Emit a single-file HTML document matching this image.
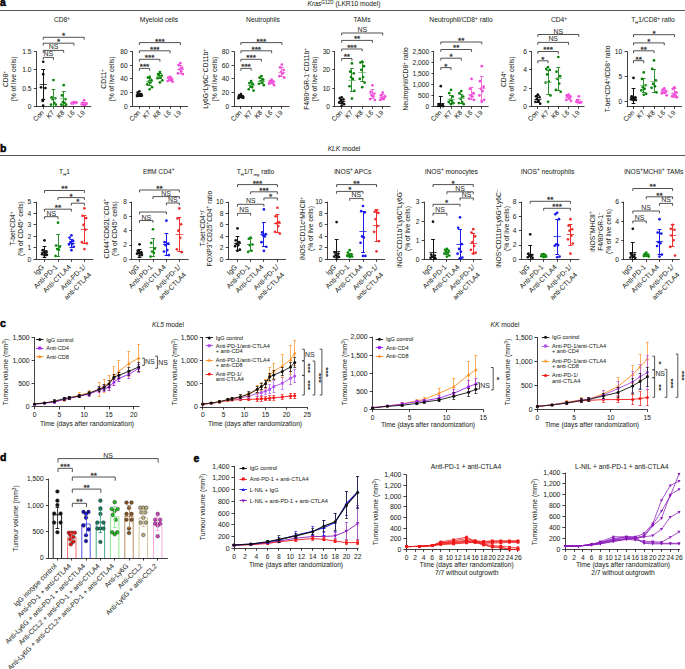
<!DOCTYPE html>
<html><head><meta charset="utf-8"><style>
html,body{margin:0;padding:0;background:#fff;width:685px;height:669px;overflow:hidden}
svg{display:block;font-family:"Liberation Sans",sans-serif}
text{stroke:#231f20;stroke-width:0.04px}
</style></head><body>
<svg width="685" height="669" viewBox="0 0 685 669">
<rect width="685" height="669" fill="#fff"/>
<text x="0.00" y="5.80" font-size="10.50" text-anchor="start" fill="#000" font-weight="bold" style="stroke:#000;stroke-width:0.45px">a</text>
<line x1="0.00" y1="10.50" x2="685.00" y2="10.50" stroke="#555" stroke-width="1.00"/>
<text x="344.00" y="6.30" font-size="6.70" text-anchor="middle" fill="#231f20"><tspan font-style="italic">Kras</tspan><tspan font-size="4.69" dy="-2.21">G12D</tspan><tspan dy="2.21"> (LKR10 model)</tspan></text>
<line x1="36.50" y1="51.20" x2="36.50" y2="106.75" stroke="#231f20" stroke-width="0.85"/>
<line x1="36.00" y1="106.50" x2="91.30" y2="106.50" stroke="#231f20" stroke-width="0.85"/>
<line x1="33.80" y1="106.50" x2="36.30" y2="106.50" stroke="#231f20" stroke-width="0.85"/>
<text x="31.60" y="108.81" font-size="6.70" text-anchor="end" fill="#231f20">0</text>
<line x1="33.80" y1="88.50" x2="36.30" y2="88.50" stroke="#231f20" stroke-width="0.85"/>
<text x="31.60" y="90.51" font-size="6.70" text-anchor="end" fill="#231f20">0.5</text>
<line x1="33.80" y1="69.50" x2="36.30" y2="69.50" stroke="#231f20" stroke-width="0.85"/>
<text x="31.60" y="72.21" font-size="6.70" text-anchor="end" fill="#231f20">1.0</text>
<line x1="33.80" y1="51.50" x2="36.30" y2="51.50" stroke="#231f20" stroke-width="0.85"/>
<text x="31.60" y="53.91" font-size="6.70" text-anchor="end" fill="#231f20">1.5</text>
<line x1="43.50" y1="106.40" x2="43.50" y2="108.90" stroke="#231f20" stroke-width="0.85"/>
<line x1="53.50" y1="106.40" x2="53.50" y2="108.90" stroke="#231f20" stroke-width="0.85"/>
<line x1="63.50" y1="106.40" x2="63.50" y2="108.90" stroke="#231f20" stroke-width="0.85"/>
<line x1="73.50" y1="106.40" x2="73.50" y2="108.90" stroke="#231f20" stroke-width="0.85"/>
<line x1="84.50" y1="106.40" x2="84.50" y2="108.90" stroke="#231f20" stroke-width="0.85"/>
<text x="44.50" y="113.10" font-size="6.70" text-anchor="end" fill="#231f20" transform="rotate(-45 44.50 113.10)">Con</text>
<text x="54.75" y="113.10" font-size="6.70" text-anchor="end" fill="#231f20" transform="rotate(-45 54.75 113.10)">K7</text>
<text x="65.00" y="113.10" font-size="6.70" text-anchor="end" fill="#231f20" transform="rotate(-45 65.00 113.10)">K8</text>
<text x="75.25" y="113.10" font-size="6.70" text-anchor="end" fill="#231f20" transform="rotate(-45 75.25 113.10)">L6</text>
<text x="85.50" y="113.10" font-size="6.70" text-anchor="end" fill="#231f20" transform="rotate(-45 85.50 113.10)">L9</text>
<line x1="43.50" y1="69.43" x2="43.50" y2="99.45" stroke="#111111" stroke-width="1.00"/>
<line x1="41.30" y1="69.50" x2="45.10" y2="69.50" stroke="#111111" stroke-width="1.00"/>
<line x1="41.30" y1="99.50" x2="45.10" y2="99.50" stroke="#111111" stroke-width="1.00"/>
<circle cx="43.20" cy="61.75" r="1.35" fill="#111111"/>
<circle cx="43.20" cy="74.19" r="1.35" fill="#111111"/>
<circle cx="41.00" cy="87.37" r="1.35" fill="#111111"/>
<circle cx="45.40" cy="88.10" r="1.35" fill="#111111"/>
<circle cx="43.20" cy="99.81" r="1.35" fill="#111111"/>
<circle cx="42.70" cy="100.91" r="1.35" fill="#111111"/>
<circle cx="43.20" cy="105.67" r="1.35" fill="#111111"/>
<line x1="39.60" y1="84.50" x2="46.80" y2="84.50" stroke="#111111" stroke-width="0.80"/>
<line x1="53.50" y1="89.56" x2="53.50" y2="106.40" stroke="#2e8f2e" stroke-width="1.00"/>
<line x1="51.55" y1="89.50" x2="55.35" y2="89.50" stroke="#2e8f2e" stroke-width="1.00"/>
<line x1="51.55" y1="106.50" x2="55.35" y2="106.50" stroke="#2e8f2e" stroke-width="1.00"/>
<circle cx="53.45" cy="80.05" r="1.35" fill="#0a820a"/>
<circle cx="51.65" cy="97.25" r="1.35" fill="#0a820a"/>
<circle cx="55.25" cy="98.35" r="1.35" fill="#0a820a"/>
<circle cx="52.55" cy="99.08" r="1.35" fill="#0a820a"/>
<circle cx="54.35" cy="102.74" r="1.35" fill="#0a820a"/>
<circle cx="51.05" cy="104.57" r="1.35" fill="#0a820a"/>
<circle cx="55.85" cy="104.57" r="1.35" fill="#0a820a"/>
<line x1="49.85" y1="98.50" x2="57.05" y2="98.50" stroke="#6ab36a" stroke-width="0.80"/>
<line x1="63.50" y1="91.03" x2="63.50" y2="105.67" stroke="#2e8f2e" stroke-width="1.00"/>
<line x1="61.80" y1="91.50" x2="65.60" y2="91.50" stroke="#2e8f2e" stroke-width="1.00"/>
<line x1="61.80" y1="105.50" x2="65.60" y2="105.50" stroke="#2e8f2e" stroke-width="1.00"/>
<circle cx="63.70" cy="85.17" r="1.35" fill="#0a820a"/>
<circle cx="61.90" cy="95.42" r="1.35" fill="#0a820a"/>
<circle cx="65.50" cy="99.08" r="1.35" fill="#0a820a"/>
<circle cx="62.80" cy="102.01" r="1.35" fill="#0a820a"/>
<circle cx="64.60" cy="102.74" r="1.35" fill="#0a820a"/>
<circle cx="61.30" cy="104.57" r="1.35" fill="#0a820a"/>
<circle cx="66.10" cy="104.57" r="1.35" fill="#0a820a"/>
<line x1="60.10" y1="98.50" x2="67.30" y2="98.50" stroke="#6ab36a" stroke-width="0.80"/>
<line x1="73.50" y1="102.37" x2="73.50" y2="103.84" stroke="#f46ee0" stroke-width="1.00"/>
<line x1="72.05" y1="102.50" x2="75.85" y2="102.50" stroke="#f46ee0" stroke-width="1.00"/>
<line x1="72.05" y1="103.50" x2="75.85" y2="103.50" stroke="#f46ee0" stroke-width="1.00"/>
<circle cx="73.95" cy="102.01" r="1.35" fill="#f04ad8"/>
<circle cx="72.15" cy="102.74" r="1.35" fill="#f04ad8"/>
<circle cx="75.75" cy="103.11" r="1.35" fill="#f04ad8"/>
<circle cx="73.05" cy="103.47" r="1.35" fill="#f04ad8"/>
<circle cx="74.85" cy="102.74" r="1.35" fill="#f04ad8"/>
<circle cx="71.55" cy="103.47" r="1.35" fill="#f04ad8"/>
<circle cx="76.35" cy="102.37" r="1.35" fill="#f04ad8"/>
<line x1="70.35" y1="103.50" x2="77.55" y2="103.50" stroke="#f46ee0" stroke-width="0.80"/>
<line x1="84.50" y1="102.74" x2="84.50" y2="104.94" stroke="#f46ee0" stroke-width="1.00"/>
<line x1="82.30" y1="102.50" x2="86.10" y2="102.50" stroke="#f46ee0" stroke-width="1.00"/>
<line x1="82.30" y1="104.50" x2="86.10" y2="104.50" stroke="#f46ee0" stroke-width="1.00"/>
<circle cx="84.20" cy="100.18" r="1.35" fill="#f04ad8"/>
<circle cx="82.40" cy="102.74" r="1.35" fill="#f04ad8"/>
<circle cx="86.00" cy="103.84" r="1.35" fill="#f04ad8"/>
<circle cx="83.30" cy="104.57" r="1.35" fill="#f04ad8"/>
<circle cx="85.10" cy="104.94" r="1.35" fill="#f04ad8"/>
<circle cx="81.80" cy="104.20" r="1.35" fill="#f04ad8"/>
<circle cx="86.60" cy="103.47" r="1.35" fill="#f04ad8"/>
<line x1="80.60" y1="103.50" x2="87.80" y2="103.50" stroke="#f46ee0" stroke-width="0.80"/>
<polyline points="43.20,39.70 43.20,37.30 84.20,37.30 84.20,39.70" fill="none" stroke="#333333" stroke-width="0.85"/>
<text transform="translate(63.70 38.20) scale(1 0.82)" font-size="8.20" text-anchor="middle" fill="#333333" style="stroke:#333333;stroke-width:0.35px">*</text>
<polyline points="43.20,45.60 43.20,43.20 73.95,43.20 73.95,45.60" fill="none" stroke="#333333" stroke-width="0.85"/>
<text transform="translate(58.57 44.10) scale(1 0.82)" font-size="8.20" text-anchor="middle" fill="#333333" style="stroke:#333333;stroke-width:0.35px">*</text>
<polyline points="43.20,52.80 43.20,50.40 63.70,50.40 63.70,52.80" fill="none" stroke="#333333" stroke-width="0.85"/>
<text x="53.45" y="49.40" font-size="6.90" text-anchor="middle" fill="#333333">NS</text>
<polyline points="43.20,59.80 43.20,57.40 53.45,57.40 53.45,59.80" fill="none" stroke="#333333" stroke-width="0.85"/>
<text x="48.32" y="56.40" font-size="6.90" text-anchor="middle" fill="#333333">NS</text>
<text x="62.00" y="22.00" font-size="6.70" text-anchor="middle" fill="#231f20">CD8<tspan font-size="4.69" dy="-2.21">+</tspan></text>
<text x="8.00" y="78.95" font-size="6.70" text-anchor="middle" fill="#231f20" transform="rotate(-90 8.00 78.95)">CD8<tspan font-size="4.69" dy="-2.21">+</tspan></text>
<text x="16.50" y="78.95" font-size="6.70" text-anchor="middle" fill="#231f20" transform="rotate(-90 16.50 78.95)">(% of live cells)</text>
<line x1="132.50" y1="51.20" x2="132.50" y2="106.75" stroke="#231f20" stroke-width="0.85"/>
<line x1="132.20" y1="106.50" x2="188.00" y2="106.50" stroke="#231f20" stroke-width="0.85"/>
<line x1="130.00" y1="106.50" x2="132.50" y2="106.50" stroke="#231f20" stroke-width="0.85"/>
<text x="127.80" y="108.81" font-size="6.70" text-anchor="end" fill="#231f20">0</text>
<line x1="130.00" y1="92.50" x2="132.50" y2="92.50" stroke="#231f20" stroke-width="0.85"/>
<text x="127.80" y="95.09" font-size="6.70" text-anchor="end" fill="#231f20">20</text>
<line x1="130.00" y1="78.50" x2="132.50" y2="78.50" stroke="#231f20" stroke-width="0.85"/>
<text x="127.80" y="81.36" font-size="6.70" text-anchor="end" fill="#231f20">40</text>
<line x1="130.00" y1="65.50" x2="132.50" y2="65.50" stroke="#231f20" stroke-width="0.85"/>
<text x="127.80" y="67.64" font-size="6.70" text-anchor="end" fill="#231f20">60</text>
<line x1="130.00" y1="51.50" x2="132.50" y2="51.50" stroke="#231f20" stroke-width="0.85"/>
<text x="127.80" y="53.91" font-size="6.70" text-anchor="end" fill="#231f20">80</text>
<line x1="139.50" y1="106.40" x2="139.50" y2="108.90" stroke="#231f20" stroke-width="0.85"/>
<line x1="149.50" y1="106.40" x2="149.50" y2="108.90" stroke="#231f20" stroke-width="0.85"/>
<line x1="159.50" y1="106.40" x2="159.50" y2="108.90" stroke="#231f20" stroke-width="0.85"/>
<line x1="170.50" y1="106.40" x2="170.50" y2="108.90" stroke="#231f20" stroke-width="0.85"/>
<line x1="180.50" y1="106.40" x2="180.50" y2="108.90" stroke="#231f20" stroke-width="0.85"/>
<text x="140.70" y="113.10" font-size="6.70" text-anchor="end" fill="#231f20" transform="rotate(-45 140.70 113.10)">Con</text>
<text x="150.95" y="113.10" font-size="6.70" text-anchor="end" fill="#231f20" transform="rotate(-45 150.95 113.10)">K7</text>
<text x="161.20" y="113.10" font-size="6.70" text-anchor="end" fill="#231f20" transform="rotate(-45 161.20 113.10)">K8</text>
<text x="171.45" y="113.10" font-size="6.70" text-anchor="end" fill="#231f20" transform="rotate(-45 171.45 113.10)">L6</text>
<text x="181.70" y="113.10" font-size="6.70" text-anchor="end" fill="#231f20" transform="rotate(-45 181.70 113.10)">L9</text>
<line x1="139.50" y1="93.02" x2="139.50" y2="96.11" stroke="#111111" stroke-width="1.00"/>
<line x1="137.50" y1="93.50" x2="141.30" y2="93.50" stroke="#111111" stroke-width="1.00"/>
<line x1="137.50" y1="96.50" x2="141.30" y2="96.50" stroke="#111111" stroke-width="1.00"/>
<circle cx="139.40" cy="91.30" r="1.35" fill="#111111"/>
<circle cx="137.60" cy="92.68" r="1.35" fill="#111111"/>
<circle cx="141.20" cy="94.05" r="1.35" fill="#111111"/>
<circle cx="138.50" cy="94.73" r="1.35" fill="#111111"/>
<circle cx="140.30" cy="95.42" r="1.35" fill="#111111"/>
<circle cx="137.00" cy="96.11" r="1.35" fill="#111111"/>
<circle cx="141.80" cy="95.76" r="1.35" fill="#111111"/>
<circle cx="139.40" cy="94.73" r="1.35" fill="#111111"/>
<line x1="135.80" y1="94.50" x2="143.00" y2="94.50" stroke="#111111" stroke-width="0.80"/>
<line x1="149.50" y1="78.26" x2="149.50" y2="85.13" stroke="#2e8f2e" stroke-width="1.00"/>
<line x1="147.75" y1="78.50" x2="151.55" y2="78.50" stroke="#2e8f2e" stroke-width="1.00"/>
<line x1="147.75" y1="85.50" x2="151.55" y2="85.50" stroke="#2e8f2e" stroke-width="1.00"/>
<circle cx="149.65" cy="76.89" r="1.35" fill="#0a820a"/>
<circle cx="147.85" cy="77.58" r="1.35" fill="#0a820a"/>
<circle cx="151.45" cy="80.32" r="1.35" fill="#0a820a"/>
<circle cx="148.75" cy="81.70" r="1.35" fill="#0a820a"/>
<circle cx="150.55" cy="82.38" r="1.35" fill="#0a820a"/>
<circle cx="147.25" cy="84.44" r="1.35" fill="#0a820a"/>
<circle cx="152.05" cy="87.19" r="1.35" fill="#0a820a"/>
<circle cx="149.65" cy="89.24" r="1.35" fill="#0a820a"/>
<line x1="146.05" y1="81.50" x2="153.25" y2="81.50" stroke="#6ab36a" stroke-width="0.80"/>
<line x1="159.50" y1="73.46" x2="159.50" y2="78.95" stroke="#2e8f2e" stroke-width="1.00"/>
<line x1="158.00" y1="73.50" x2="161.80" y2="73.50" stroke="#2e8f2e" stroke-width="1.00"/>
<line x1="158.00" y1="78.50" x2="161.80" y2="78.50" stroke="#2e8f2e" stroke-width="1.00"/>
<circle cx="159.90" cy="72.09" r="1.35" fill="#0a820a"/>
<circle cx="158.10" cy="74.15" r="1.35" fill="#0a820a"/>
<circle cx="161.70" cy="75.52" r="1.35" fill="#0a820a"/>
<circle cx="159.00" cy="76.20" r="1.35" fill="#0a820a"/>
<circle cx="160.80" cy="76.89" r="1.35" fill="#0a820a"/>
<circle cx="157.50" cy="78.26" r="1.35" fill="#0a820a"/>
<circle cx="162.30" cy="80.32" r="1.35" fill="#0a820a"/>
<circle cx="159.90" cy="82.38" r="1.35" fill="#0a820a"/>
<line x1="156.30" y1="76.50" x2="163.50" y2="76.50" stroke="#6ab36a" stroke-width="0.80"/>
<line x1="170.50" y1="77.23" x2="170.50" y2="80.67" stroke="#f46ee0" stroke-width="1.00"/>
<line x1="168.25" y1="77.50" x2="172.05" y2="77.50" stroke="#f46ee0" stroke-width="1.00"/>
<line x1="168.25" y1="80.50" x2="172.05" y2="80.50" stroke="#f46ee0" stroke-width="1.00"/>
<circle cx="170.15" cy="76.89" r="1.35" fill="#f04ad8"/>
<circle cx="168.35" cy="77.58" r="1.35" fill="#f04ad8"/>
<circle cx="171.95" cy="78.95" r="1.35" fill="#f04ad8"/>
<circle cx="169.25" cy="79.64" r="1.35" fill="#f04ad8"/>
<circle cx="171.05" cy="80.32" r="1.35" fill="#f04ad8"/>
<circle cx="167.75" cy="81.01" r="1.35" fill="#f04ad8"/>
<circle cx="172.55" cy="81.70" r="1.35" fill="#f04ad8"/>
<line x1="166.55" y1="78.50" x2="173.75" y2="78.50" stroke="#f46ee0" stroke-width="0.80"/>
<line x1="180.50" y1="65.91" x2="180.50" y2="73.12" stroke="#f46ee0" stroke-width="1.00"/>
<line x1="178.50" y1="65.50" x2="182.30" y2="65.50" stroke="#f46ee0" stroke-width="1.00"/>
<line x1="178.50" y1="73.50" x2="182.30" y2="73.50" stroke="#f46ee0" stroke-width="1.00"/>
<circle cx="180.40" cy="63.17" r="1.35" fill="#f04ad8"/>
<circle cx="178.60" cy="65.22" r="1.35" fill="#f04ad8"/>
<circle cx="182.20" cy="67.97" r="1.35" fill="#f04ad8"/>
<circle cx="179.50" cy="69.34" r="1.35" fill="#f04ad8"/>
<circle cx="181.30" cy="71.40" r="1.35" fill="#f04ad8"/>
<circle cx="178.00" cy="73.46" r="1.35" fill="#f04ad8"/>
<circle cx="182.80" cy="74.15" r="1.35" fill="#f04ad8"/>
<line x1="176.80" y1="69.50" x2="184.00" y2="69.50" stroke="#f46ee0" stroke-width="0.80"/>
<polyline points="139.40,45.00 139.40,42.60 180.40,42.60 180.40,45.00" fill="none" stroke="#333333" stroke-width="0.85"/>
<text transform="translate(159.90 43.50) scale(1 0.82)" font-size="8.20" text-anchor="middle" fill="#333333" style="stroke:#333333;stroke-width:0.35px">***</text>
<polyline points="139.40,53.20 139.40,50.80 170.15,50.80 170.15,53.20" fill="none" stroke="#333333" stroke-width="0.85"/>
<text transform="translate(154.78 51.70) scale(1 0.82)" font-size="8.20" text-anchor="middle" fill="#333333" style="stroke:#333333;stroke-width:0.35px">***</text>
<polyline points="139.40,61.70 139.40,59.30 159.90,59.30 159.90,61.70" fill="none" stroke="#333333" stroke-width="0.85"/>
<text transform="translate(149.65 60.20) scale(1 0.82)" font-size="8.20" text-anchor="middle" fill="#333333" style="stroke:#333333;stroke-width:0.35px">***</text>
<polyline points="139.40,70.80 139.40,68.40 149.65,68.40 149.65,70.80" fill="none" stroke="#333333" stroke-width="0.85"/>
<text transform="translate(144.53 69.30) scale(1 0.82)" font-size="8.20" text-anchor="middle" fill="#333333" style="stroke:#333333;stroke-width:0.35px">***</text>
<text x="159.00" y="22.00" font-size="6.70" text-anchor="middle" fill="#231f20">Myeloid cells</text>
<text x="106.00" y="78.95" font-size="6.70" text-anchor="middle" fill="#231f20" transform="rotate(-90 106.00 78.95)">CD11<tspan font-size="4.69" dy="-2.21">+</tspan></text>
<text x="113.80" y="78.95" font-size="6.70" text-anchor="middle" fill="#231f20" transform="rotate(-90 113.80 78.95)">(% of live cells)</text>
<line x1="234.50" y1="51.20" x2="234.50" y2="106.75" stroke="#231f20" stroke-width="0.85"/>
<line x1="233.70" y1="106.50" x2="289.50" y2="106.50" stroke="#231f20" stroke-width="0.85"/>
<line x1="231.50" y1="106.50" x2="234.00" y2="106.50" stroke="#231f20" stroke-width="0.85"/>
<text x="229.30" y="108.81" font-size="6.70" text-anchor="end" fill="#231f20">0</text>
<line x1="231.50" y1="92.50" x2="234.00" y2="92.50" stroke="#231f20" stroke-width="0.85"/>
<text x="229.30" y="95.09" font-size="6.70" text-anchor="end" fill="#231f20">20</text>
<line x1="231.50" y1="78.50" x2="234.00" y2="78.50" stroke="#231f20" stroke-width="0.85"/>
<text x="229.30" y="81.36" font-size="6.70" text-anchor="end" fill="#231f20">40</text>
<line x1="231.50" y1="65.50" x2="234.00" y2="65.50" stroke="#231f20" stroke-width="0.85"/>
<text x="229.30" y="67.64" font-size="6.70" text-anchor="end" fill="#231f20">60</text>
<line x1="231.50" y1="51.50" x2="234.00" y2="51.50" stroke="#231f20" stroke-width="0.85"/>
<text x="229.30" y="53.91" font-size="6.70" text-anchor="end" fill="#231f20">80</text>
<line x1="240.50" y1="106.40" x2="240.50" y2="108.90" stroke="#231f20" stroke-width="0.85"/>
<line x1="251.50" y1="106.40" x2="251.50" y2="108.90" stroke="#231f20" stroke-width="0.85"/>
<line x1="261.50" y1="106.40" x2="261.50" y2="108.90" stroke="#231f20" stroke-width="0.85"/>
<line x1="271.50" y1="106.40" x2="271.50" y2="108.90" stroke="#231f20" stroke-width="0.85"/>
<line x1="281.50" y1="106.40" x2="281.50" y2="108.90" stroke="#231f20" stroke-width="0.85"/>
<text x="242.20" y="113.10" font-size="6.70" text-anchor="end" fill="#231f20" transform="rotate(-45 242.20 113.10)">Con</text>
<text x="252.45" y="113.10" font-size="6.70" text-anchor="end" fill="#231f20" transform="rotate(-45 252.45 113.10)">K7</text>
<text x="262.70" y="113.10" font-size="6.70" text-anchor="end" fill="#231f20" transform="rotate(-45 262.70 113.10)">K8</text>
<text x="272.95" y="113.10" font-size="6.70" text-anchor="end" fill="#231f20" transform="rotate(-45 272.95 113.10)">L6</text>
<text x="283.20" y="113.10" font-size="6.70" text-anchor="end" fill="#231f20" transform="rotate(-45 283.20 113.10)">L9</text>
<line x1="240.50" y1="95.76" x2="240.50" y2="97.82" stroke="#111111" stroke-width="1.00"/>
<line x1="239.00" y1="95.50" x2="242.80" y2="95.50" stroke="#111111" stroke-width="1.00"/>
<line x1="239.00" y1="97.50" x2="242.80" y2="97.50" stroke="#111111" stroke-width="1.00"/>
<circle cx="240.90" cy="94.05" r="1.35" fill="#111111"/>
<circle cx="239.10" cy="95.42" r="1.35" fill="#111111"/>
<circle cx="242.70" cy="96.11" r="1.35" fill="#111111"/>
<circle cx="240.00" cy="96.79" r="1.35" fill="#111111"/>
<circle cx="241.80" cy="97.48" r="1.35" fill="#111111"/>
<circle cx="238.50" cy="98.17" r="1.35" fill="#111111"/>
<circle cx="243.30" cy="97.82" r="1.35" fill="#111111"/>
<line x1="237.30" y1="96.50" x2="244.50" y2="96.50" stroke="#111111" stroke-width="0.80"/>
<line x1="251.50" y1="82.38" x2="251.50" y2="87.87" stroke="#2e8f2e" stroke-width="1.00"/>
<line x1="249.25" y1="82.50" x2="253.05" y2="82.50" stroke="#2e8f2e" stroke-width="1.00"/>
<line x1="249.25" y1="87.50" x2="253.05" y2="87.50" stroke="#2e8f2e" stroke-width="1.00"/>
<circle cx="251.15" cy="81.01" r="1.35" fill="#0a820a"/>
<circle cx="249.35" cy="83.07" r="1.35" fill="#0a820a"/>
<circle cx="252.95" cy="84.44" r="1.35" fill="#0a820a"/>
<circle cx="250.25" cy="85.81" r="1.35" fill="#0a820a"/>
<circle cx="252.05" cy="87.19" r="1.35" fill="#0a820a"/>
<circle cx="248.75" cy="89.24" r="1.35" fill="#0a820a"/>
<circle cx="253.55" cy="90.62" r="1.35" fill="#0a820a"/>
<line x1="247.55" y1="85.50" x2="254.75" y2="85.50" stroke="#6ab36a" stroke-width="0.80"/>
<line x1="261.50" y1="78.26" x2="261.50" y2="83.75" stroke="#2e8f2e" stroke-width="1.00"/>
<line x1="259.50" y1="78.50" x2="263.30" y2="78.50" stroke="#2e8f2e" stroke-width="1.00"/>
<line x1="259.50" y1="83.50" x2="263.30" y2="83.50" stroke="#2e8f2e" stroke-width="1.00"/>
<circle cx="261.40" cy="76.20" r="1.35" fill="#0a820a"/>
<circle cx="259.60" cy="77.58" r="1.35" fill="#0a820a"/>
<circle cx="263.20" cy="79.64" r="1.35" fill="#0a820a"/>
<circle cx="260.50" cy="81.01" r="1.35" fill="#0a820a"/>
<circle cx="262.30" cy="82.38" r="1.35" fill="#0a820a"/>
<circle cx="259.00" cy="83.75" r="1.35" fill="#0a820a"/>
<circle cx="263.80" cy="85.13" r="1.35" fill="#0a820a"/>
<line x1="257.80" y1="81.50" x2="265.00" y2="81.50" stroke="#6ab36a" stroke-width="0.80"/>
<line x1="271.50" y1="80.32" x2="271.50" y2="83.75" stroke="#f46ee0" stroke-width="1.00"/>
<line x1="269.75" y1="80.50" x2="273.55" y2="80.50" stroke="#f46ee0" stroke-width="1.00"/>
<line x1="269.75" y1="83.50" x2="273.55" y2="83.50" stroke="#f46ee0" stroke-width="1.00"/>
<circle cx="271.65" cy="79.64" r="1.35" fill="#f04ad8"/>
<circle cx="269.85" cy="81.01" r="1.35" fill="#f04ad8"/>
<circle cx="273.45" cy="81.70" r="1.35" fill="#f04ad8"/>
<circle cx="270.75" cy="82.38" r="1.35" fill="#f04ad8"/>
<circle cx="272.55" cy="83.07" r="1.35" fill="#f04ad8"/>
<circle cx="269.25" cy="83.75" r="1.35" fill="#f04ad8"/>
<circle cx="274.05" cy="85.13" r="1.35" fill="#f04ad8"/>
<line x1="268.05" y1="82.50" x2="275.25" y2="82.50" stroke="#f46ee0" stroke-width="0.80"/>
<line x1="281.50" y1="67.97" x2="281.50" y2="76.20" stroke="#f46ee0" stroke-width="1.00"/>
<line x1="280.00" y1="67.50" x2="283.80" y2="67.50" stroke="#f46ee0" stroke-width="1.00"/>
<line x1="280.00" y1="76.50" x2="283.80" y2="76.50" stroke="#f46ee0" stroke-width="1.00"/>
<circle cx="281.90" cy="64.54" r="1.35" fill="#f04ad8"/>
<circle cx="280.10" cy="67.28" r="1.35" fill="#f04ad8"/>
<circle cx="283.70" cy="70.03" r="1.35" fill="#f04ad8"/>
<circle cx="281.00" cy="72.09" r="1.35" fill="#f04ad8"/>
<circle cx="282.80" cy="73.46" r="1.35" fill="#f04ad8"/>
<circle cx="279.50" cy="76.20" r="1.35" fill="#f04ad8"/>
<circle cx="284.30" cy="77.58" r="1.35" fill="#f04ad8"/>
<line x1="278.30" y1="72.50" x2="285.50" y2="72.50" stroke="#f46ee0" stroke-width="0.80"/>
<polyline points="240.90,45.00 240.90,42.60 281.90,42.60 281.90,45.00" fill="none" stroke="#333333" stroke-width="0.85"/>
<text transform="translate(261.40 43.50) scale(1 0.82)" font-size="8.20" text-anchor="middle" fill="#333333" style="stroke:#333333;stroke-width:0.35px">***</text>
<polyline points="240.90,53.20 240.90,50.80 271.65,50.80 271.65,53.20" fill="none" stroke="#333333" stroke-width="0.85"/>
<text transform="translate(256.27 51.70) scale(1 0.82)" font-size="8.20" text-anchor="middle" fill="#333333" style="stroke:#333333;stroke-width:0.35px">***</text>
<polyline points="240.90,61.70 240.90,59.30 261.40,59.30 261.40,61.70" fill="none" stroke="#333333" stroke-width="0.85"/>
<text transform="translate(251.15 60.20) scale(1 0.82)" font-size="8.20" text-anchor="middle" fill="#333333" style="stroke:#333333;stroke-width:0.35px">***</text>
<polyline points="240.90,70.80 240.90,68.40 251.15,68.40 251.15,70.80" fill="none" stroke="#333333" stroke-width="0.85"/>
<text transform="translate(246.03 69.30) scale(1 0.82)" font-size="8.20" text-anchor="middle" fill="#333333" style="stroke:#333333;stroke-width:0.35px">***</text>
<text x="263.00" y="22.00" font-size="6.70" text-anchor="middle" fill="#231f20">Neutrophils</text>
<text x="207.90" y="78.95" font-size="6.70" text-anchor="middle" fill="#231f20" transform="rotate(-90 207.90 78.95)">Ly6G<tspan font-size="4.69" dy="-2.21">+</tspan><tspan dy="2.21">Ly6C</tspan><tspan font-size="4.69" dy="-2.21">−</tspan><tspan dy="2.21">CD11b</tspan><tspan font-size="4.69" dy="-2.21">+</tspan></text>
<text x="216.80" y="78.95" font-size="6.70" text-anchor="middle" fill="#231f20" transform="rotate(-90 216.80 78.95)">(% of live cells)</text>
<line x1="334.50" y1="51.20" x2="334.50" y2="106.75" stroke="#231f20" stroke-width="0.85"/>
<line x1="334.50" y1="106.50" x2="390.50" y2="106.50" stroke="#231f20" stroke-width="0.85"/>
<line x1="332.30" y1="106.50" x2="334.80" y2="106.50" stroke="#231f20" stroke-width="0.85"/>
<text x="330.10" y="108.81" font-size="6.70" text-anchor="end" fill="#231f20">0</text>
<line x1="332.30" y1="88.50" x2="334.80" y2="88.50" stroke="#231f20" stroke-width="0.85"/>
<text x="330.10" y="90.51" font-size="6.70" text-anchor="end" fill="#231f20">10</text>
<line x1="332.30" y1="69.50" x2="334.80" y2="69.50" stroke="#231f20" stroke-width="0.85"/>
<text x="330.10" y="72.21" font-size="6.70" text-anchor="end" fill="#231f20">20</text>
<line x1="332.30" y1="51.50" x2="334.80" y2="51.50" stroke="#231f20" stroke-width="0.85"/>
<text x="330.10" y="53.91" font-size="6.70" text-anchor="end" fill="#231f20">30</text>
<line x1="341.50" y1="106.40" x2="341.50" y2="108.90" stroke="#231f20" stroke-width="0.85"/>
<line x1="351.50" y1="106.40" x2="351.50" y2="108.90" stroke="#231f20" stroke-width="0.85"/>
<line x1="362.50" y1="106.40" x2="362.50" y2="108.90" stroke="#231f20" stroke-width="0.85"/>
<line x1="372.50" y1="106.40" x2="372.50" y2="108.90" stroke="#231f20" stroke-width="0.85"/>
<line x1="382.50" y1="106.40" x2="382.50" y2="108.90" stroke="#231f20" stroke-width="0.85"/>
<text x="343.00" y="113.10" font-size="6.70" text-anchor="end" fill="#231f20" transform="rotate(-45 343.00 113.10)">Con</text>
<text x="353.25" y="113.10" font-size="6.70" text-anchor="end" fill="#231f20" transform="rotate(-45 353.25 113.10)">K7</text>
<text x="363.50" y="113.10" font-size="6.70" text-anchor="end" fill="#231f20" transform="rotate(-45 363.50 113.10)">K8</text>
<text x="373.75" y="113.10" font-size="6.70" text-anchor="end" fill="#231f20" transform="rotate(-45 373.75 113.10)">L6</text>
<text x="384.00" y="113.10" font-size="6.70" text-anchor="end" fill="#231f20" transform="rotate(-45 384.00 113.10)">L9</text>
<line x1="341.50" y1="99.08" x2="341.50" y2="103.84" stroke="#111111" stroke-width="1.00"/>
<line x1="339.80" y1="99.50" x2="343.60" y2="99.50" stroke="#111111" stroke-width="1.00"/>
<line x1="339.80" y1="103.50" x2="343.60" y2="103.50" stroke="#111111" stroke-width="1.00"/>
<circle cx="341.70" cy="97.25" r="1.35" fill="#111111"/>
<circle cx="339.90" cy="98.17" r="1.35" fill="#111111"/>
<circle cx="343.50" cy="99.45" r="1.35" fill="#111111"/>
<circle cx="340.80" cy="100.91" r="1.35" fill="#111111"/>
<circle cx="342.60" cy="101.83" r="1.35" fill="#111111"/>
<circle cx="339.30" cy="102.74" r="1.35" fill="#111111"/>
<circle cx="344.10" cy="104.20" r="1.35" fill="#111111"/>
<circle cx="341.70" cy="105.48" r="1.35" fill="#111111"/>
<line x1="338.10" y1="101.50" x2="345.30" y2="101.50" stroke="#111111" stroke-width="0.80"/>
<line x1="351.50" y1="68.34" x2="351.50" y2="91.39" stroke="#2e8f2e" stroke-width="1.00"/>
<line x1="350.05" y1="68.50" x2="353.85" y2="68.50" stroke="#2e8f2e" stroke-width="1.00"/>
<line x1="350.05" y1="91.50" x2="353.85" y2="91.50" stroke="#2e8f2e" stroke-width="1.00"/>
<circle cx="351.95" cy="63.40" r="1.35" fill="#0a820a"/>
<circle cx="350.15" cy="71.63" r="1.35" fill="#0a820a"/>
<circle cx="353.75" cy="73.46" r="1.35" fill="#0a820a"/>
<circle cx="351.05" cy="77.12" r="1.35" fill="#0a820a"/>
<circle cx="352.85" cy="78.95" r="1.35" fill="#0a820a"/>
<circle cx="349.55" cy="86.27" r="1.35" fill="#0a820a"/>
<circle cx="354.35" cy="90.84" r="1.35" fill="#0a820a"/>
<circle cx="351.95" cy="98.53" r="1.35" fill="#0a820a"/>
<line x1="348.35" y1="80.50" x2="355.55" y2="80.50" stroke="#6ab36a" stroke-width="0.80"/>
<line x1="362.50" y1="62.85" x2="362.50" y2="81.70" stroke="#2e8f2e" stroke-width="1.00"/>
<line x1="360.30" y1="62.50" x2="364.10" y2="62.50" stroke="#2e8f2e" stroke-width="1.00"/>
<line x1="360.30" y1="81.50" x2="364.10" y2="81.50" stroke="#2e8f2e" stroke-width="1.00"/>
<circle cx="362.20" cy="61.57" r="1.35" fill="#0a820a"/>
<circle cx="360.40" cy="62.48" r="1.35" fill="#0a820a"/>
<circle cx="364.00" cy="66.14" r="1.35" fill="#0a820a"/>
<circle cx="361.30" cy="69.80" r="1.35" fill="#0a820a"/>
<circle cx="363.10" cy="77.12" r="1.35" fill="#0a820a"/>
<circle cx="359.80" cy="78.95" r="1.35" fill="#0a820a"/>
<circle cx="364.60" cy="82.61" r="1.35" fill="#0a820a"/>
<circle cx="362.20" cy="87.19" r="1.35" fill="#0a820a"/>
<line x1="358.60" y1="72.50" x2="365.80" y2="72.50" stroke="#6ab36a" stroke-width="0.80"/>
<line x1="372.50" y1="89.93" x2="372.50" y2="98.17" stroke="#f46ee0" stroke-width="1.00"/>
<line x1="370.55" y1="89.50" x2="374.35" y2="89.50" stroke="#f46ee0" stroke-width="1.00"/>
<line x1="370.55" y1="98.50" x2="374.35" y2="98.50" stroke="#f46ee0" stroke-width="1.00"/>
<circle cx="372.45" cy="85.36" r="1.35" fill="#f04ad8"/>
<circle cx="370.65" cy="91.76" r="1.35" fill="#f04ad8"/>
<circle cx="374.25" cy="93.59" r="1.35" fill="#f04ad8"/>
<circle cx="371.55" cy="95.42" r="1.35" fill="#f04ad8"/>
<circle cx="373.35" cy="96.34" r="1.35" fill="#f04ad8"/>
<circle cx="370.05" cy="99.08" r="1.35" fill="#f04ad8"/>
<circle cx="374.85" cy="100.00" r="1.35" fill="#f04ad8"/>
<line x1="368.85" y1="93.50" x2="376.05" y2="93.50" stroke="#f46ee0" stroke-width="0.80"/>
<line x1="382.50" y1="94.51" x2="382.50" y2="100.00" stroke="#f46ee0" stroke-width="1.00"/>
<line x1="380.80" y1="94.50" x2="384.60" y2="94.50" stroke="#f46ee0" stroke-width="1.00"/>
<line x1="380.80" y1="99.50" x2="384.60" y2="99.50" stroke="#f46ee0" stroke-width="1.00"/>
<circle cx="382.70" cy="92.68" r="1.35" fill="#f04ad8"/>
<circle cx="380.90" cy="95.42" r="1.35" fill="#f04ad8"/>
<circle cx="384.50" cy="97.25" r="1.35" fill="#f04ad8"/>
<circle cx="381.80" cy="98.17" r="1.35" fill="#f04ad8"/>
<circle cx="383.60" cy="99.08" r="1.35" fill="#f04ad8"/>
<circle cx="380.30" cy="100.00" r="1.35" fill="#f04ad8"/>
<circle cx="385.10" cy="96.34" r="1.35" fill="#f04ad8"/>
<line x1="379.10" y1="97.50" x2="386.30" y2="97.50" stroke="#f46ee0" stroke-width="0.80"/>
<polyline points="341.70,35.40 341.70,33.00 382.70,33.00 382.70,35.40" fill="none" stroke="#333333" stroke-width="0.85"/>
<text x="362.20" y="32.00" font-size="6.90" text-anchor="middle" fill="#333333">NS</text>
<polyline points="341.70,42.80 341.70,40.40 372.45,40.40 372.45,42.80" fill="none" stroke="#333333" stroke-width="0.85"/>
<text transform="translate(357.07 41.30) scale(1 0.82)" font-size="8.20" text-anchor="middle" fill="#333333" style="stroke:#333333;stroke-width:0.35px">**</text>
<polyline points="341.70,51.40 341.70,49.00 362.20,49.00 362.20,51.40" fill="none" stroke="#333333" stroke-width="0.85"/>
<text transform="translate(351.95 49.90) scale(1 0.82)" font-size="8.20" text-anchor="middle" fill="#333333" style="stroke:#333333;stroke-width:0.35px">***</text>
<polyline points="341.70,60.90 341.70,58.50 351.95,58.50 351.95,60.90" fill="none" stroke="#333333" stroke-width="0.85"/>
<text transform="translate(346.82 59.40) scale(1 0.82)" font-size="8.20" text-anchor="middle" fill="#333333" style="stroke:#333333;stroke-width:0.35px">**</text>
<text x="362.00" y="22.00" font-size="6.70" text-anchor="middle" fill="#231f20">TAMs</text>
<text x="309.50" y="78.95" font-size="6.70" text-anchor="middle" fill="#231f20" transform="rotate(-90 309.50 78.95)">F4/80<tspan font-size="4.69" dy="-2.21">+</tspan><tspan dy="2.21">GR-1</tspan><tspan font-size="4.69" dy="-2.21">−</tspan><tspan dy="2.21">CD11b</tspan><tspan font-size="4.69" dy="-2.21">+</tspan></text>
<text x="317.50" y="78.95" font-size="6.70" text-anchor="middle" fill="#231f20" transform="rotate(-90 317.50 78.95)">(% of live cells)</text>
<line x1="433.50" y1="51.20" x2="433.50" y2="106.75" stroke="#231f20" stroke-width="0.85"/>
<line x1="433.60" y1="106.50" x2="488.60" y2="106.50" stroke="#231f20" stroke-width="0.85"/>
<line x1="431.40" y1="106.50" x2="433.90" y2="106.50" stroke="#231f20" stroke-width="0.85"/>
<text x="429.20" y="108.81" font-size="6.70" text-anchor="end" fill="#231f20">0</text>
<line x1="431.40" y1="95.50" x2="433.90" y2="95.50" stroke="#231f20" stroke-width="0.85"/>
<text x="429.20" y="97.83" font-size="6.70" text-anchor="end" fill="#231f20">500</text>
<line x1="431.40" y1="84.50" x2="433.90" y2="84.50" stroke="#231f20" stroke-width="0.85"/>
<text x="429.20" y="86.85" font-size="6.70" text-anchor="end" fill="#231f20">1,000</text>
<line x1="431.40" y1="73.50" x2="433.90" y2="73.50" stroke="#231f20" stroke-width="0.85"/>
<text x="429.20" y="75.87" font-size="6.70" text-anchor="end" fill="#231f20">1,500</text>
<line x1="431.40" y1="62.50" x2="433.90" y2="62.50" stroke="#231f20" stroke-width="0.85"/>
<text x="429.20" y="64.89" font-size="6.70" text-anchor="end" fill="#231f20">2,000</text>
<line x1="431.40" y1="51.50" x2="433.90" y2="51.50" stroke="#231f20" stroke-width="0.85"/>
<text x="429.20" y="53.91" font-size="6.70" text-anchor="end" fill="#231f20">2,500</text>
<line x1="440.50" y1="106.40" x2="440.50" y2="108.90" stroke="#231f20" stroke-width="0.85"/>
<line x1="451.50" y1="106.40" x2="451.50" y2="108.90" stroke="#231f20" stroke-width="0.85"/>
<line x1="461.50" y1="106.40" x2="461.50" y2="108.90" stroke="#231f20" stroke-width="0.85"/>
<line x1="471.50" y1="106.40" x2="471.50" y2="108.90" stroke="#231f20" stroke-width="0.85"/>
<line x1="481.50" y1="106.40" x2="481.50" y2="108.90" stroke="#231f20" stroke-width="0.85"/>
<text x="442.10" y="113.10" font-size="6.70" text-anchor="end" fill="#231f20" transform="rotate(-45 442.10 113.10)">Con</text>
<text x="452.35" y="113.10" font-size="6.70" text-anchor="end" fill="#231f20" transform="rotate(-45 452.35 113.10)">K7</text>
<text x="462.60" y="113.10" font-size="6.70" text-anchor="end" fill="#231f20" transform="rotate(-45 462.60 113.10)">K8</text>
<text x="472.85" y="113.10" font-size="6.70" text-anchor="end" fill="#231f20" transform="rotate(-45 472.85 113.10)">L6</text>
<text x="483.10" y="113.10" font-size="6.70" text-anchor="end" fill="#231f20" transform="rotate(-45 483.10 113.10)">L9</text>
<line x1="440.50" y1="96.52" x2="440.50" y2="106.40" stroke="#111111" stroke-width="1.00"/>
<line x1="438.90" y1="96.50" x2="442.70" y2="96.50" stroke="#111111" stroke-width="1.00"/>
<line x1="438.90" y1="106.50" x2="442.70" y2="106.50" stroke="#111111" stroke-width="1.00"/>
<circle cx="440.80" cy="86.20" r="1.35" fill="#111111"/>
<circle cx="439.00" cy="104.20" r="1.35" fill="#111111"/>
<circle cx="442.60" cy="104.64" r="1.35" fill="#111111"/>
<circle cx="439.90" cy="105.30" r="1.35" fill="#111111"/>
<circle cx="441.70" cy="105.74" r="1.35" fill="#111111"/>
<circle cx="438.40" cy="105.96" r="1.35" fill="#111111"/>
<circle cx="443.20" cy="106.18" r="1.35" fill="#111111"/>
<line x1="437.20" y1="103.50" x2="444.40" y2="103.50" stroke="#111111" stroke-width="0.80"/>
<line x1="451.50" y1="95.20" x2="451.50" y2="103.98" stroke="#2e8f2e" stroke-width="1.00"/>
<line x1="449.15" y1="95.50" x2="452.95" y2="95.50" stroke="#2e8f2e" stroke-width="1.00"/>
<line x1="449.15" y1="103.50" x2="452.95" y2="103.50" stroke="#2e8f2e" stroke-width="1.00"/>
<circle cx="451.05" cy="89.93" r="1.35" fill="#0a820a"/>
<circle cx="449.25" cy="93.22" r="1.35" fill="#0a820a"/>
<circle cx="452.85" cy="96.52" r="1.35" fill="#0a820a"/>
<circle cx="450.15" cy="99.81" r="1.35" fill="#0a820a"/>
<circle cx="451.95" cy="100.91" r="1.35" fill="#0a820a"/>
<circle cx="448.65" cy="102.01" r="1.35" fill="#0a820a"/>
<circle cx="453.45" cy="103.11" r="1.35" fill="#0a820a"/>
<circle cx="451.05" cy="104.20" r="1.35" fill="#0a820a"/>
<line x1="447.45" y1="99.50" x2="454.65" y2="99.50" stroke="#6ab36a" stroke-width="0.80"/>
<line x1="461.50" y1="94.10" x2="461.50" y2="103.55" stroke="#2e8f2e" stroke-width="1.00"/>
<line x1="459.40" y1="94.50" x2="463.20" y2="94.50" stroke="#2e8f2e" stroke-width="1.00"/>
<line x1="459.40" y1="103.50" x2="463.20" y2="103.50" stroke="#2e8f2e" stroke-width="1.00"/>
<circle cx="461.30" cy="91.03" r="1.35" fill="#0a820a"/>
<circle cx="459.50" cy="93.22" r="1.35" fill="#0a820a"/>
<circle cx="463.10" cy="96.52" r="1.35" fill="#0a820a"/>
<circle cx="460.40" cy="98.71" r="1.35" fill="#0a820a"/>
<circle cx="462.20" cy="102.01" r="1.35" fill="#0a820a"/>
<circle cx="458.90" cy="103.11" r="1.35" fill="#0a820a"/>
<circle cx="463.70" cy="104.20" r="1.35" fill="#0a820a"/>
<line x1="457.70" y1="98.50" x2="464.90" y2="98.50" stroke="#6ab36a" stroke-width="0.80"/>
<line x1="471.50" y1="87.08" x2="471.50" y2="99.81" stroke="#f46ee0" stroke-width="1.00"/>
<line x1="469.65" y1="87.50" x2="473.45" y2="87.50" stroke="#f46ee0" stroke-width="1.00"/>
<line x1="469.65" y1="99.50" x2="473.45" y2="99.50" stroke="#f46ee0" stroke-width="1.00"/>
<circle cx="471.55" cy="78.95" r="1.35" fill="#f04ad8"/>
<circle cx="469.75" cy="88.83" r="1.35" fill="#f04ad8"/>
<circle cx="473.35" cy="93.22" r="1.35" fill="#f04ad8"/>
<circle cx="470.65" cy="95.42" r="1.35" fill="#f04ad8"/>
<circle cx="472.45" cy="96.52" r="1.35" fill="#f04ad8"/>
<circle cx="469.15" cy="98.71" r="1.35" fill="#f04ad8"/>
<circle cx="473.95" cy="99.81" r="1.35" fill="#f04ad8"/>
<line x1="467.95" y1="94.50" x2="475.15" y2="94.50" stroke="#f46ee0" stroke-width="0.80"/>
<line x1="481.50" y1="76.97" x2="481.50" y2="100.69" stroke="#f46ee0" stroke-width="1.00"/>
<line x1="479.90" y1="76.50" x2="483.70" y2="76.50" stroke="#f46ee0" stroke-width="1.00"/>
<line x1="479.90" y1="100.50" x2="483.70" y2="100.50" stroke="#f46ee0" stroke-width="1.00"/>
<circle cx="481.80" cy="66.21" r="1.35" fill="#f04ad8"/>
<circle cx="480.00" cy="81.15" r="1.35" fill="#f04ad8"/>
<circle cx="483.60" cy="86.64" r="1.35" fill="#f04ad8"/>
<circle cx="480.90" cy="88.83" r="1.35" fill="#f04ad8"/>
<circle cx="482.70" cy="91.03" r="1.35" fill="#f04ad8"/>
<circle cx="479.40" cy="95.42" r="1.35" fill="#f04ad8"/>
<circle cx="484.20" cy="99.81" r="1.35" fill="#f04ad8"/>
<circle cx="481.80" cy="102.01" r="1.35" fill="#f04ad8"/>
<line x1="478.20" y1="88.50" x2="485.40" y2="88.50" stroke="#f46ee0" stroke-width="0.80"/>
<polyline points="440.80,44.40 440.80,42.00 481.80,42.00 481.80,44.40" fill="none" stroke="#333333" stroke-width="0.85"/>
<text transform="translate(461.30 42.90) scale(1 0.82)" font-size="8.20" text-anchor="middle" fill="#333333" style="stroke:#333333;stroke-width:0.35px">**</text>
<polyline points="440.80,51.90 440.80,49.50 471.55,49.50 471.55,51.90" fill="none" stroke="#333333" stroke-width="0.85"/>
<text transform="translate(456.17 50.40) scale(1 0.82)" font-size="8.20" text-anchor="middle" fill="#333333" style="stroke:#333333;stroke-width:0.35px">**</text>
<polyline points="440.80,60.60 440.80,58.20 461.30,58.20 461.30,60.60" fill="none" stroke="#333333" stroke-width="0.85"/>
<text transform="translate(451.05 59.10) scale(1 0.82)" font-size="8.20" text-anchor="middle" fill="#333333" style="stroke:#333333;stroke-width:0.35px">*</text>
<polyline points="440.80,70.00 440.80,67.60 451.05,67.60 451.05,70.00" fill="none" stroke="#333333" stroke-width="0.85"/>
<text transform="translate(445.92 68.50) scale(1 0.82)" font-size="8.20" text-anchor="middle" fill="#333333" style="stroke:#333333;stroke-width:0.35px">*</text>
<text x="461.00" y="22.00" font-size="6.70" text-anchor="middle" fill="#231f20">Neutrophil/CD8<tspan font-size="4.69" dy="-2.21">+</tspan><tspan dy="2.21"> ratio</tspan></text>
<text x="408.50" y="78.95" font-size="6.70" text-anchor="middle" fill="#231f20" transform="rotate(-90 408.50 78.95)">Neutrophil/CD8<tspan font-size="4.69" dy="-2.21">+</tspan><tspan dy="2.21"> ratio</tspan></text>
<line x1="531.50" y1="51.20" x2="531.50" y2="106.75" stroke="#231f20" stroke-width="0.85"/>
<line x1="531.30" y1="106.50" x2="584.50" y2="106.50" stroke="#231f20" stroke-width="0.85"/>
<line x1="529.10" y1="106.50" x2="531.60" y2="106.50" stroke="#231f20" stroke-width="0.85"/>
<text x="526.90" y="108.81" font-size="6.70" text-anchor="end" fill="#231f20">0</text>
<line x1="529.10" y1="88.50" x2="531.60" y2="88.50" stroke="#231f20" stroke-width="0.85"/>
<text x="526.90" y="90.51" font-size="6.70" text-anchor="end" fill="#231f20">2</text>
<line x1="529.10" y1="69.50" x2="531.60" y2="69.50" stroke="#231f20" stroke-width="0.85"/>
<text x="526.90" y="72.21" font-size="6.70" text-anchor="end" fill="#231f20">4</text>
<line x1="529.10" y1="51.50" x2="531.60" y2="51.50" stroke="#231f20" stroke-width="0.85"/>
<text x="526.90" y="53.91" font-size="6.70" text-anchor="end" fill="#231f20">6</text>
<line x1="537.50" y1="106.40" x2="537.50" y2="108.90" stroke="#231f20" stroke-width="0.85"/>
<line x1="548.50" y1="106.40" x2="548.50" y2="108.90" stroke="#231f20" stroke-width="0.85"/>
<line x1="558.50" y1="106.40" x2="558.50" y2="108.90" stroke="#231f20" stroke-width="0.85"/>
<line x1="568.50" y1="106.40" x2="568.50" y2="108.90" stroke="#231f20" stroke-width="0.85"/>
<line x1="578.50" y1="106.40" x2="578.50" y2="108.90" stroke="#231f20" stroke-width="0.85"/>
<text x="539.10" y="113.10" font-size="6.70" text-anchor="end" fill="#231f20" transform="rotate(-45 539.10 113.10)">Con</text>
<text x="549.35" y="113.10" font-size="6.70" text-anchor="end" fill="#231f20" transform="rotate(-45 549.35 113.10)">K7</text>
<text x="559.60" y="113.10" font-size="6.70" text-anchor="end" fill="#231f20" transform="rotate(-45 559.60 113.10)">K8</text>
<text x="569.85" y="113.10" font-size="6.70" text-anchor="end" fill="#231f20" transform="rotate(-45 569.85 113.10)">L6</text>
<text x="580.10" y="113.10" font-size="6.70" text-anchor="end" fill="#231f20" transform="rotate(-45 580.10 113.10)">L9</text>
<line x1="537.50" y1="95.42" x2="537.50" y2="102.74" stroke="#111111" stroke-width="1.00"/>
<line x1="535.90" y1="95.50" x2="539.70" y2="95.50" stroke="#111111" stroke-width="1.00"/>
<line x1="535.90" y1="102.50" x2="539.70" y2="102.50" stroke="#111111" stroke-width="1.00"/>
<circle cx="537.80" cy="94.51" r="1.35" fill="#111111"/>
<circle cx="536.00" cy="96.34" r="1.35" fill="#111111"/>
<circle cx="539.60" cy="97.25" r="1.35" fill="#111111"/>
<circle cx="536.90" cy="99.08" r="1.35" fill="#111111"/>
<circle cx="538.70" cy="100.91" r="1.35" fill="#111111"/>
<circle cx="535.40" cy="101.83" r="1.35" fill="#111111"/>
<circle cx="540.20" cy="103.66" r="1.35" fill="#111111"/>
<line x1="534.20" y1="99.50" x2="541.40" y2="99.50" stroke="#111111" stroke-width="0.80"/>
<line x1="548.50" y1="70.72" x2="548.50" y2="94.51" stroke="#2e8f2e" stroke-width="1.00"/>
<line x1="546.15" y1="70.50" x2="549.95" y2="70.50" stroke="#2e8f2e" stroke-width="1.00"/>
<line x1="546.15" y1="94.50" x2="549.95" y2="94.50" stroke="#2e8f2e" stroke-width="1.00"/>
<circle cx="548.05" cy="67.06" r="1.35" fill="#0a820a"/>
<circle cx="546.25" cy="68.89" r="1.35" fill="#0a820a"/>
<circle cx="549.85" cy="69.80" r="1.35" fill="#0a820a"/>
<circle cx="547.15" cy="74.38" r="1.35" fill="#0a820a"/>
<circle cx="548.95" cy="81.70" r="1.35" fill="#0a820a"/>
<circle cx="545.65" cy="82.61" r="1.35" fill="#0a820a"/>
<circle cx="550.45" cy="95.42" r="1.35" fill="#0a820a"/>
<circle cx="548.05" cy="101.83" r="1.35" fill="#0a820a"/>
<line x1="544.45" y1="82.50" x2="551.65" y2="82.50" stroke="#6ab36a" stroke-width="0.80"/>
<line x1="558.50" y1="67.06" x2="558.50" y2="90.84" stroke="#2e8f2e" stroke-width="1.00"/>
<line x1="556.40" y1="67.50" x2="560.20" y2="67.50" stroke="#2e8f2e" stroke-width="1.00"/>
<line x1="556.40" y1="90.50" x2="560.20" y2="90.50" stroke="#2e8f2e" stroke-width="1.00"/>
<circle cx="558.30" cy="56.99" r="1.35" fill="#0a820a"/>
<circle cx="556.50" cy="71.63" r="1.35" fill="#0a820a"/>
<circle cx="560.10" cy="76.21" r="1.35" fill="#0a820a"/>
<circle cx="557.40" cy="78.95" r="1.35" fill="#0a820a"/>
<circle cx="559.20" cy="83.53" r="1.35" fill="#0a820a"/>
<circle cx="555.90" cy="89.93" r="1.35" fill="#0a820a"/>
<circle cx="560.70" cy="91.76" r="1.35" fill="#0a820a"/>
<line x1="554.70" y1="78.50" x2="561.90" y2="78.50" stroke="#6ab36a" stroke-width="0.80"/>
<line x1="568.50" y1="95.42" x2="568.50" y2="99.08" stroke="#f46ee0" stroke-width="1.00"/>
<line x1="566.65" y1="95.50" x2="570.45" y2="95.50" stroke="#f46ee0" stroke-width="1.00"/>
<line x1="566.65" y1="99.50" x2="570.45" y2="99.50" stroke="#f46ee0" stroke-width="1.00"/>
<circle cx="568.55" cy="94.51" r="1.35" fill="#f04ad8"/>
<circle cx="566.75" cy="95.42" r="1.35" fill="#f04ad8"/>
<circle cx="570.35" cy="96.34" r="1.35" fill="#f04ad8"/>
<circle cx="567.65" cy="97.25" r="1.35" fill="#f04ad8"/>
<circle cx="569.45" cy="98.17" r="1.35" fill="#f04ad8"/>
<circle cx="566.15" cy="100.00" r="1.35" fill="#f04ad8"/>
<circle cx="570.95" cy="100.91" r="1.35" fill="#f04ad8"/>
<line x1="564.95" y1="97.50" x2="572.15" y2="97.50" stroke="#f46ee0" stroke-width="0.80"/>
<line x1="578.50" y1="99.08" x2="578.50" y2="102.74" stroke="#f46ee0" stroke-width="1.00"/>
<line x1="576.90" y1="99.50" x2="580.70" y2="99.50" stroke="#f46ee0" stroke-width="1.00"/>
<line x1="576.90" y1="102.50" x2="580.70" y2="102.50" stroke="#f46ee0" stroke-width="1.00"/>
<circle cx="578.80" cy="96.34" r="1.35" fill="#f04ad8"/>
<circle cx="577.00" cy="100.00" r="1.35" fill="#f04ad8"/>
<circle cx="580.60" cy="101.83" r="1.35" fill="#f04ad8"/>
<circle cx="577.90" cy="102.28" r="1.35" fill="#f04ad8"/>
<circle cx="579.70" cy="102.74" r="1.35" fill="#f04ad8"/>
<circle cx="576.40" cy="101.83" r="1.35" fill="#f04ad8"/>
<circle cx="581.20" cy="102.28" r="1.35" fill="#f04ad8"/>
<line x1="575.20" y1="101.50" x2="582.40" y2="101.50" stroke="#f46ee0" stroke-width="0.80"/>
<polyline points="537.80,36.90 537.80,34.50 578.80,34.50 578.80,36.90" fill="none" stroke="#333333" stroke-width="0.85"/>
<text x="558.30" y="33.50" font-size="6.90" text-anchor="middle" fill="#333333">NS</text>
<polyline points="537.80,44.80 537.80,42.40 568.55,42.40 568.55,44.80" fill="none" stroke="#333333" stroke-width="0.85"/>
<text x="553.18" y="41.40" font-size="6.90" text-anchor="middle" fill="#333333">NS</text>
<polyline points="537.80,53.90 537.80,51.50 558.30,51.50 558.30,53.90" fill="none" stroke="#333333" stroke-width="0.85"/>
<text transform="translate(548.05 52.40) scale(1 0.82)" font-size="8.20" text-anchor="middle" fill="#333333" style="stroke:#333333;stroke-width:0.35px">***</text>
<polyline points="537.80,63.20 537.80,60.80 548.05,60.80 548.05,63.20" fill="none" stroke="#333333" stroke-width="0.85"/>
<text transform="translate(542.93 61.70) scale(1 0.82)" font-size="8.20" text-anchor="middle" fill="#333333" style="stroke:#333333;stroke-width:0.35px">*</text>
<text x="559.00" y="22.00" font-size="6.70" text-anchor="middle" fill="#231f20">CD4<tspan font-size="4.69" dy="-2.21">+</tspan></text>
<text x="506.00" y="78.95" font-size="6.70" text-anchor="middle" fill="#231f20" transform="rotate(-90 506.00 78.95)">CD4<tspan font-size="4.69" dy="-2.21">+</tspan></text>
<text x="514.50" y="78.95" font-size="6.70" text-anchor="middle" fill="#231f20" transform="rotate(-90 514.50 78.95)">(% of live cells)</text>
<line x1="627.50" y1="51.20" x2="627.50" y2="106.85" stroke="#231f20" stroke-width="0.85"/>
<line x1="626.70" y1="106.50" x2="682.00" y2="106.50" stroke="#231f20" stroke-width="0.85"/>
<line x1="624.50" y1="101.50" x2="627.00" y2="101.50" stroke="#231f20" stroke-width="0.85"/>
<text x="622.30" y="103.71" font-size="6.70" text-anchor="end" fill="#231f20">0</text>
<line x1="624.50" y1="76.50" x2="627.00" y2="76.50" stroke="#231f20" stroke-width="0.85"/>
<text x="622.30" y="78.81" font-size="6.70" text-anchor="end" fill="#231f20">5</text>
<line x1="624.50" y1="51.50" x2="627.00" y2="51.50" stroke="#231f20" stroke-width="0.85"/>
<text x="622.30" y="53.91" font-size="6.70" text-anchor="end" fill="#231f20">10</text>
<line x1="633.50" y1="106.50" x2="633.50" y2="109.00" stroke="#231f20" stroke-width="0.85"/>
<line x1="643.50" y1="106.50" x2="643.50" y2="109.00" stroke="#231f20" stroke-width="0.85"/>
<line x1="654.50" y1="106.50" x2="654.50" y2="109.00" stroke="#231f20" stroke-width="0.85"/>
<line x1="664.50" y1="106.50" x2="664.50" y2="109.00" stroke="#231f20" stroke-width="0.85"/>
<line x1="674.50" y1="106.50" x2="674.50" y2="109.00" stroke="#231f20" stroke-width="0.85"/>
<text x="634.80" y="113.20" font-size="6.70" text-anchor="end" fill="#231f20" transform="rotate(-45 634.80 113.20)">Con</text>
<text x="645.05" y="113.20" font-size="6.70" text-anchor="end" fill="#231f20" transform="rotate(-45 645.05 113.20)">K7</text>
<text x="655.30" y="113.20" font-size="6.70" text-anchor="end" fill="#231f20" transform="rotate(-45 655.30 113.20)">K8</text>
<text x="665.55" y="113.20" font-size="6.70" text-anchor="end" fill="#231f20" transform="rotate(-45 665.55 113.20)">L6</text>
<text x="675.80" y="113.20" font-size="6.70" text-anchor="end" fill="#231f20" transform="rotate(-45 675.80 113.20)">L9</text>
<line x1="633.50" y1="88.85" x2="633.50" y2="103.79" stroke="#111111" stroke-width="1.00"/>
<line x1="631.60" y1="88.50" x2="635.40" y2="88.50" stroke="#111111" stroke-width="1.00"/>
<line x1="631.60" y1="103.50" x2="635.40" y2="103.50" stroke="#111111" stroke-width="1.00"/>
<circle cx="633.50" cy="77.89" r="1.35" fill="#111111"/>
<circle cx="631.70" cy="96.32" r="1.35" fill="#111111"/>
<circle cx="635.30" cy="97.32" r="1.35" fill="#111111"/>
<circle cx="632.60" cy="98.31" r="1.35" fill="#111111"/>
<circle cx="634.40" cy="98.81" r="1.35" fill="#111111"/>
<circle cx="631.10" cy="99.31" r="1.35" fill="#111111"/>
<circle cx="635.90" cy="99.81" r="1.35" fill="#111111"/>
<circle cx="633.50" cy="100.30" r="1.35" fill="#111111"/>
<line x1="629.90" y1="97.50" x2="637.10" y2="97.50" stroke="#111111" stroke-width="0.80"/>
<line x1="643.50" y1="78.89" x2="643.50" y2="92.34" stroke="#2e8f2e" stroke-width="1.00"/>
<line x1="641.85" y1="78.50" x2="645.65" y2="78.50" stroke="#2e8f2e" stroke-width="1.00"/>
<line x1="641.85" y1="92.50" x2="645.65" y2="92.50" stroke="#2e8f2e" stroke-width="1.00"/>
<circle cx="643.75" cy="72.42" r="1.35" fill="#0a820a"/>
<circle cx="641.95" cy="78.89" r="1.35" fill="#0a820a"/>
<circle cx="645.55" cy="85.36" r="1.35" fill="#0a820a"/>
<circle cx="642.85" cy="87.36" r="1.35" fill="#0a820a"/>
<circle cx="644.65" cy="88.85" r="1.35" fill="#0a820a"/>
<circle cx="641.35" cy="90.34" r="1.35" fill="#0a820a"/>
<circle cx="646.15" cy="93.83" r="1.35" fill="#0a820a"/>
<circle cx="643.75" cy="94.83" r="1.35" fill="#0a820a"/>
<line x1="640.15" y1="85.50" x2="647.35" y2="85.50" stroke="#6ab36a" stroke-width="0.80"/>
<line x1="654.50" y1="69.43" x2="654.50" y2="92.34" stroke="#2e8f2e" stroke-width="1.00"/>
<line x1="652.10" y1="69.50" x2="655.90" y2="69.50" stroke="#2e8f2e" stroke-width="1.00"/>
<line x1="652.10" y1="92.50" x2="655.90" y2="92.50" stroke="#2e8f2e" stroke-width="1.00"/>
<circle cx="654.00" cy="60.46" r="1.35" fill="#0a820a"/>
<circle cx="652.20" cy="68.93" r="1.35" fill="#0a820a"/>
<circle cx="655.80" cy="80.38" r="1.35" fill="#0a820a"/>
<circle cx="653.10" cy="83.87" r="1.35" fill="#0a820a"/>
<circle cx="654.90" cy="86.36" r="1.35" fill="#0a820a"/>
<circle cx="651.60" cy="87.85" r="1.35" fill="#0a820a"/>
<circle cx="656.40" cy="92.34" r="1.35" fill="#0a820a"/>
<line x1="650.40" y1="81.50" x2="657.60" y2="81.50" stroke="#6ab36a" stroke-width="0.80"/>
<line x1="664.50" y1="89.85" x2="664.50" y2="93.83" stroke="#f46ee0" stroke-width="1.00"/>
<line x1="662.35" y1="89.50" x2="666.15" y2="89.50" stroke="#f46ee0" stroke-width="1.00"/>
<line x1="662.35" y1="93.50" x2="666.15" y2="93.50" stroke="#f46ee0" stroke-width="1.00"/>
<circle cx="664.25" cy="88.35" r="1.35" fill="#f04ad8"/>
<circle cx="662.45" cy="89.85" r="1.35" fill="#f04ad8"/>
<circle cx="666.05" cy="91.34" r="1.35" fill="#f04ad8"/>
<circle cx="663.35" cy="91.84" r="1.35" fill="#f04ad8"/>
<circle cx="665.15" cy="92.34" r="1.35" fill="#f04ad8"/>
<circle cx="661.85" cy="93.33" r="1.35" fill="#f04ad8"/>
<circle cx="666.65" cy="95.32" r="1.35" fill="#f04ad8"/>
<line x1="660.65" y1="91.50" x2="667.85" y2="91.50" stroke="#f46ee0" stroke-width="0.80"/>
<line x1="674.50" y1="88.85" x2="674.50" y2="97.32" stroke="#f46ee0" stroke-width="1.00"/>
<line x1="672.60" y1="88.50" x2="676.40" y2="88.50" stroke="#f46ee0" stroke-width="1.00"/>
<line x1="672.60" y1="97.50" x2="676.40" y2="97.50" stroke="#f46ee0" stroke-width="1.00"/>
<circle cx="674.50" cy="87.36" r="1.35" fill="#f04ad8"/>
<circle cx="672.70" cy="88.85" r="1.35" fill="#f04ad8"/>
<circle cx="676.30" cy="92.34" r="1.35" fill="#f04ad8"/>
<circle cx="673.60" cy="93.83" r="1.35" fill="#f04ad8"/>
<circle cx="675.40" cy="95.32" r="1.35" fill="#f04ad8"/>
<circle cx="672.10" cy="96.32" r="1.35" fill="#f04ad8"/>
<circle cx="676.90" cy="97.32" r="1.35" fill="#f04ad8"/>
<circle cx="674.50" cy="95.82" r="1.35" fill="#f04ad8"/>
<line x1="670.90" y1="93.50" x2="678.10" y2="93.50" stroke="#f46ee0" stroke-width="0.80"/>
<polyline points="633.50,37.10 633.50,34.70 674.50,34.70 674.50,37.10" fill="none" stroke="#333333" stroke-width="0.85"/>
<text transform="translate(654.00 35.60) scale(1 0.82)" font-size="8.20" text-anchor="middle" fill="#333333" style="stroke:#333333;stroke-width:0.35px">*</text>
<polyline points="633.50,45.30 633.50,42.90 664.25,42.90 664.25,45.30" fill="none" stroke="#333333" stroke-width="0.85"/>
<text transform="translate(648.88 43.80) scale(1 0.82)" font-size="8.20" text-anchor="middle" fill="#333333" style="stroke:#333333;stroke-width:0.35px">*</text>
<polyline points="633.50,53.20 633.50,50.80 654.00,50.80 654.00,53.20" fill="none" stroke="#333333" stroke-width="0.85"/>
<text transform="translate(643.75 51.70) scale(1 0.82)" font-size="8.20" text-anchor="middle" fill="#333333" style="stroke:#333333;stroke-width:0.35px">**</text>
<polyline points="633.50,63.10 633.50,60.70 643.75,60.70 643.75,63.10" fill="none" stroke="#333333" stroke-width="0.85"/>
<text transform="translate(638.62 61.60) scale(1 0.82)" font-size="8.20" text-anchor="middle" fill="#333333" style="stroke:#333333;stroke-width:0.35px">**</text>
<text x="653.00" y="22.00" font-size="6.70" text-anchor="middle" fill="#231f20">T<tspan font-size="4.15" dy="2.01">H</tspan><tspan dy="-2.01">1/CD8</tspan><tspan font-size="4.69" dy="-2.21">+</tspan><tspan dy="2.21"> ratio</tspan></text>
<text x="610.40" y="79.00" font-size="6.70" text-anchor="middle" fill="#231f20" transform="rotate(-90 610.40 79.00)">T-bet<tspan font-size="4.69" dy="-2.21">+</tspan><tspan dy="2.21">CD4</tspan><tspan font-size="4.69" dy="-2.21">+</tspan><tspan dy="2.21">/CD8</tspan><tspan font-size="4.69" dy="-2.21">+</tspan><tspan dy="2.21"> ratio</tspan></text>
<text x="0.00" y="151.60" font-size="10.50" text-anchor="start" fill="#000" font-weight="bold" style="stroke:#000;stroke-width:0.45px">b</text>
<line x1="0.00" y1="155.50" x2="685.00" y2="155.50" stroke="#555" stroke-width="1.00"/>
<text x="344.00" y="151.40" font-size="6.70" text-anchor="middle" fill="#231f20"><tspan font-style="italic">KLK</tspan> model</text>
<line x1="36.50" y1="201.70" x2="36.50" y2="259.75" stroke="#231f20" stroke-width="0.85"/>
<line x1="35.70" y1="259.50" x2="93.30" y2="259.50" stroke="#231f20" stroke-width="0.85"/>
<line x1="33.50" y1="259.50" x2="36.00" y2="259.50" stroke="#231f20" stroke-width="0.85"/>
<text x="31.30" y="261.81" font-size="6.70" text-anchor="end" fill="#231f20">0</text>
<line x1="33.50" y1="247.50" x2="36.00" y2="247.50" stroke="#231f20" stroke-width="0.85"/>
<text x="31.30" y="250.33" font-size="6.70" text-anchor="end" fill="#231f20">1</text>
<line x1="33.50" y1="236.50" x2="36.00" y2="236.50" stroke="#231f20" stroke-width="0.85"/>
<text x="31.30" y="238.85" font-size="6.70" text-anchor="end" fill="#231f20">2</text>
<line x1="33.50" y1="224.50" x2="36.00" y2="224.50" stroke="#231f20" stroke-width="0.85"/>
<text x="31.30" y="227.37" font-size="6.70" text-anchor="end" fill="#231f20">3</text>
<line x1="33.50" y1="213.50" x2="36.00" y2="213.50" stroke="#231f20" stroke-width="0.85"/>
<text x="31.30" y="215.89" font-size="6.70" text-anchor="end" fill="#231f20">4</text>
<line x1="33.50" y1="202.50" x2="36.00" y2="202.50" stroke="#231f20" stroke-width="0.85"/>
<text x="31.30" y="204.41" font-size="6.70" text-anchor="end" fill="#231f20">5</text>
<line x1="44.50" y1="259.40" x2="44.50" y2="261.90" stroke="#231f20" stroke-width="0.85"/>
<line x1="58.50" y1="259.40" x2="58.50" y2="261.90" stroke="#231f20" stroke-width="0.85"/>
<line x1="71.50" y1="259.40" x2="71.50" y2="261.90" stroke="#231f20" stroke-width="0.85"/>
<line x1="84.50" y1="259.40" x2="84.50" y2="261.90" stroke="#231f20" stroke-width="0.85"/>
<text x="44.50" y="267.60" font-size="7.00" text-anchor="end" fill="#231f20" transform="rotate(-45 44.50 267.60)">IgG</text>
<text x="58.00" y="267.60" font-size="7.00" text-anchor="end" fill="#231f20" transform="rotate(-45 58.00 267.60)">Anti-PD-1</text>
<text x="71.40" y="267.60" font-size="7.00" text-anchor="end" fill="#231f20" transform="rotate(-45 71.40 267.60)">Anti-CTLA4</text>
<text x="86.20" y="267.60" font-size="7.00" text-anchor="end" fill="#231f20" transform="rotate(-45 86.20 267.60)">Anti-PD-1/</text>
<text x="91.72" y="275.24" font-size="7.00" text-anchor="end" fill="#231f20" transform="rotate(-45 91.72 275.24)">anti-CTLA4</text>
<line x1="44.50" y1="246.77" x2="44.50" y2="257.68" stroke="#111111" stroke-width="1.00"/>
<line x1="42.60" y1="246.50" x2="46.40" y2="246.50" stroke="#111111" stroke-width="1.00"/>
<line x1="42.60" y1="257.50" x2="46.40" y2="257.50" stroke="#111111" stroke-width="1.00"/>
<circle cx="44.50" cy="240.46" r="1.35" fill="#111111"/>
<circle cx="42.70" cy="250.22" r="1.35" fill="#111111"/>
<circle cx="46.30" cy="251.36" r="1.35" fill="#111111"/>
<circle cx="43.60" cy="252.51" r="1.35" fill="#111111"/>
<circle cx="45.40" cy="253.66" r="1.35" fill="#111111"/>
<circle cx="42.10" cy="254.23" r="1.35" fill="#111111"/>
<circle cx="46.90" cy="254.81" r="1.35" fill="#111111"/>
<circle cx="44.50" cy="255.38" r="1.35" fill="#111111"/>
<line x1="40.90" y1="252.50" x2="48.10" y2="252.50" stroke="#111111" stroke-width="0.80"/>
<line x1="58.50" y1="234.72" x2="58.50" y2="256.53" stroke="#2e8f2e" stroke-width="1.00"/>
<line x1="56.10" y1="234.50" x2="59.90" y2="234.50" stroke="#2e8f2e" stroke-width="1.00"/>
<line x1="56.10" y1="256.50" x2="59.90" y2="256.50" stroke="#2e8f2e" stroke-width="1.00"/>
<circle cx="58.00" cy="222.66" r="1.35" fill="#0a8a0a"/>
<circle cx="56.20" cy="245.62" r="1.35" fill="#0a8a0a"/>
<circle cx="59.80" cy="246.77" r="1.35" fill="#0a8a0a"/>
<circle cx="57.10" cy="249.07" r="1.35" fill="#0a8a0a"/>
<circle cx="58.90" cy="249.64" r="1.35" fill="#0a8a0a"/>
<circle cx="55.60" cy="255.96" r="1.35" fill="#0a8a0a"/>
<line x1="54.40" y1="245.50" x2="61.60" y2="245.50" stroke="#2e8f2e" stroke-width="0.80"/>
<line x1="71.50" y1="239.88" x2="71.50" y2="247.35" stroke="#1a1aee" stroke-width="1.00"/>
<line x1="69.50" y1="239.50" x2="73.30" y2="239.50" stroke="#1a1aee" stroke-width="1.00"/>
<line x1="69.50" y1="247.50" x2="73.30" y2="247.50" stroke="#1a1aee" stroke-width="1.00"/>
<circle cx="71.40" cy="235.29" r="1.35" fill="#1a1aee"/>
<circle cx="69.60" cy="237.59" r="1.35" fill="#1a1aee"/>
<circle cx="73.20" cy="241.03" r="1.35" fill="#1a1aee"/>
<circle cx="70.50" cy="242.18" r="1.35" fill="#1a1aee"/>
<circle cx="72.30" cy="243.90" r="1.35" fill="#1a1aee"/>
<circle cx="69.00" cy="244.48" r="1.35" fill="#1a1aee"/>
<circle cx="73.80" cy="246.77" r="1.35" fill="#1a1aee"/>
<circle cx="71.40" cy="250.22" r="1.35" fill="#1a1aee"/>
<line x1="67.80" y1="243.50" x2="75.00" y2="243.50" stroke="#1a1aee" stroke-width="0.80"/>
<line x1="84.50" y1="215.20" x2="84.50" y2="243.33" stroke="#f03030" stroke-width="1.00"/>
<line x1="82.50" y1="215.50" x2="86.30" y2="215.50" stroke="#f03030" stroke-width="1.00"/>
<line x1="82.50" y1="243.50" x2="86.30" y2="243.50" stroke="#f03030" stroke-width="1.00"/>
<circle cx="84.40" cy="208.31" r="1.35" fill="#f03030"/>
<circle cx="82.60" cy="215.78" r="1.35" fill="#f03030"/>
<circle cx="86.20" cy="218.07" r="1.35" fill="#f03030"/>
<circle cx="83.50" cy="224.96" r="1.35" fill="#f03030"/>
<circle cx="85.30" cy="229.55" r="1.35" fill="#f03030"/>
<circle cx="82.00" cy="242.18" r="1.35" fill="#f03030"/>
<circle cx="86.80" cy="243.33" r="1.35" fill="#f03030"/>
<circle cx="84.40" cy="249.07" r="1.35" fill="#f03030"/>
<line x1="80.80" y1="229.50" x2="88.00" y2="229.50" stroke="#f03030" stroke-width="0.80"/>
<polyline points="44.50,192.90 44.50,190.50 84.40,190.50 84.40,192.90" fill="none" stroke="#333333" stroke-width="0.85"/>
<text transform="translate(64.45 191.40) scale(1 0.82)" font-size="8.20" text-anchor="middle" fill="#333333" style="stroke:#333333;stroke-width:0.35px">**</text>
<polyline points="58.00,200.00 58.00,197.60 84.40,197.60 84.40,200.00" fill="none" stroke="#333333" stroke-width="0.85"/>
<text transform="translate(71.20 198.50) scale(1 0.82)" font-size="8.20" text-anchor="middle" fill="#333333" style="stroke:#333333;stroke-width:0.35px">*</text>
<polyline points="71.40,205.60 71.40,203.20 84.40,203.20 84.40,205.60" fill="none" stroke="#333333" stroke-width="0.85"/>
<text transform="translate(77.90 204.10) scale(1 0.82)" font-size="8.20" text-anchor="middle" fill="#333333" style="stroke:#333333;stroke-width:0.35px">*</text>
<polyline points="44.50,211.60 44.50,209.20 71.40,209.20 71.40,211.60" fill="none" stroke="#333333" stroke-width="0.85"/>
<text transform="translate(57.95 210.10) scale(1 0.82)" font-size="8.20" text-anchor="middle" fill="#333333" style="stroke:#333333;stroke-width:0.35px">**</text>
<polyline points="44.50,219.10 44.50,216.70 58.00,216.70 58.00,219.10" fill="none" stroke="#333333" stroke-width="0.85"/>
<text x="51.25" y="215.70" font-size="6.90" text-anchor="middle" fill="#333333">NS</text>
<text x="64.50" y="173.60" font-size="6.70" text-anchor="middle" fill="#231f20">T<tspan font-size="4.15" dy="2.01">H</tspan><tspan dy="-2.01">1</tspan></text>
<text x="15.00" y="228.60" font-size="6.70" text-anchor="middle" fill="#231f20" transform="rotate(-90 15.00 228.60)">T-bet<tspan font-size="4.69" dy="-2.21">+</tspan><tspan dy="2.21">CD4</tspan><tspan font-size="4.69" dy="-2.21">+</tspan></text>
<text x="23.00" y="228.60" font-size="6.70" text-anchor="middle" fill="#231f20" transform="rotate(-90 23.00 228.60)">(% of CD45<tspan font-size="4.69" dy="-2.21">+</tspan><tspan dy="2.21"> cells)</tspan></text>
<line x1="131.50" y1="201.70" x2="131.50" y2="259.75" stroke="#231f20" stroke-width="0.85"/>
<line x1="131.50" y1="259.50" x2="188.60" y2="259.50" stroke="#231f20" stroke-width="0.85"/>
<line x1="129.30" y1="259.50" x2="131.80" y2="259.50" stroke="#231f20" stroke-width="0.85"/>
<text x="127.10" y="261.81" font-size="6.70" text-anchor="end" fill="#231f20">0</text>
<line x1="129.30" y1="245.50" x2="131.80" y2="245.50" stroke="#231f20" stroke-width="0.85"/>
<text x="127.10" y="247.46" font-size="6.70" text-anchor="end" fill="#231f20">2</text>
<line x1="129.30" y1="230.50" x2="131.80" y2="230.50" stroke="#231f20" stroke-width="0.85"/>
<text x="127.10" y="233.11" font-size="6.70" text-anchor="end" fill="#231f20">4</text>
<line x1="129.30" y1="216.50" x2="131.80" y2="216.50" stroke="#231f20" stroke-width="0.85"/>
<text x="127.10" y="218.76" font-size="6.70" text-anchor="end" fill="#231f20">6</text>
<line x1="129.30" y1="202.50" x2="131.80" y2="202.50" stroke="#231f20" stroke-width="0.85"/>
<text x="127.10" y="204.41" font-size="6.70" text-anchor="end" fill="#231f20">8</text>
<line x1="139.50" y1="259.40" x2="139.50" y2="261.90" stroke="#231f20" stroke-width="0.85"/>
<line x1="153.50" y1="259.40" x2="153.50" y2="261.90" stroke="#231f20" stroke-width="0.85"/>
<line x1="166.50" y1="259.40" x2="166.50" y2="261.90" stroke="#231f20" stroke-width="0.85"/>
<line x1="179.50" y1="259.40" x2="179.50" y2="261.90" stroke="#231f20" stroke-width="0.85"/>
<text x="139.50" y="267.60" font-size="7.00" text-anchor="end" fill="#231f20" transform="rotate(-45 139.50 267.60)">IgG</text>
<text x="153.00" y="267.60" font-size="7.00" text-anchor="end" fill="#231f20" transform="rotate(-45 153.00 267.60)">Anti-PD-1</text>
<text x="166.40" y="267.60" font-size="7.00" text-anchor="end" fill="#231f20" transform="rotate(-45 166.40 267.60)">Anti-CTLA4</text>
<text x="181.10" y="267.60" font-size="7.00" text-anchor="end" fill="#231f20" transform="rotate(-45 181.10 267.60)">Anti-PD-1/</text>
<text x="186.62" y="275.24" font-size="7.00" text-anchor="end" fill="#231f20" transform="rotate(-45 186.62 275.24)">anti-CTLA4</text>
<line x1="139.50" y1="249.35" x2="139.50" y2="257.25" stroke="#111111" stroke-width="1.00"/>
<line x1="137.60" y1="249.50" x2="141.40" y2="249.50" stroke="#111111" stroke-width="1.00"/>
<line x1="137.60" y1="257.50" x2="141.40" y2="257.50" stroke="#111111" stroke-width="1.00"/>
<circle cx="139.50" cy="244.33" r="1.35" fill="#111111"/>
<circle cx="137.70" cy="250.79" r="1.35" fill="#111111"/>
<circle cx="141.30" cy="252.22" r="1.35" fill="#111111"/>
<circle cx="138.60" cy="252.94" r="1.35" fill="#111111"/>
<circle cx="140.40" cy="253.30" r="1.35" fill="#111111"/>
<circle cx="137.10" cy="253.66" r="1.35" fill="#111111"/>
<circle cx="141.90" cy="255.09" r="1.35" fill="#111111"/>
<circle cx="139.50" cy="255.81" r="1.35" fill="#111111"/>
<line x1="135.90" y1="253.50" x2="143.10" y2="253.50" stroke="#111111" stroke-width="0.80"/>
<line x1="153.50" y1="238.59" x2="153.50" y2="256.89" stroke="#2e8f2e" stroke-width="1.00"/>
<line x1="151.10" y1="238.50" x2="154.90" y2="238.50" stroke="#2e8f2e" stroke-width="1.00"/>
<line x1="151.10" y1="256.50" x2="154.90" y2="256.50" stroke="#2e8f2e" stroke-width="1.00"/>
<circle cx="153.00" cy="229.26" r="1.35" fill="#0a8a0a"/>
<circle cx="151.20" cy="242.90" r="1.35" fill="#0a8a0a"/>
<circle cx="154.80" cy="248.64" r="1.35" fill="#0a8a0a"/>
<circle cx="152.10" cy="251.51" r="1.35" fill="#0a8a0a"/>
<circle cx="153.90" cy="252.94" r="1.35" fill="#0a8a0a"/>
<circle cx="150.60" cy="256.53" r="1.35" fill="#0a8a0a"/>
<line x1="149.40" y1="247.50" x2="156.60" y2="247.50" stroke="#2e8f2e" stroke-width="0.80"/>
<line x1="166.50" y1="233.57" x2="166.50" y2="255.09" stroke="#1a1aee" stroke-width="1.00"/>
<line x1="164.50" y1="233.50" x2="168.30" y2="233.50" stroke="#1a1aee" stroke-width="1.00"/>
<line x1="164.50" y1="255.50" x2="168.30" y2="255.50" stroke="#1a1aee" stroke-width="1.00"/>
<circle cx="166.40" cy="220.65" r="1.35" fill="#1a1aee"/>
<circle cx="164.60" cy="242.18" r="1.35" fill="#1a1aee"/>
<circle cx="168.20" cy="243.61" r="1.35" fill="#1a1aee"/>
<circle cx="165.50" cy="245.05" r="1.35" fill="#1a1aee"/>
<circle cx="167.30" cy="250.07" r="1.35" fill="#1a1aee"/>
<circle cx="164.00" cy="251.51" r="1.35" fill="#1a1aee"/>
<circle cx="168.80" cy="255.09" r="1.35" fill="#1a1aee"/>
<line x1="162.80" y1="244.50" x2="170.00" y2="244.50" stroke="#1a1aee" stroke-width="0.80"/>
<line x1="179.50" y1="217.78" x2="179.50" y2="251.51" stroke="#f03030" stroke-width="1.00"/>
<line x1="177.40" y1="217.50" x2="181.20" y2="217.50" stroke="#f03030" stroke-width="1.00"/>
<line x1="177.40" y1="251.50" x2="181.20" y2="251.50" stroke="#f03030" stroke-width="1.00"/>
<circle cx="179.30" cy="208.46" r="1.35" fill="#f03030"/>
<circle cx="177.50" cy="218.50" r="1.35" fill="#f03030"/>
<circle cx="181.10" cy="224.24" r="1.35" fill="#f03030"/>
<circle cx="178.40" cy="230.70" r="1.35" fill="#f03030"/>
<circle cx="180.20" cy="237.88" r="1.35" fill="#f03030"/>
<circle cx="176.90" cy="249.35" r="1.35" fill="#f03030"/>
<circle cx="181.70" cy="252.22" r="1.35" fill="#f03030"/>
<line x1="175.70" y1="234.50" x2="182.90" y2="234.50" stroke="#f03030" stroke-width="0.80"/>
<polyline points="139.50,192.40 139.50,190.00 179.30,190.00 179.30,192.40" fill="none" stroke="#333333" stroke-width="0.85"/>
<text transform="translate(159.40 190.90) scale(1 0.82)" font-size="8.20" text-anchor="middle" fill="#333333" style="stroke:#333333;stroke-width:0.35px">**</text>
<polyline points="153.00,199.00 153.00,196.60 179.30,196.60 179.30,199.00" fill="none" stroke="#333333" stroke-width="0.85"/>
<text x="166.15" y="195.60" font-size="6.90" text-anchor="middle" fill="#333333">NS</text>
<polyline points="166.40,205.40 166.40,203.00 179.30,203.00 179.30,205.40" fill="none" stroke="#333333" stroke-width="0.85"/>
<text x="172.85" y="202.00" font-size="6.90" text-anchor="middle" fill="#333333">NS</text>
<polyline points="139.50,214.40 139.50,212.00 166.40,212.00 166.40,214.40" fill="none" stroke="#333333" stroke-width="0.85"/>
<polyline points="139.50,222.90 139.50,220.50 153.00,220.50 153.00,222.90" fill="none" stroke="#333333" stroke-width="0.85"/>
<text x="146.25" y="219.50" font-size="6.90" text-anchor="middle" fill="#333333">NS</text>
<text x="158.70" y="173.60" font-size="6.70" text-anchor="middle" fill="#231f20">EffM CD4<tspan font-size="4.69" dy="-2.21">+</tspan></text>
<text x="108.60" y="228.60" font-size="6.70" text-anchor="middle" fill="#231f20" transform="rotate(-90 108.60 228.60)">CD44<tspan font-size="4.69" dy="-2.21">+</tspan><tspan dy="2.21">CD62L</tspan><tspan font-size="4.69" dy="-2.21">−</tspan><tspan dy="2.21">CD4</tspan><tspan font-size="4.69" dy="-2.21">+</tspan></text>
<text x="117.50" y="228.60" font-size="6.70" text-anchor="middle" fill="#231f20" transform="rotate(-90 117.50 228.60)">(% of CD45<tspan font-size="4.69" dy="-2.21">+</tspan><tspan dy="2.21"> cells)</tspan></text>
<line x1="228.50" y1="201.70" x2="228.50" y2="259.75" stroke="#231f20" stroke-width="0.85"/>
<line x1="227.90" y1="259.50" x2="286.00" y2="259.50" stroke="#231f20" stroke-width="0.85"/>
<line x1="225.70" y1="259.50" x2="228.20" y2="259.50" stroke="#231f20" stroke-width="0.85"/>
<text x="223.50" y="261.81" font-size="6.70" text-anchor="end" fill="#231f20">0</text>
<line x1="225.70" y1="247.50" x2="228.20" y2="247.50" stroke="#231f20" stroke-width="0.85"/>
<text x="223.50" y="250.33" font-size="6.70" text-anchor="end" fill="#231f20">2</text>
<line x1="225.70" y1="236.50" x2="228.20" y2="236.50" stroke="#231f20" stroke-width="0.85"/>
<text x="223.50" y="238.85" font-size="6.70" text-anchor="end" fill="#231f20">4</text>
<line x1="225.70" y1="224.50" x2="228.20" y2="224.50" stroke="#231f20" stroke-width="0.85"/>
<text x="223.50" y="227.37" font-size="6.70" text-anchor="end" fill="#231f20">6</text>
<line x1="225.70" y1="213.50" x2="228.20" y2="213.50" stroke="#231f20" stroke-width="0.85"/>
<text x="223.50" y="215.89" font-size="6.70" text-anchor="end" fill="#231f20">8</text>
<line x1="225.70" y1="202.50" x2="228.20" y2="202.50" stroke="#231f20" stroke-width="0.85"/>
<text x="223.50" y="204.41" font-size="6.70" text-anchor="end" fill="#231f20">10</text>
<line x1="237.50" y1="259.40" x2="237.50" y2="261.90" stroke="#231f20" stroke-width="0.85"/>
<line x1="250.50" y1="259.40" x2="250.50" y2="261.90" stroke="#231f20" stroke-width="0.85"/>
<line x1="263.50" y1="259.40" x2="263.50" y2="261.90" stroke="#231f20" stroke-width="0.85"/>
<line x1="277.50" y1="259.40" x2="277.50" y2="261.90" stroke="#231f20" stroke-width="0.85"/>
<text x="237.50" y="267.60" font-size="7.00" text-anchor="end" fill="#231f20" transform="rotate(-45 237.50 267.60)">IgG</text>
<text x="250.60" y="267.60" font-size="7.00" text-anchor="end" fill="#231f20" transform="rotate(-45 250.60 267.60)">Anti-PD-1</text>
<text x="263.90" y="267.60" font-size="7.00" text-anchor="end" fill="#231f20" transform="rotate(-45 263.90 267.60)">Anti-CTLA4</text>
<text x="279.20" y="267.60" font-size="7.00" text-anchor="end" fill="#231f20" transform="rotate(-45 279.20 267.60)">Anti-PD-1/</text>
<text x="284.72" y="275.24" font-size="7.00" text-anchor="end" fill="#231f20" transform="rotate(-45 284.72 275.24)">anti-CTLA4</text>
<line x1="237.50" y1="236.44" x2="237.50" y2="250.79" stroke="#111111" stroke-width="1.00"/>
<line x1="235.60" y1="236.50" x2="239.40" y2="236.50" stroke="#111111" stroke-width="1.00"/>
<line x1="235.60" y1="250.50" x2="239.40" y2="250.50" stroke="#111111" stroke-width="1.00"/>
<circle cx="237.50" cy="228.40" r="1.35" fill="#111111"/>
<circle cx="235.70" cy="240.46" r="1.35" fill="#111111"/>
<circle cx="239.30" cy="242.18" r="1.35" fill="#111111"/>
<circle cx="236.60" cy="243.90" r="1.35" fill="#111111"/>
<circle cx="238.40" cy="245.05" r="1.35" fill="#111111"/>
<circle cx="235.10" cy="246.20" r="1.35" fill="#111111"/>
<circle cx="239.90" cy="249.64" r="1.35" fill="#111111"/>
<circle cx="237.50" cy="250.79" r="1.35" fill="#111111"/>
<line x1="233.90" y1="243.50" x2="241.10" y2="243.50" stroke="#111111" stroke-width="0.80"/>
<line x1="250.50" y1="238.16" x2="250.50" y2="250.79" stroke="#2e8f2e" stroke-width="1.00"/>
<line x1="248.70" y1="238.50" x2="252.50" y2="238.50" stroke="#2e8f2e" stroke-width="1.00"/>
<line x1="248.70" y1="250.50" x2="252.50" y2="250.50" stroke="#2e8f2e" stroke-width="1.00"/>
<circle cx="250.60" cy="237.59" r="1.35" fill="#0a8a0a"/>
<circle cx="248.80" cy="238.74" r="1.35" fill="#0a8a0a"/>
<circle cx="252.40" cy="244.48" r="1.35" fill="#0a8a0a"/>
<circle cx="249.70" cy="245.05" r="1.35" fill="#0a8a0a"/>
<circle cx="251.50" cy="250.79" r="1.35" fill="#0a8a0a"/>
<circle cx="248.20" cy="251.94" r="1.35" fill="#0a8a0a"/>
<line x1="247.00" y1="244.50" x2="254.20" y2="244.50" stroke="#2e8f2e" stroke-width="0.80"/>
<line x1="263.50" y1="222.66" x2="263.50" y2="246.77" stroke="#1a1aee" stroke-width="1.00"/>
<line x1="262.00" y1="222.50" x2="265.80" y2="222.50" stroke="#1a1aee" stroke-width="1.00"/>
<line x1="262.00" y1="246.50" x2="265.80" y2="246.50" stroke="#1a1aee" stroke-width="1.00"/>
<circle cx="263.90" cy="209.46" r="1.35" fill="#1a1aee"/>
<circle cx="262.10" cy="232.42" r="1.35" fill="#1a1aee"/>
<circle cx="265.70" cy="234.14" r="1.35" fill="#1a1aee"/>
<circle cx="263.00" cy="235.29" r="1.35" fill="#1a1aee"/>
<circle cx="264.80" cy="236.44" r="1.35" fill="#1a1aee"/>
<circle cx="261.50" cy="242.18" r="1.35" fill="#1a1aee"/>
<circle cx="266.30" cy="246.77" r="1.35" fill="#1a1aee"/>
<circle cx="263.90" cy="250.79" r="1.35" fill="#1a1aee"/>
<line x1="260.30" y1="234.50" x2="267.50" y2="234.50" stroke="#1a1aee" stroke-width="0.80"/>
<line x1="277.50" y1="214.63" x2="277.50" y2="232.42" stroke="#f03030" stroke-width="1.00"/>
<line x1="275.50" y1="214.50" x2="279.30" y2="214.50" stroke="#f03030" stroke-width="1.00"/>
<line x1="275.50" y1="232.50" x2="279.30" y2="232.50" stroke="#f03030" stroke-width="1.00"/>
<circle cx="277.40" cy="207.74" r="1.35" fill="#f03030"/>
<circle cx="275.60" cy="216.35" r="1.35" fill="#f03030"/>
<circle cx="279.20" cy="222.09" r="1.35" fill="#f03030"/>
<circle cx="276.50" cy="223.24" r="1.35" fill="#f03030"/>
<circle cx="278.30" cy="226.11" r="1.35" fill="#f03030"/>
<circle cx="275.00" cy="231.85" r="1.35" fill="#f03030"/>
<circle cx="279.80" cy="233.57" r="1.35" fill="#f03030"/>
<line x1="273.80" y1="223.50" x2="281.00" y2="223.50" stroke="#f03030" stroke-width="0.80"/>
<polyline points="237.50,187.00 237.50,184.60 277.40,184.60 277.40,187.00" fill="none" stroke="#333333" stroke-width="0.85"/>
<text transform="translate(257.45 185.50) scale(1 0.82)" font-size="8.20" text-anchor="middle" fill="#333333" style="stroke:#333333;stroke-width:0.35px">***</text>
<polyline points="250.60,194.20 250.60,191.80 277.40,191.80 277.40,194.20" fill="none" stroke="#333333" stroke-width="0.85"/>
<text transform="translate(264.00 192.70) scale(1 0.82)" font-size="8.20" text-anchor="middle" fill="#333333" style="stroke:#333333;stroke-width:0.35px">***</text>
<polyline points="263.90,200.40 263.90,198.00 277.40,198.00 277.40,200.40" fill="none" stroke="#333333" stroke-width="0.85"/>
<text transform="translate(270.65 198.90) scale(1 0.82)" font-size="8.20" text-anchor="middle" fill="#333333" style="stroke:#333333;stroke-width:0.35px">*</text>
<polyline points="237.50,206.70 237.50,204.30 263.90,204.30 263.90,206.70" fill="none" stroke="#333333" stroke-width="0.85"/>
<text x="250.70" y="203.30" font-size="6.90" text-anchor="middle" fill="#333333">NS</text>
<polyline points="237.50,215.70 237.50,213.30 250.60,213.30 250.60,215.70" fill="none" stroke="#333333" stroke-width="0.85"/>
<text x="244.05" y="212.30" font-size="6.90" text-anchor="middle" fill="#333333">NS</text>
<text x="255.50" y="173.60" font-size="6.70" text-anchor="middle" fill="#231f20">T<tspan font-size="4.15" dy="2.01">H</tspan><tspan dy="-2.01">1/T</tspan><tspan font-size="4.15" dy="2.01">reg</tspan><tspan dy="-2.01"> ratio</tspan></text>
<text x="205.10" y="228.60" font-size="6.70" text-anchor="middle" fill="#231f20" transform="rotate(-90 205.10 228.60)">T-bet<tspan font-size="4.69" dy="-2.21">+</tspan><tspan dy="2.21">CD4</tspan><tspan font-size="4.69" dy="-2.21">+</tspan><tspan dy="2.21">/</tspan></text>
<text x="211.70" y="228.60" font-size="6.70" text-anchor="middle" fill="#231f20" transform="rotate(-90 211.70 228.60)">FOXP3<tspan font-size="4.69" dy="-2.21">+</tspan><tspan dy="2.21">CD25</tspan><tspan font-size="4.69" dy="-2.21">+</tspan><tspan dy="2.21">CD4</tspan><tspan font-size="4.69" dy="-2.21">+</tspan><tspan dy="2.21"> ratio</tspan></text>
<line x1="327.50" y1="201.70" x2="327.50" y2="259.75" stroke="#231f20" stroke-width="0.85"/>
<line x1="327.00" y1="259.50" x2="385.00" y2="259.50" stroke="#231f20" stroke-width="0.85"/>
<line x1="324.80" y1="259.50" x2="327.30" y2="259.50" stroke="#231f20" stroke-width="0.85"/>
<text x="322.60" y="261.81" font-size="6.70" text-anchor="end" fill="#231f20">0</text>
<line x1="324.80" y1="247.50" x2="327.30" y2="247.50" stroke="#231f20" stroke-width="0.85"/>
<text x="322.60" y="250.33" font-size="6.70" text-anchor="end" fill="#231f20">2</text>
<line x1="324.80" y1="236.50" x2="327.30" y2="236.50" stroke="#231f20" stroke-width="0.85"/>
<text x="322.60" y="238.85" font-size="6.70" text-anchor="end" fill="#231f20">4</text>
<line x1="324.80" y1="224.50" x2="327.30" y2="224.50" stroke="#231f20" stroke-width="0.85"/>
<text x="322.60" y="227.37" font-size="6.70" text-anchor="end" fill="#231f20">6</text>
<line x1="324.80" y1="213.50" x2="327.30" y2="213.50" stroke="#231f20" stroke-width="0.85"/>
<text x="322.60" y="215.89" font-size="6.70" text-anchor="end" fill="#231f20">8</text>
<line x1="324.80" y1="202.50" x2="327.30" y2="202.50" stroke="#231f20" stroke-width="0.85"/>
<text x="322.60" y="204.41" font-size="6.70" text-anchor="end" fill="#231f20">10</text>
<line x1="336.50" y1="259.40" x2="336.50" y2="261.90" stroke="#231f20" stroke-width="0.85"/>
<line x1="349.50" y1="259.40" x2="349.50" y2="261.90" stroke="#231f20" stroke-width="0.85"/>
<line x1="363.50" y1="259.40" x2="363.50" y2="261.90" stroke="#231f20" stroke-width="0.85"/>
<line x1="376.50" y1="259.40" x2="376.50" y2="261.90" stroke="#231f20" stroke-width="0.85"/>
<text x="336.60" y="267.60" font-size="7.00" text-anchor="end" fill="#231f20" transform="rotate(-45 336.60 267.60)">IgG</text>
<text x="349.70" y="267.60" font-size="7.00" text-anchor="end" fill="#231f20" transform="rotate(-45 349.70 267.60)">Anti-PD-1</text>
<text x="363.00" y="267.60" font-size="7.00" text-anchor="end" fill="#231f20" transform="rotate(-45 363.00 267.60)">Anti-CTLA4</text>
<text x="378.30" y="267.60" font-size="7.00" text-anchor="end" fill="#231f20" transform="rotate(-45 378.30 267.60)">Anti-PD-1/</text>
<text x="383.82" y="275.24" font-size="7.00" text-anchor="end" fill="#231f20" transform="rotate(-45 383.82 275.24)">anti-CTLA4</text>
<line x1="336.50" y1="239.31" x2="336.50" y2="259.40" stroke="#111111" stroke-width="1.00"/>
<line x1="334.70" y1="239.50" x2="338.50" y2="239.50" stroke="#111111" stroke-width="1.00"/>
<line x1="334.70" y1="259.50" x2="338.50" y2="259.50" stroke="#111111" stroke-width="1.00"/>
<circle cx="336.60" cy="222.09" r="1.35" fill="#111111"/>
<circle cx="334.80" cy="252.51" r="1.35" fill="#111111"/>
<circle cx="338.40" cy="253.66" r="1.35" fill="#111111"/>
<circle cx="335.70" cy="254.81" r="1.35" fill="#111111"/>
<circle cx="337.50" cy="255.96" r="1.35" fill="#111111"/>
<circle cx="334.20" cy="256.53" r="1.35" fill="#111111"/>
<circle cx="339.00" cy="257.10" r="1.35" fill="#111111"/>
<circle cx="336.60" cy="257.68" r="1.35" fill="#111111"/>
<line x1="333.00" y1="251.50" x2="340.20" y2="251.50" stroke="#111111" stroke-width="0.80"/>
<line x1="349.50" y1="253.09" x2="349.50" y2="256.53" stroke="#2e8f2e" stroke-width="1.00"/>
<line x1="347.80" y1="253.50" x2="351.60" y2="253.50" stroke="#2e8f2e" stroke-width="1.00"/>
<line x1="347.80" y1="256.50" x2="351.60" y2="256.50" stroke="#2e8f2e" stroke-width="1.00"/>
<circle cx="349.70" cy="250.22" r="1.35" fill="#0a8a0a"/>
<circle cx="347.90" cy="252.51" r="1.35" fill="#0a8a0a"/>
<circle cx="351.50" cy="254.23" r="1.35" fill="#0a8a0a"/>
<circle cx="348.80" cy="254.81" r="1.35" fill="#0a8a0a"/>
<circle cx="350.60" cy="255.38" r="1.35" fill="#0a8a0a"/>
<circle cx="347.30" cy="255.96" r="1.35" fill="#0a8a0a"/>
<circle cx="352.10" cy="256.53" r="1.35" fill="#0a8a0a"/>
<circle cx="349.70" cy="257.10" r="1.35" fill="#0a8a0a"/>
<line x1="346.10" y1="254.50" x2="353.30" y2="254.50" stroke="#2e8f2e" stroke-width="0.80"/>
<line x1="363.50" y1="211.76" x2="363.50" y2="252.51" stroke="#1a1aee" stroke-width="1.00"/>
<line x1="361.10" y1="211.50" x2="364.90" y2="211.50" stroke="#1a1aee" stroke-width="1.00"/>
<line x1="361.10" y1="252.50" x2="364.90" y2="252.50" stroke="#1a1aee" stroke-width="1.00"/>
<circle cx="363.00" cy="206.02" r="1.35" fill="#1a1aee"/>
<circle cx="361.20" cy="211.18" r="1.35" fill="#1a1aee"/>
<circle cx="364.80" cy="212.33" r="1.35" fill="#1a1aee"/>
<circle cx="362.10" cy="236.44" r="1.35" fill="#1a1aee"/>
<circle cx="363.90" cy="237.59" r="1.35" fill="#1a1aee"/>
<circle cx="360.60" cy="242.75" r="1.35" fill="#1a1aee"/>
<circle cx="365.40" cy="255.96" r="1.35" fill="#1a1aee"/>
<circle cx="363.00" cy="255.96" r="1.35" fill="#1a1aee"/>
<line x1="359.40" y1="231.50" x2="366.60" y2="231.50" stroke="#1a1aee" stroke-width="0.80"/>
<line x1="376.50" y1="209.46" x2="376.50" y2="241.61" stroke="#f03030" stroke-width="1.00"/>
<line x1="374.60" y1="209.50" x2="378.40" y2="209.50" stroke="#f03030" stroke-width="1.00"/>
<line x1="374.60" y1="241.50" x2="378.40" y2="241.50" stroke="#f03030" stroke-width="1.00"/>
<circle cx="376.50" cy="210.61" r="1.35" fill="#f03030"/>
<circle cx="374.70" cy="211.76" r="1.35" fill="#f03030"/>
<circle cx="378.30" cy="212.91" r="1.35" fill="#f03030"/>
<circle cx="375.60" cy="219.22" r="1.35" fill="#f03030"/>
<circle cx="377.40" cy="226.11" r="1.35" fill="#f03030"/>
<circle cx="374.10" cy="231.85" r="1.35" fill="#f03030"/>
<circle cx="378.90" cy="241.03" r="1.35" fill="#f03030"/>
<circle cx="376.50" cy="251.36" r="1.35" fill="#f03030"/>
<line x1="372.90" y1="225.50" x2="380.10" y2="225.50" stroke="#f03030" stroke-width="0.80"/>
<polyline points="336.60,187.00 336.60,184.60 376.50,184.60 376.50,187.00" fill="none" stroke="#333333" stroke-width="0.85"/>
<text transform="translate(356.55 185.50) scale(1 0.82)" font-size="8.20" text-anchor="middle" fill="#333333" style="stroke:#333333;stroke-width:0.35px">**</text>
<polyline points="336.60,193.80 336.60,191.40 363.00,191.40 363.00,193.80" fill="none" stroke="#333333" stroke-width="0.85"/>
<text transform="translate(349.80 192.30) scale(1 0.82)" font-size="8.20" text-anchor="middle" fill="#333333" style="stroke:#333333;stroke-width:0.35px">*</text>
<polyline points="349.70,200.80 349.70,198.40 363.00,198.40 363.00,200.80" fill="none" stroke="#333333" stroke-width="0.85"/>
<text x="356.35" y="197.40" font-size="6.90" text-anchor="middle" fill="#333333">NS</text>
<text x="352.80" y="173.60" font-size="6.70" text-anchor="middle" fill="#231f20">iNOS<tspan font-size="4.69" dy="-2.21">+</tspan><tspan dy="2.21"> APCs</tspan></text>
<text x="305.00" y="228.60" font-size="6.70" text-anchor="middle" fill="#231f20" transform="rotate(-90 305.00 228.60)">iNOS<tspan font-size="4.69" dy="-2.21">+</tspan><tspan dy="2.21">CD11c</tspan><tspan font-size="4.69" dy="-2.21">+</tspan><tspan dy="2.21">MHCII</tspan><tspan font-size="4.69" dy="-2.21">+</tspan></text>
<text x="313.50" y="228.60" font-size="6.70" text-anchor="middle" fill="#231f20" transform="rotate(-90 313.50 228.60)">(% of live cells)</text>
<line x1="424.50" y1="201.70" x2="424.50" y2="259.75" stroke="#231f20" stroke-width="0.85"/>
<line x1="423.80" y1="259.50" x2="481.90" y2="259.50" stroke="#231f20" stroke-width="0.85"/>
<line x1="421.60" y1="259.50" x2="424.10" y2="259.50" stroke="#231f20" stroke-width="0.85"/>
<text x="419.40" y="261.81" font-size="6.70" text-anchor="end" fill="#231f20">0</text>
<line x1="421.60" y1="240.50" x2="424.10" y2="240.50" stroke="#231f20" stroke-width="0.85"/>
<text x="419.40" y="242.68" font-size="6.70" text-anchor="end" fill="#231f20">1</text>
<line x1="421.60" y1="221.50" x2="424.10" y2="221.50" stroke="#231f20" stroke-width="0.85"/>
<text x="419.40" y="223.55" font-size="6.70" text-anchor="end" fill="#231f20">2</text>
<line x1="421.60" y1="202.50" x2="424.10" y2="202.50" stroke="#231f20" stroke-width="0.85"/>
<text x="419.40" y="204.41" font-size="6.70" text-anchor="end" fill="#231f20">3</text>
<line x1="433.50" y1="259.40" x2="433.50" y2="261.90" stroke="#231f20" stroke-width="0.85"/>
<line x1="446.50" y1="259.40" x2="446.50" y2="261.90" stroke="#231f20" stroke-width="0.85"/>
<line x1="460.50" y1="259.40" x2="460.50" y2="261.90" stroke="#231f20" stroke-width="0.85"/>
<line x1="473.50" y1="259.40" x2="473.50" y2="261.90" stroke="#231f20" stroke-width="0.85"/>
<text x="433.00" y="267.60" font-size="7.00" text-anchor="end" fill="#231f20" transform="rotate(-45 433.00 267.60)">IgG</text>
<text x="446.90" y="267.60" font-size="7.00" text-anchor="end" fill="#231f20" transform="rotate(-45 446.90 267.60)">Anti-PD-1</text>
<text x="460.00" y="267.60" font-size="7.00" text-anchor="end" fill="#231f20" transform="rotate(-45 460.00 267.60)">Anti-CTLA4</text>
<text x="475.10" y="267.60" font-size="7.00" text-anchor="end" fill="#231f20" transform="rotate(-45 475.10 267.60)">Anti-PD-1/</text>
<text x="480.62" y="275.24" font-size="7.00" text-anchor="end" fill="#231f20" transform="rotate(-45 480.62 275.24)">anti-CTLA4</text>
<line x1="433.50" y1="239.69" x2="433.50" y2="259.40" stroke="#111111" stroke-width="1.00"/>
<line x1="431.10" y1="239.50" x2="434.90" y2="239.50" stroke="#111111" stroke-width="1.00"/>
<line x1="431.10" y1="259.50" x2="434.90" y2="259.50" stroke="#111111" stroke-width="1.00"/>
<circle cx="433.00" cy="221.71" r="1.35" fill="#111111"/>
<circle cx="431.20" cy="254.62" r="1.35" fill="#111111"/>
<circle cx="434.80" cy="255.57" r="1.35" fill="#111111"/>
<circle cx="432.10" cy="256.53" r="1.35" fill="#111111"/>
<circle cx="433.90" cy="257.49" r="1.35" fill="#111111"/>
<circle cx="430.60" cy="257.87" r="1.35" fill="#111111"/>
<circle cx="435.40" cy="258.44" r="1.35" fill="#111111"/>
<line x1="429.40" y1="252.50" x2="436.60" y2="252.50" stroke="#111111" stroke-width="0.80"/>
<line x1="446.50" y1="249.83" x2="446.50" y2="254.62" stroke="#2e8f2e" stroke-width="1.00"/>
<line x1="445.00" y1="249.50" x2="448.80" y2="249.50" stroke="#2e8f2e" stroke-width="1.00"/>
<line x1="445.00" y1="254.50" x2="448.80" y2="254.50" stroke="#2e8f2e" stroke-width="1.00"/>
<circle cx="446.90" cy="248.88" r="1.35" fill="#0a8a0a"/>
<circle cx="445.10" cy="249.83" r="1.35" fill="#0a8a0a"/>
<circle cx="448.70" cy="250.79" r="1.35" fill="#0a8a0a"/>
<circle cx="446.00" cy="251.75" r="1.35" fill="#0a8a0a"/>
<circle cx="447.80" cy="252.70" r="1.35" fill="#0a8a0a"/>
<circle cx="444.50" cy="253.66" r="1.35" fill="#0a8a0a"/>
<circle cx="449.30" cy="255.57" r="1.35" fill="#0a8a0a"/>
<circle cx="446.90" cy="256.53" r="1.35" fill="#0a8a0a"/>
<line x1="443.30" y1="252.50" x2="450.50" y2="252.50" stroke="#2e8f2e" stroke-width="0.80"/>
<line x1="460.50" y1="229.74" x2="460.50" y2="258.44" stroke="#1a1aee" stroke-width="1.00"/>
<line x1="458.10" y1="229.50" x2="461.90" y2="229.50" stroke="#1a1aee" stroke-width="1.00"/>
<line x1="458.10" y1="258.50" x2="461.90" y2="258.50" stroke="#1a1aee" stroke-width="1.00"/>
<circle cx="460.00" cy="217.31" r="1.35" fill="#1a1aee"/>
<circle cx="458.20" cy="227.83" r="1.35" fill="#1a1aee"/>
<circle cx="461.80" cy="244.09" r="1.35" fill="#1a1aee"/>
<circle cx="459.10" cy="248.88" r="1.35" fill="#1a1aee"/>
<circle cx="460.90" cy="251.75" r="1.35" fill="#1a1aee"/>
<circle cx="457.60" cy="253.66" r="1.35" fill="#1a1aee"/>
<circle cx="462.40" cy="257.49" r="1.35" fill="#1a1aee"/>
<circle cx="460.00" cy="258.44" r="1.35" fill="#1a1aee"/>
<line x1="456.40" y1="244.50" x2="463.60" y2="244.50" stroke="#1a1aee" stroke-width="0.80"/>
<line x1="473.50" y1="233.57" x2="473.50" y2="253.28" stroke="#f03030" stroke-width="1.00"/>
<line x1="471.40" y1="233.50" x2="475.20" y2="233.50" stroke="#f03030" stroke-width="1.00"/>
<line x1="471.40" y1="253.50" x2="475.20" y2="253.50" stroke="#f03030" stroke-width="1.00"/>
<circle cx="473.30" cy="229.17" r="1.35" fill="#f03030"/>
<circle cx="471.50" cy="232.61" r="1.35" fill="#f03030"/>
<circle cx="475.10" cy="236.44" r="1.35" fill="#f03030"/>
<circle cx="472.40" cy="242.18" r="1.35" fill="#f03030"/>
<circle cx="474.20" cy="246.01" r="1.35" fill="#f03030"/>
<circle cx="470.90" cy="249.83" r="1.35" fill="#f03030"/>
<circle cx="475.70" cy="252.70" r="1.35" fill="#f03030"/>
<circle cx="473.30" cy="253.66" r="1.35" fill="#f03030"/>
<line x1="469.70" y1="243.50" x2="476.90" y2="243.50" stroke="#f03030" stroke-width="0.80"/>
<polyline points="433.00,187.00 433.00,184.60 473.30,184.60 473.30,187.00" fill="none" stroke="#333333" stroke-width="0.85"/>
<text transform="translate(453.15 185.50) scale(1 0.82)" font-size="8.20" text-anchor="middle" fill="#333333" style="stroke:#333333;stroke-width:0.35px">*</text>
<polyline points="446.90,194.20 446.90,191.80 473.30,191.80 473.30,194.20" fill="none" stroke="#333333" stroke-width="0.85"/>
<text x="460.10" y="190.80" font-size="6.90" text-anchor="middle" fill="#333333">NS</text>
<polyline points="460.00,200.40 460.00,198.00 473.30,198.00 473.30,200.40" fill="none" stroke="#333333" stroke-width="0.85"/>
<text x="466.65" y="197.00" font-size="6.90" text-anchor="middle" fill="#333333">NS</text>
<polyline points="433.00,206.70 433.00,204.30 460.00,204.30 460.00,206.70" fill="none" stroke="#333333" stroke-width="0.85"/>
<text transform="translate(446.50 205.20) scale(1 0.82)" font-size="8.20" text-anchor="middle" fill="#333333" style="stroke:#333333;stroke-width:0.35px">*</text>
<polyline points="433.00,215.70 433.00,213.30 446.90,213.30 446.90,215.70" fill="none" stroke="#333333" stroke-width="0.85"/>
<text x="439.95" y="212.30" font-size="6.90" text-anchor="middle" fill="#333333">NS</text>
<text x="451.40" y="173.60" font-size="6.70" text-anchor="middle" fill="#231f20">iNOS<tspan font-size="4.69" dy="-2.21">+</tspan><tspan dy="2.21"> monocytes</tspan></text>
<text x="401.60" y="228.60" font-size="6.70" text-anchor="middle" fill="#231f20" transform="rotate(-90 401.60 228.60)">iNOS<tspan font-size="4.69" dy="-2.21">+</tspan><tspan dy="2.21">CD11b</tspan><tspan font-size="4.69" dy="-2.21">+</tspan><tspan dy="2.21">Ly6C</tspan><tspan font-size="4.69" dy="-2.21">+</tspan><tspan dy="2.21">Ly6G</tspan><tspan font-size="4.69" dy="-2.21">−</tspan></text>
<text x="410.10" y="228.60" font-size="6.70" text-anchor="middle" fill="#231f20" transform="rotate(-90 410.10 228.60)">(% of live cells)</text>
<line x1="521.50" y1="201.70" x2="521.50" y2="259.75" stroke="#231f20" stroke-width="0.85"/>
<line x1="521.00" y1="259.50" x2="579.40" y2="259.50" stroke="#231f20" stroke-width="0.85"/>
<line x1="518.80" y1="259.50" x2="521.30" y2="259.50" stroke="#231f20" stroke-width="0.85"/>
<text x="516.60" y="261.81" font-size="6.70" text-anchor="end" fill="#231f20">0</text>
<line x1="518.80" y1="245.50" x2="521.30" y2="245.50" stroke="#231f20" stroke-width="0.85"/>
<text x="516.60" y="247.46" font-size="6.70" text-anchor="end" fill="#231f20">2</text>
<line x1="518.80" y1="230.50" x2="521.30" y2="230.50" stroke="#231f20" stroke-width="0.85"/>
<text x="516.60" y="233.11" font-size="6.70" text-anchor="end" fill="#231f20">4</text>
<line x1="518.80" y1="216.50" x2="521.30" y2="216.50" stroke="#231f20" stroke-width="0.85"/>
<text x="516.60" y="218.76" font-size="6.70" text-anchor="end" fill="#231f20">6</text>
<line x1="518.80" y1="202.50" x2="521.30" y2="202.50" stroke="#231f20" stroke-width="0.85"/>
<text x="516.60" y="204.41" font-size="6.70" text-anchor="end" fill="#231f20">8</text>
<line x1="530.50" y1="259.40" x2="530.50" y2="261.90" stroke="#231f20" stroke-width="0.85"/>
<line x1="543.50" y1="259.40" x2="543.50" y2="261.90" stroke="#231f20" stroke-width="0.85"/>
<line x1="557.50" y1="259.40" x2="557.50" y2="261.90" stroke="#231f20" stroke-width="0.85"/>
<line x1="570.50" y1="259.40" x2="570.50" y2="261.90" stroke="#231f20" stroke-width="0.85"/>
<text x="530.20" y="267.60" font-size="7.00" text-anchor="end" fill="#231f20" transform="rotate(-45 530.20 267.60)">IgG</text>
<text x="543.70" y="267.60" font-size="7.00" text-anchor="end" fill="#231f20" transform="rotate(-45 543.70 267.60)">Anti-PD-1</text>
<text x="557.20" y="267.60" font-size="7.00" text-anchor="end" fill="#231f20" transform="rotate(-45 557.20 267.60)">Anti-CTLA4</text>
<text x="572.20" y="267.60" font-size="7.00" text-anchor="end" fill="#231f20" transform="rotate(-45 572.20 267.60)">Anti-PD-1/</text>
<text x="577.72" y="275.24" font-size="7.00" text-anchor="end" fill="#231f20" transform="rotate(-45 577.72 275.24)">anti-CTLA4</text>
<line x1="530.50" y1="245.77" x2="530.50" y2="259.40" stroke="#111111" stroke-width="1.00"/>
<line x1="528.30" y1="245.50" x2="532.10" y2="245.50" stroke="#111111" stroke-width="1.00"/>
<line x1="528.30" y1="259.50" x2="532.10" y2="259.50" stroke="#111111" stroke-width="1.00"/>
<circle cx="530.20" cy="234.29" r="1.35" fill="#111111"/>
<circle cx="528.40" cy="253.66" r="1.35" fill="#111111"/>
<circle cx="532.00" cy="255.09" r="1.35" fill="#111111"/>
<circle cx="529.30" cy="255.81" r="1.35" fill="#111111"/>
<circle cx="531.10" cy="256.53" r="1.35" fill="#111111"/>
<circle cx="527.80" cy="257.25" r="1.35" fill="#111111"/>
<circle cx="532.60" cy="257.96" r="1.35" fill="#111111"/>
<line x1="526.60" y1="254.50" x2="533.80" y2="254.50" stroke="#111111" stroke-width="0.80"/>
<line x1="543.50" y1="254.74" x2="543.50" y2="256.17" stroke="#2e8f2e" stroke-width="1.00"/>
<line x1="541.80" y1="254.50" x2="545.60" y2="254.50" stroke="#2e8f2e" stroke-width="1.00"/>
<line x1="541.80" y1="256.50" x2="545.60" y2="256.50" stroke="#2e8f2e" stroke-width="1.00"/>
<circle cx="543.70" cy="254.02" r="1.35" fill="#0a8a0a"/>
<circle cx="541.90" cy="254.38" r="1.35" fill="#0a8a0a"/>
<circle cx="545.50" cy="255.09" r="1.35" fill="#0a8a0a"/>
<circle cx="542.80" cy="255.45" r="1.35" fill="#0a8a0a"/>
<circle cx="544.60" cy="255.81" r="1.35" fill="#0a8a0a"/>
<circle cx="541.30" cy="256.17" r="1.35" fill="#0a8a0a"/>
<circle cx="546.10" cy="256.53" r="1.35" fill="#0a8a0a"/>
<circle cx="543.70" cy="257.25" r="1.35" fill="#0a8a0a"/>
<line x1="540.10" y1="255.50" x2="547.30" y2="255.50" stroke="#2e8f2e" stroke-width="0.80"/>
<line x1="557.50" y1="219.22" x2="557.50" y2="254.38" stroke="#1a1aee" stroke-width="1.00"/>
<line x1="555.30" y1="219.50" x2="559.10" y2="219.50" stroke="#1a1aee" stroke-width="1.00"/>
<line x1="555.30" y1="254.50" x2="559.10" y2="254.50" stroke="#1a1aee" stroke-width="1.00"/>
<circle cx="557.20" cy="212.76" r="1.35" fill="#1a1aee"/>
<circle cx="555.40" cy="214.20" r="1.35" fill="#1a1aee"/>
<circle cx="559.00" cy="219.22" r="1.35" fill="#1a1aee"/>
<circle cx="556.30" cy="244.33" r="1.35" fill="#1a1aee"/>
<circle cx="558.10" cy="245.05" r="1.35" fill="#1a1aee"/>
<circle cx="554.80" cy="245.77" r="1.35" fill="#1a1aee"/>
<circle cx="559.60" cy="256.53" r="1.35" fill="#1a1aee"/>
<circle cx="557.20" cy="257.25" r="1.35" fill="#1a1aee"/>
<line x1="553.60" y1="236.50" x2="560.80" y2="236.50" stroke="#1a1aee" stroke-width="0.80"/>
<line x1="570.50" y1="224.24" x2="570.50" y2="245.05" stroke="#f03030" stroke-width="1.00"/>
<line x1="568.50" y1="224.50" x2="572.30" y2="224.50" stroke="#f03030" stroke-width="1.00"/>
<line x1="568.50" y1="245.50" x2="572.30" y2="245.50" stroke="#f03030" stroke-width="1.00"/>
<circle cx="570.40" cy="219.22" r="1.35" fill="#f03030"/>
<circle cx="568.60" cy="225.68" r="1.35" fill="#f03030"/>
<circle cx="572.20" cy="229.26" r="1.35" fill="#f03030"/>
<circle cx="569.50" cy="230.70" r="1.35" fill="#f03030"/>
<circle cx="571.30" cy="235.72" r="1.35" fill="#f03030"/>
<circle cx="568.00" cy="239.31" r="1.35" fill="#f03030"/>
<circle cx="572.80" cy="243.61" r="1.35" fill="#f03030"/>
<circle cx="570.40" cy="253.66" r="1.35" fill="#f03030"/>
<line x1="566.80" y1="234.50" x2="574.00" y2="234.50" stroke="#f03030" stroke-width="0.80"/>
<polyline points="530.20,203.70 530.20,201.30 570.40,201.30 570.40,203.70" fill="none" stroke="#333333" stroke-width="0.85"/>
<text transform="translate(550.30 202.20) scale(1 0.82)" font-size="8.20" text-anchor="middle" fill="#333333" style="stroke:#333333;stroke-width:0.35px">**</text>
<polyline points="543.70,210.70 543.70,208.30 570.40,208.30 570.40,210.70" fill="none" stroke="#333333" stroke-width="0.85"/>
<text transform="translate(557.05 209.20) scale(1 0.82)" font-size="8.20" text-anchor="middle" fill="#333333" style="stroke:#333333;stroke-width:0.35px">***</text>
<text x="547.60" y="173.60" font-size="6.70" text-anchor="middle" fill="#231f20">iNOS<tspan font-size="4.69" dy="-2.21">+</tspan><tspan dy="2.21"> neutrophils</tspan></text>
<text x="500.80" y="228.60" font-size="6.70" text-anchor="middle" fill="#231f20" transform="rotate(-90 500.80 228.60)">iNOS<tspan font-size="4.69" dy="-2.21">+</tspan><tspan dy="2.21">CD11b</tspan><tspan font-size="4.69" dy="-2.21">+</tspan><tspan dy="2.21">Ly6G</tspan><tspan font-size="4.69" dy="-2.21">+</tspan><tspan dy="2.21">Ly6C</tspan><tspan font-size="4.69" dy="-2.21">−</tspan></text>
<text x="508.70" y="228.60" font-size="6.70" text-anchor="middle" fill="#231f20" transform="rotate(-90 508.70 228.60)">(% of live cells)</text>
<line x1="623.50" y1="201.70" x2="623.50" y2="259.75" stroke="#231f20" stroke-width="0.85"/>
<line x1="623.50" y1="259.50" x2="679.80" y2="259.50" stroke="#231f20" stroke-width="0.85"/>
<line x1="621.30" y1="259.50" x2="623.80" y2="259.50" stroke="#231f20" stroke-width="0.85"/>
<text x="619.10" y="261.81" font-size="6.70" text-anchor="end" fill="#231f20">0</text>
<line x1="621.30" y1="240.50" x2="623.80" y2="240.50" stroke="#231f20" stroke-width="0.85"/>
<text x="619.10" y="242.68" font-size="6.70" text-anchor="end" fill="#231f20">2</text>
<line x1="621.30" y1="221.50" x2="623.80" y2="221.50" stroke="#231f20" stroke-width="0.85"/>
<text x="619.10" y="223.55" font-size="6.70" text-anchor="end" fill="#231f20">4</text>
<line x1="621.30" y1="202.50" x2="623.80" y2="202.50" stroke="#231f20" stroke-width="0.85"/>
<text x="619.10" y="204.41" font-size="6.70" text-anchor="end" fill="#231f20">6</text>
<line x1="632.50" y1="259.40" x2="632.50" y2="261.90" stroke="#231f20" stroke-width="0.85"/>
<line x1="646.50" y1="259.40" x2="646.50" y2="261.90" stroke="#231f20" stroke-width="0.85"/>
<line x1="659.50" y1="259.40" x2="659.50" y2="261.90" stroke="#231f20" stroke-width="0.85"/>
<line x1="672.50" y1="259.40" x2="672.50" y2="261.90" stroke="#231f20" stroke-width="0.85"/>
<text x="632.80" y="267.60" font-size="7.00" text-anchor="end" fill="#231f20" transform="rotate(-45 632.80 267.60)">IgG</text>
<text x="646.30" y="267.60" font-size="7.00" text-anchor="end" fill="#231f20" transform="rotate(-45 646.30 267.60)">Anti-PD-1</text>
<text x="659.50" y="267.60" font-size="7.00" text-anchor="end" fill="#231f20" transform="rotate(-45 659.50 267.60)">Anti-CTLA4</text>
<text x="674.40" y="267.60" font-size="7.00" text-anchor="end" fill="#231f20" transform="rotate(-45 674.40 267.60)">Anti-PD-1/</text>
<text x="679.92" y="275.24" font-size="7.00" text-anchor="end" fill="#231f20" transform="rotate(-45 679.92 275.24)">anti-CTLA4</text>
<line x1="632.50" y1="242.66" x2="632.50" y2="259.40" stroke="#111111" stroke-width="1.00"/>
<line x1="630.90" y1="242.50" x2="634.70" y2="242.50" stroke="#111111" stroke-width="1.00"/>
<line x1="630.90" y1="259.50" x2="634.70" y2="259.50" stroke="#111111" stroke-width="1.00"/>
<circle cx="632.80" cy="228.79" r="1.35" fill="#111111"/>
<circle cx="631.00" cy="253.66" r="1.35" fill="#111111"/>
<circle cx="634.60" cy="254.62" r="1.35" fill="#111111"/>
<circle cx="631.90" cy="255.57" r="1.35" fill="#111111"/>
<circle cx="633.70" cy="256.53" r="1.35" fill="#111111"/>
<circle cx="630.40" cy="257.49" r="1.35" fill="#111111"/>
<circle cx="635.20" cy="257.96" r="1.35" fill="#111111"/>
<line x1="629.20" y1="252.50" x2="636.40" y2="252.50" stroke="#111111" stroke-width="0.80"/>
<line x1="646.50" y1="254.14" x2="646.50" y2="256.05" stroke="#2e8f2e" stroke-width="1.00"/>
<line x1="644.40" y1="254.50" x2="648.20" y2="254.50" stroke="#2e8f2e" stroke-width="1.00"/>
<line x1="644.40" y1="256.50" x2="648.20" y2="256.50" stroke="#2e8f2e" stroke-width="1.00"/>
<circle cx="646.30" cy="252.70" r="1.35" fill="#0a8a0a"/>
<circle cx="644.50" cy="254.14" r="1.35" fill="#0a8a0a"/>
<circle cx="648.10" cy="254.62" r="1.35" fill="#0a8a0a"/>
<circle cx="645.40" cy="255.09" r="1.35" fill="#0a8a0a"/>
<circle cx="647.20" cy="255.57" r="1.35" fill="#0a8a0a"/>
<circle cx="643.90" cy="256.05" r="1.35" fill="#0a8a0a"/>
<circle cx="648.70" cy="256.53" r="1.35" fill="#0a8a0a"/>
<line x1="642.70" y1="255.50" x2="649.90" y2="255.50" stroke="#2e8f2e" stroke-width="0.80"/>
<line x1="659.50" y1="229.26" x2="659.50" y2="254.14" stroke="#1a1aee" stroke-width="1.00"/>
<line x1="657.60" y1="229.50" x2="661.40" y2="229.50" stroke="#1a1aee" stroke-width="1.00"/>
<line x1="657.60" y1="254.50" x2="661.40" y2="254.50" stroke="#1a1aee" stroke-width="1.00"/>
<circle cx="659.50" cy="219.22" r="1.35" fill="#1a1aee"/>
<circle cx="657.70" cy="232.61" r="1.35" fill="#1a1aee"/>
<circle cx="661.30" cy="233.57" r="1.35" fill="#1a1aee"/>
<circle cx="658.60" cy="242.18" r="1.35" fill="#1a1aee"/>
<circle cx="660.40" cy="243.14" r="1.35" fill="#1a1aee"/>
<circle cx="657.10" cy="246.01" r="1.35" fill="#1a1aee"/>
<circle cx="661.90" cy="254.62" r="1.35" fill="#1a1aee"/>
<circle cx="659.50" cy="256.53" r="1.35" fill="#1a1aee"/>
<line x1="655.90" y1="241.50" x2="663.10" y2="241.50" stroke="#1a1aee" stroke-width="0.80"/>
<line x1="672.50" y1="224.48" x2="672.50" y2="246.48" stroke="#f03030" stroke-width="1.00"/>
<line x1="670.70" y1="224.50" x2="674.50" y2="224.50" stroke="#f03030" stroke-width="1.00"/>
<line x1="670.70" y1="246.50" x2="674.50" y2="246.50" stroke="#f03030" stroke-width="1.00"/>
<circle cx="672.60" cy="224.96" r="1.35" fill="#f03030"/>
<circle cx="670.80" cy="228.79" r="1.35" fill="#f03030"/>
<circle cx="674.40" cy="229.74" r="1.35" fill="#f03030"/>
<circle cx="671.70" cy="235.48" r="1.35" fill="#f03030"/>
<circle cx="673.50" cy="240.27" r="1.35" fill="#f03030"/>
<circle cx="670.20" cy="246.96" r="1.35" fill="#f03030"/>
<circle cx="675.00" cy="255.57" r="1.35" fill="#f03030"/>
<line x1="669.00" y1="235.50" x2="676.20" y2="235.50" stroke="#f03030" stroke-width="0.80"/>
<polyline points="632.80,190.90 632.80,188.50 672.60,188.50 672.60,190.90" fill="none" stroke="#333333" stroke-width="0.85"/>
<text transform="translate(652.70 189.40) scale(1 0.82)" font-size="8.20" text-anchor="middle" fill="#333333" style="stroke:#333333;stroke-width:0.35px">**</text>
<polyline points="646.30,199.20 646.30,196.80 672.60,196.80 672.60,199.20" fill="none" stroke="#333333" stroke-width="0.85"/>
<text transform="translate(659.45 197.70) scale(1 0.82)" font-size="8.20" text-anchor="middle" fill="#333333" style="stroke:#333333;stroke-width:0.35px">**</text>
<polyline points="659.50,205.80 659.50,203.40 672.60,203.40 672.60,205.80" fill="none" stroke="#333333" stroke-width="0.85"/>
<text x="666.05" y="202.40" font-size="6.90" text-anchor="middle" fill="#333333">NS</text>
<polyline points="632.80,213.40 632.80,211.00 659.50,211.00 659.50,213.40" fill="none" stroke="#333333" stroke-width="0.85"/>
<text x="646.15" y="210.00" font-size="6.90" text-anchor="middle" fill="#333333">NS</text>
<polyline points="632.80,223.40 632.80,221.00 646.30,221.00 646.30,223.40" fill="none" stroke="#333333" stroke-width="0.85"/>
<text x="639.55" y="220.00" font-size="6.90" text-anchor="middle" fill="#333333">NS</text>
<text x="653.80" y="173.60" font-size="6.70" text-anchor="middle" fill="#231f20">iNOS<tspan font-size="4.69" dy="-2.21">+</tspan><tspan dy="2.21">MCHII</tspan><tspan font-size="4.69" dy="-2.21">+</tspan><tspan dy="2.21"> TAMs</tspan></text>
<text x="594.70" y="231.50" font-size="6.70" text-anchor="middle" fill="#231f20" transform="rotate(-90 594.70 231.50)">iNOS<tspan font-size="4.69" dy="-2.21">+</tspan><tspan dy="2.21">MHCII</tspan><tspan font-size="4.69" dy="-2.21">+</tspan></text>
<text x="602.90" y="231.50" font-size="6.70" text-anchor="middle" fill="#231f20" transform="rotate(-90 602.90 231.50)">F4/80<tspan font-size="4.69" dy="-2.21">+</tspan><tspan dy="2.21">GR-1</tspan><tspan font-size="4.69" dy="-2.21">−</tspan></text>
<text x="611.10" y="231.50" font-size="6.70" text-anchor="middle" fill="#231f20" transform="rotate(-90 611.10 231.50)">(% of live cells)</text>
<text x="0.00" y="327.20" font-size="10.50" text-anchor="start" fill="#000" font-weight="bold" style="stroke:#000;stroke-width:0.45px">c</text>
<text x="168.00" y="327.40" font-size="6.70" text-anchor="middle" fill="#231f20"><tspan font-style="italic">KL5</tspan> model</text>
<text x="505.00" y="327.40" font-size="6.70" text-anchor="middle" fill="#231f20"><tspan font-style="italic">KK</tspan> model</text>
<line x1="34.50" y1="337.10" x2="34.50" y2="407.05" stroke="#231f20" stroke-width="0.85"/>
<line x1="34.30" y1="406.50" x2="139.50" y2="406.50" stroke="#231f20" stroke-width="0.85"/>
<line x1="31.60" y1="406.50" x2="34.60" y2="406.50" stroke="#231f20" stroke-width="0.85"/>
<text x="29.70" y="409.18" font-size="6.90" text-anchor="end" fill="#231f20">0</text>
<line x1="31.60" y1="383.50" x2="34.60" y2="383.50" stroke="#231f20" stroke-width="0.85"/>
<text x="29.70" y="386.08" font-size="6.90" text-anchor="end" fill="#231f20">500</text>
<line x1="31.60" y1="360.50" x2="34.60" y2="360.50" stroke="#231f20" stroke-width="0.85"/>
<text x="29.70" y="362.98" font-size="6.90" text-anchor="end" fill="#231f20">1,000</text>
<line x1="31.60" y1="337.50" x2="34.60" y2="337.50" stroke="#231f20" stroke-width="0.85"/>
<text x="29.70" y="339.88" font-size="6.90" text-anchor="end" fill="#231f20">1,500</text>
<line x1="34.50" y1="406.70" x2="34.50" y2="409.30" stroke="#231f20" stroke-width="0.85"/>
<text x="34.60" y="417.00" font-size="6.70" text-anchor="middle" fill="#231f20">0</text>
<line x1="59.50" y1="406.70" x2="59.50" y2="409.30" stroke="#231f20" stroke-width="0.85"/>
<text x="59.40" y="417.00" font-size="6.70" text-anchor="middle" fill="#231f20">5</text>
<line x1="84.50" y1="406.70" x2="84.50" y2="409.30" stroke="#231f20" stroke-width="0.85"/>
<text x="84.20" y="417.00" font-size="6.70" text-anchor="middle" fill="#231f20">10</text>
<line x1="109.50" y1="406.70" x2="109.50" y2="409.30" stroke="#231f20" stroke-width="0.85"/>
<text x="109.00" y="417.00" font-size="6.70" text-anchor="middle" fill="#231f20">15</text>
<line x1="133.50" y1="406.70" x2="133.50" y2="409.30" stroke="#231f20" stroke-width="0.85"/>
<text x="133.80" y="417.00" font-size="6.70" text-anchor="middle" fill="#231f20">20</text>
<text x="87.00" y="426.30" font-size="6.70" text-anchor="middle" fill="#231f20">Time (days after randomization)</text>
<text x="7.80" y="372.00" font-size="6.70" text-anchor="middle" fill="#231f20" transform="rotate(-90 7.80 372.00)">Tumour volume (mm<tspan font-size="4.69" dy="-2.21">3</tspan><tspan dy="2.21">)</tspan></text>
<line x1="34.50" y1="403.47" x2="34.50" y2="404.39" stroke="#ff8c1a" stroke-width="0.70"/>
<line x1="33.20" y1="403.50" x2="36.00" y2="403.50" stroke="#ff8c1a" stroke-width="0.70"/>
<line x1="33.20" y1="404.50" x2="36.00" y2="404.50" stroke="#ff8c1a" stroke-width="0.70"/>
<line x1="44.50" y1="402.31" x2="44.50" y2="403.24" stroke="#ff8c1a" stroke-width="0.70"/>
<line x1="43.12" y1="402.50" x2="45.92" y2="402.50" stroke="#ff8c1a" stroke-width="0.70"/>
<line x1="43.12" y1="403.50" x2="45.92" y2="403.50" stroke="#ff8c1a" stroke-width="0.70"/>
<line x1="54.50" y1="400.69" x2="54.50" y2="402.54" stroke="#ff8c1a" stroke-width="0.70"/>
<line x1="53.04" y1="400.50" x2="55.84" y2="400.50" stroke="#ff8c1a" stroke-width="0.70"/>
<line x1="53.04" y1="402.50" x2="55.84" y2="402.50" stroke="#ff8c1a" stroke-width="0.70"/>
<line x1="64.50" y1="398.38" x2="64.50" y2="401.16" stroke="#ff8c1a" stroke-width="0.70"/>
<line x1="62.96" y1="398.50" x2="65.76" y2="398.50" stroke="#ff8c1a" stroke-width="0.70"/>
<line x1="62.96" y1="401.50" x2="65.76" y2="401.50" stroke="#ff8c1a" stroke-width="0.70"/>
<line x1="69.50" y1="397.00" x2="69.50" y2="399.31" stroke="#ff8c1a" stroke-width="0.70"/>
<line x1="67.92" y1="396.50" x2="70.72" y2="396.50" stroke="#ff8c1a" stroke-width="0.70"/>
<line x1="67.92" y1="399.50" x2="70.72" y2="399.50" stroke="#ff8c1a" stroke-width="0.70"/>
<line x1="79.50" y1="392.38" x2="79.50" y2="397.92" stroke="#ff8c1a" stroke-width="0.70"/>
<line x1="77.84" y1="392.50" x2="80.64" y2="392.50" stroke="#ff8c1a" stroke-width="0.70"/>
<line x1="77.84" y1="397.50" x2="80.64" y2="397.50" stroke="#ff8c1a" stroke-width="0.70"/>
<line x1="89.50" y1="390.53" x2="89.50" y2="395.15" stroke="#ff8c1a" stroke-width="0.70"/>
<line x1="87.76" y1="390.50" x2="90.56" y2="390.50" stroke="#ff8c1a" stroke-width="0.70"/>
<line x1="87.76" y1="395.50" x2="90.56" y2="395.50" stroke="#ff8c1a" stroke-width="0.70"/>
<line x1="99.50" y1="382.21" x2="99.50" y2="397.00" stroke="#ff8c1a" stroke-width="0.70"/>
<line x1="97.68" y1="382.50" x2="100.48" y2="382.50" stroke="#ff8c1a" stroke-width="0.70"/>
<line x1="97.68" y1="396.50" x2="100.48" y2="396.50" stroke="#ff8c1a" stroke-width="0.70"/>
<line x1="104.50" y1="379.21" x2="104.50" y2="392.15" stroke="#ff8c1a" stroke-width="0.70"/>
<line x1="102.64" y1="379.50" x2="105.44" y2="379.50" stroke="#ff8c1a" stroke-width="0.70"/>
<line x1="102.64" y1="392.50" x2="105.44" y2="392.50" stroke="#ff8c1a" stroke-width="0.70"/>
<line x1="109.50" y1="375.28" x2="109.50" y2="390.99" stroke="#ff8c1a" stroke-width="0.70"/>
<line x1="107.60" y1="375.50" x2="110.40" y2="375.50" stroke="#ff8c1a" stroke-width="0.70"/>
<line x1="107.60" y1="390.50" x2="110.40" y2="390.50" stroke="#ff8c1a" stroke-width="0.70"/>
<line x1="113.50" y1="366.97" x2="113.50" y2="385.45" stroke="#ff8c1a" stroke-width="0.70"/>
<line x1="112.56" y1="366.50" x2="115.36" y2="366.50" stroke="#ff8c1a" stroke-width="0.70"/>
<line x1="112.56" y1="385.50" x2="115.36" y2="385.50" stroke="#ff8c1a" stroke-width="0.70"/>
<line x1="118.50" y1="360.96" x2="118.50" y2="381.75" stroke="#ff8c1a" stroke-width="0.70"/>
<line x1="117.52" y1="360.50" x2="120.32" y2="360.50" stroke="#ff8c1a" stroke-width="0.70"/>
<line x1="117.52" y1="381.50" x2="120.32" y2="381.50" stroke="#ff8c1a" stroke-width="0.70"/>
<line x1="128.50" y1="351.26" x2="128.50" y2="376.21" stroke="#ff8c1a" stroke-width="0.70"/>
<line x1="127.44" y1="351.50" x2="130.24" y2="351.50" stroke="#ff8c1a" stroke-width="0.70"/>
<line x1="127.44" y1="376.50" x2="130.24" y2="376.50" stroke="#ff8c1a" stroke-width="0.70"/>
<line x1="138.50" y1="344.10" x2="138.50" y2="371.82" stroke="#ff8c1a" stroke-width="0.70"/>
<line x1="137.36" y1="344.50" x2="140.16" y2="344.50" stroke="#ff8c1a" stroke-width="0.70"/>
<line x1="137.36" y1="371.50" x2="140.16" y2="371.50" stroke="#ff8c1a" stroke-width="0.70"/>
<polyline points="34.60,403.93 44.52,402.77 54.44,401.62 64.36,399.77 69.32,398.15 79.24,395.15 89.16,392.84 99.08,389.61 104.04,385.68 109.00,383.14 113.96,376.21 118.92,371.36 128.84,363.73 138.76,357.96" fill="none" stroke="#ff8c1a" stroke-width="0.90"/>
<polygon points="34.60,402.03 32.88,405.22 36.33,405.22" fill="#ff8c1a"/>
<polygon points="44.52,400.88 42.80,404.07 46.25,404.07" fill="#ff8c1a"/>
<polygon points="54.44,399.72 52.71,402.91 56.16,402.91" fill="#ff8c1a"/>
<polygon points="64.36,397.87 62.63,401.06 66.08,401.06" fill="#ff8c1a"/>
<polygon points="69.32,396.26 67.59,399.45 71.04,399.45" fill="#ff8c1a"/>
<polygon points="79.24,393.25 77.52,396.44 80.97,396.44" fill="#ff8c1a"/>
<polygon points="89.16,390.94 87.44,394.13 90.88,394.13" fill="#ff8c1a"/>
<polygon points="99.08,387.71 97.36,390.90 100.81,390.90" fill="#ff8c1a"/>
<polygon points="104.04,383.78 102.31,386.97 105.76,386.97" fill="#ff8c1a"/>
<polygon points="109.00,381.24 107.28,384.43 110.72,384.43" fill="#ff8c1a"/>
<polygon points="113.96,374.31 112.24,377.50 115.69,377.50" fill="#ff8c1a"/>
<polygon points="118.92,369.46 117.19,372.65 120.64,372.65" fill="#ff8c1a"/>
<polygon points="128.84,361.84 127.12,365.03 130.56,365.03" fill="#ff8c1a"/>
<polygon points="138.76,356.06 137.03,359.25 140.48,359.25" fill="#ff8c1a"/>
<line x1="34.50" y1="403.93" x2="34.50" y2="404.85" stroke="#a020f0" stroke-width="0.70"/>
<line x1="33.20" y1="403.50" x2="36.00" y2="403.50" stroke="#a020f0" stroke-width="0.70"/>
<line x1="33.20" y1="404.50" x2="36.00" y2="404.50" stroke="#a020f0" stroke-width="0.70"/>
<line x1="44.50" y1="402.77" x2="44.50" y2="403.70" stroke="#a020f0" stroke-width="0.70"/>
<line x1="43.12" y1="402.50" x2="45.92" y2="402.50" stroke="#a020f0" stroke-width="0.70"/>
<line x1="43.12" y1="403.50" x2="45.92" y2="403.50" stroke="#a020f0" stroke-width="0.70"/>
<line x1="54.50" y1="401.16" x2="54.50" y2="403.00" stroke="#a020f0" stroke-width="0.70"/>
<line x1="53.04" y1="401.50" x2="55.84" y2="401.50" stroke="#a020f0" stroke-width="0.70"/>
<line x1="53.04" y1="403.50" x2="55.84" y2="403.50" stroke="#a020f0" stroke-width="0.70"/>
<line x1="64.50" y1="397.92" x2="64.50" y2="400.69" stroke="#a020f0" stroke-width="0.70"/>
<line x1="62.96" y1="397.50" x2="65.76" y2="397.50" stroke="#a020f0" stroke-width="0.70"/>
<line x1="62.96" y1="400.50" x2="65.76" y2="400.50" stroke="#a020f0" stroke-width="0.70"/>
<line x1="69.50" y1="397.00" x2="69.50" y2="399.77" stroke="#a020f0" stroke-width="0.70"/>
<line x1="67.92" y1="396.50" x2="70.72" y2="396.50" stroke="#a020f0" stroke-width="0.70"/>
<line x1="67.92" y1="399.50" x2="70.72" y2="399.50" stroke="#a020f0" stroke-width="0.70"/>
<line x1="79.50" y1="394.69" x2="79.50" y2="397.46" stroke="#a020f0" stroke-width="0.70"/>
<line x1="77.84" y1="394.50" x2="80.64" y2="394.50" stroke="#a020f0" stroke-width="0.70"/>
<line x1="77.84" y1="397.50" x2="80.64" y2="397.50" stroke="#a020f0" stroke-width="0.70"/>
<line x1="89.50" y1="392.38" x2="89.50" y2="396.07" stroke="#a020f0" stroke-width="0.70"/>
<line x1="87.76" y1="392.50" x2="90.56" y2="392.50" stroke="#a020f0" stroke-width="0.70"/>
<line x1="87.76" y1="396.50" x2="90.56" y2="396.50" stroke="#a020f0" stroke-width="0.70"/>
<line x1="99.50" y1="387.30" x2="99.50" y2="392.84" stroke="#a020f0" stroke-width="0.70"/>
<line x1="97.68" y1="387.50" x2="100.48" y2="387.50" stroke="#a020f0" stroke-width="0.70"/>
<line x1="97.68" y1="392.50" x2="100.48" y2="392.50" stroke="#a020f0" stroke-width="0.70"/>
<line x1="104.50" y1="385.91" x2="104.50" y2="391.45" stroke="#a020f0" stroke-width="0.70"/>
<line x1="102.64" y1="385.50" x2="105.44" y2="385.50" stroke="#a020f0" stroke-width="0.70"/>
<line x1="102.64" y1="391.50" x2="105.44" y2="391.50" stroke="#a020f0" stroke-width="0.70"/>
<line x1="109.50" y1="384.06" x2="109.50" y2="390.53" stroke="#a020f0" stroke-width="0.70"/>
<line x1="107.60" y1="384.50" x2="110.40" y2="384.50" stroke="#a020f0" stroke-width="0.70"/>
<line x1="107.60" y1="390.50" x2="110.40" y2="390.50" stroke="#a020f0" stroke-width="0.70"/>
<line x1="113.50" y1="378.52" x2="113.50" y2="385.91" stroke="#a020f0" stroke-width="0.70"/>
<line x1="112.56" y1="378.50" x2="115.36" y2="378.50" stroke="#a020f0" stroke-width="0.70"/>
<line x1="112.56" y1="385.50" x2="115.36" y2="385.50" stroke="#a020f0" stroke-width="0.70"/>
<line x1="118.50" y1="374.59" x2="118.50" y2="381.98" stroke="#a020f0" stroke-width="0.70"/>
<line x1="117.52" y1="374.50" x2="120.32" y2="374.50" stroke="#a020f0" stroke-width="0.70"/>
<line x1="117.52" y1="381.50" x2="120.32" y2="381.50" stroke="#a020f0" stroke-width="0.70"/>
<line x1="128.50" y1="370.20" x2="128.50" y2="378.52" stroke="#a020f0" stroke-width="0.70"/>
<line x1="127.44" y1="370.50" x2="130.24" y2="370.50" stroke="#a020f0" stroke-width="0.70"/>
<line x1="127.44" y1="378.50" x2="130.24" y2="378.50" stroke="#a020f0" stroke-width="0.70"/>
<line x1="138.50" y1="364.66" x2="138.50" y2="372.05" stroke="#a020f0" stroke-width="0.70"/>
<line x1="137.36" y1="364.50" x2="140.16" y2="364.50" stroke="#a020f0" stroke-width="0.70"/>
<line x1="137.36" y1="372.50" x2="140.16" y2="372.50" stroke="#a020f0" stroke-width="0.70"/>
<polyline points="34.60,404.39 44.52,403.24 54.44,402.08 64.36,399.31 69.32,398.38 79.24,396.07 89.16,394.23 99.08,390.07 104.04,388.68 109.00,387.30 113.96,382.21 118.92,378.29 128.84,374.36 138.76,368.35" fill="none" stroke="#a020f0" stroke-width="0.90"/>
<rect x="33.30" y="403.09" width="2.60" height="2.60" fill="#a020f0"/>
<rect x="43.22" y="401.94" width="2.60" height="2.60" fill="#a020f0"/>
<rect x="53.14" y="400.78" width="2.60" height="2.60" fill="#a020f0"/>
<rect x="63.06" y="398.01" width="2.60" height="2.60" fill="#a020f0"/>
<rect x="68.02" y="397.08" width="2.60" height="2.60" fill="#a020f0"/>
<rect x="77.94" y="394.77" width="2.60" height="2.60" fill="#a020f0"/>
<rect x="87.86" y="392.93" width="2.60" height="2.60" fill="#a020f0"/>
<rect x="97.78" y="388.77" width="2.60" height="2.60" fill="#a020f0"/>
<rect x="102.74" y="387.38" width="2.60" height="2.60" fill="#a020f0"/>
<rect x="107.70" y="386.00" width="2.60" height="2.60" fill="#a020f0"/>
<rect x="112.66" y="380.91" width="2.60" height="2.60" fill="#a020f0"/>
<rect x="117.62" y="376.99" width="2.60" height="2.60" fill="#a020f0"/>
<rect x="127.54" y="373.06" width="2.60" height="2.60" fill="#a020f0"/>
<rect x="137.46" y="367.05" width="2.60" height="2.60" fill="#a020f0"/>
<line x1="34.50" y1="403.24" x2="34.50" y2="404.62" stroke="#111111" stroke-width="0.70"/>
<line x1="33.20" y1="403.50" x2="36.00" y2="403.50" stroke="#111111" stroke-width="0.70"/>
<line x1="33.20" y1="404.50" x2="36.00" y2="404.50" stroke="#111111" stroke-width="0.70"/>
<line x1="44.50" y1="402.31" x2="44.50" y2="403.70" stroke="#111111" stroke-width="0.70"/>
<line x1="43.12" y1="402.50" x2="45.92" y2="402.50" stroke="#111111" stroke-width="0.70"/>
<line x1="43.12" y1="403.50" x2="45.92" y2="403.50" stroke="#111111" stroke-width="0.70"/>
<line x1="54.50" y1="399.77" x2="54.50" y2="402.54" stroke="#111111" stroke-width="0.70"/>
<line x1="53.04" y1="399.50" x2="55.84" y2="399.50" stroke="#111111" stroke-width="0.70"/>
<line x1="53.04" y1="402.50" x2="55.84" y2="402.50" stroke="#111111" stroke-width="0.70"/>
<line x1="64.50" y1="397.23" x2="64.50" y2="400.00" stroke="#111111" stroke-width="0.70"/>
<line x1="62.96" y1="397.50" x2="65.76" y2="397.50" stroke="#111111" stroke-width="0.70"/>
<line x1="62.96" y1="400.50" x2="65.76" y2="400.50" stroke="#111111" stroke-width="0.70"/>
<line x1="69.50" y1="396.31" x2="69.50" y2="399.08" stroke="#111111" stroke-width="0.70"/>
<line x1="67.92" y1="396.50" x2="70.72" y2="396.50" stroke="#111111" stroke-width="0.70"/>
<line x1="67.92" y1="399.50" x2="70.72" y2="399.50" stroke="#111111" stroke-width="0.70"/>
<line x1="79.50" y1="394.69" x2="79.50" y2="397.46" stroke="#111111" stroke-width="0.70"/>
<line x1="77.84" y1="394.50" x2="80.64" y2="394.50" stroke="#111111" stroke-width="0.70"/>
<line x1="77.84" y1="397.50" x2="80.64" y2="397.50" stroke="#111111" stroke-width="0.70"/>
<line x1="89.50" y1="391.45" x2="89.50" y2="395.15" stroke="#111111" stroke-width="0.70"/>
<line x1="87.76" y1="391.50" x2="90.56" y2="391.50" stroke="#111111" stroke-width="0.70"/>
<line x1="87.76" y1="395.50" x2="90.56" y2="395.50" stroke="#111111" stroke-width="0.70"/>
<line x1="99.50" y1="386.83" x2="99.50" y2="391.45" stroke="#111111" stroke-width="0.70"/>
<line x1="97.68" y1="386.50" x2="100.48" y2="386.50" stroke="#111111" stroke-width="0.70"/>
<line x1="97.68" y1="391.50" x2="100.48" y2="391.50" stroke="#111111" stroke-width="0.70"/>
<line x1="104.50" y1="384.75" x2="104.50" y2="390.30" stroke="#111111" stroke-width="0.70"/>
<line x1="102.64" y1="384.50" x2="105.44" y2="384.50" stroke="#111111" stroke-width="0.70"/>
<line x1="102.64" y1="390.50" x2="105.44" y2="390.50" stroke="#111111" stroke-width="0.70"/>
<line x1="109.50" y1="380.83" x2="109.50" y2="387.30" stroke="#111111" stroke-width="0.70"/>
<line x1="107.60" y1="380.50" x2="110.40" y2="380.50" stroke="#111111" stroke-width="0.70"/>
<line x1="107.60" y1="387.50" x2="110.40" y2="387.50" stroke="#111111" stroke-width="0.70"/>
<line x1="113.50" y1="374.36" x2="113.50" y2="379.90" stroke="#111111" stroke-width="0.70"/>
<line x1="112.56" y1="374.50" x2="115.36" y2="374.50" stroke="#111111" stroke-width="0.70"/>
<line x1="112.56" y1="379.50" x2="115.36" y2="379.50" stroke="#111111" stroke-width="0.70"/>
<line x1="118.50" y1="372.05" x2="118.50" y2="378.52" stroke="#111111" stroke-width="0.70"/>
<line x1="117.52" y1="372.50" x2="120.32" y2="372.50" stroke="#111111" stroke-width="0.70"/>
<line x1="117.52" y1="378.50" x2="120.32" y2="378.50" stroke="#111111" stroke-width="0.70"/>
<line x1="128.50" y1="367.66" x2="128.50" y2="375.05" stroke="#111111" stroke-width="0.70"/>
<line x1="127.44" y1="367.50" x2="130.24" y2="367.50" stroke="#111111" stroke-width="0.70"/>
<line x1="127.44" y1="375.50" x2="130.24" y2="375.50" stroke="#111111" stroke-width="0.70"/>
<line x1="138.50" y1="362.81" x2="138.50" y2="371.13" stroke="#111111" stroke-width="0.70"/>
<line x1="137.36" y1="362.50" x2="140.16" y2="362.50" stroke="#111111" stroke-width="0.70"/>
<line x1="137.36" y1="371.50" x2="140.16" y2="371.50" stroke="#111111" stroke-width="0.70"/>
<polyline points="34.60,403.93 44.52,403.00 54.44,401.16 64.36,398.62 69.32,397.69 79.24,396.07 89.16,393.30 99.08,389.14 104.04,387.53 109.00,384.06 113.96,377.13 118.92,375.28 128.84,371.36 138.76,366.97" fill="none" stroke="#111111" stroke-width="0.90"/>
<circle cx="34.60" cy="403.93" r="1.50" fill="#111111"/>
<circle cx="44.52" cy="403.00" r="1.50" fill="#111111"/>
<circle cx="54.44" cy="401.16" r="1.50" fill="#111111"/>
<circle cx="64.36" cy="398.62" r="1.50" fill="#111111"/>
<circle cx="69.32" cy="397.69" r="1.50" fill="#111111"/>
<circle cx="79.24" cy="396.07" r="1.50" fill="#111111"/>
<circle cx="89.16" cy="393.30" r="1.50" fill="#111111"/>
<circle cx="99.08" cy="389.14" r="1.50" fill="#111111"/>
<circle cx="104.04" cy="387.53" r="1.50" fill="#111111"/>
<circle cx="109.00" cy="384.06" r="1.50" fill="#111111"/>
<circle cx="113.96" cy="377.13" r="1.50" fill="#111111"/>
<circle cx="118.92" cy="375.28" r="1.50" fill="#111111"/>
<circle cx="128.84" cy="371.36" r="1.50" fill="#111111"/>
<circle cx="138.76" cy="366.97" r="1.50" fill="#111111"/>
<line x1="36.00" y1="339.50" x2="43.50" y2="339.50" stroke="#111111" stroke-width="0.90"/>
<circle cx="39.75" cy="339.50" r="1.50" fill="#111111"/>
<text x="46.20" y="341.50" font-size="5.60" text-anchor="start" fill="#231f20">IgG control</text>
<line x1="36.00" y1="348.50" x2="43.50" y2="348.50" stroke="#a020f0" stroke-width="0.90"/>
<rect x="38.25" y="346.60" width="3.00" height="3.00" fill="#a020f0"/>
<text x="46.20" y="350.10" font-size="5.60" text-anchor="start" fill="#231f20">Anti-CD4</text>
<line x1="36.00" y1="356.50" x2="43.50" y2="356.50" stroke="#ff8c1a" stroke-width="0.90"/>
<polygon points="39.75,354.80 38.02,357.99 41.48,357.99" fill="#ff8c1a"/>
<text x="46.20" y="358.70" font-size="5.60" text-anchor="start" fill="#231f20">Anti-CD8</text>
<polyline points="142.10,358.20 144.30,358.20 144.30,365.40 142.10,365.40" fill="none" stroke="#333333" stroke-width="0.85"/>
<text x="145.10" y="364.30" font-size="6.90" text-anchor="start" fill="#333333">NS</text>
<polyline points="155.20,356.20 157.40,356.20 157.40,368.30 155.20,368.30" fill="none" stroke="#333333" stroke-width="0.85"/>
<text x="158.20" y="364.75" font-size="6.90" text-anchor="start" fill="#333333">NS</text>
<line x1="202.50" y1="337.00" x2="202.50" y2="407.35" stroke="#231f20" stroke-width="0.85"/>
<line x1="202.50" y1="407.50" x2="307.50" y2="407.50" stroke="#231f20" stroke-width="0.85"/>
<line x1="199.80" y1="407.50" x2="202.80" y2="407.50" stroke="#231f20" stroke-width="0.85"/>
<text x="197.90" y="409.48" font-size="6.90" text-anchor="end" fill="#231f20">0</text>
<line x1="199.80" y1="383.50" x2="202.80" y2="383.50" stroke="#231f20" stroke-width="0.85"/>
<text x="197.90" y="386.25" font-size="6.90" text-anchor="end" fill="#231f20">500</text>
<line x1="199.80" y1="360.50" x2="202.80" y2="360.50" stroke="#231f20" stroke-width="0.85"/>
<text x="197.90" y="363.02" font-size="6.90" text-anchor="end" fill="#231f20">1,000</text>
<line x1="199.80" y1="337.50" x2="202.80" y2="337.50" stroke="#231f20" stroke-width="0.85"/>
<text x="197.90" y="339.78" font-size="6.90" text-anchor="end" fill="#231f20">1,500</text>
<line x1="202.50" y1="407.00" x2="202.50" y2="409.60" stroke="#231f20" stroke-width="0.85"/>
<text x="202.80" y="417.30" font-size="6.70" text-anchor="middle" fill="#231f20">0</text>
<line x1="223.50" y1="407.00" x2="223.50" y2="409.60" stroke="#231f20" stroke-width="0.85"/>
<text x="223.70" y="417.30" font-size="6.70" text-anchor="middle" fill="#231f20">5</text>
<line x1="244.50" y1="407.00" x2="244.50" y2="409.60" stroke="#231f20" stroke-width="0.85"/>
<text x="244.60" y="417.30" font-size="6.70" text-anchor="middle" fill="#231f20">10</text>
<line x1="265.50" y1="407.00" x2="265.50" y2="409.60" stroke="#231f20" stroke-width="0.85"/>
<text x="265.50" y="417.30" font-size="6.70" text-anchor="middle" fill="#231f20">15</text>
<line x1="286.50" y1="407.00" x2="286.50" y2="409.60" stroke="#231f20" stroke-width="0.85"/>
<text x="286.40" y="417.30" font-size="6.70" text-anchor="middle" fill="#231f20">20</text>
<line x1="307.50" y1="407.00" x2="307.50" y2="409.60" stroke="#231f20" stroke-width="0.85"/>
<text x="307.30" y="417.30" font-size="6.70" text-anchor="middle" fill="#231f20">25</text>
<text x="255.00" y="426.30" font-size="6.70" text-anchor="middle" fill="#231f20">Time (days after randomization)</text>
<text x="177.30" y="372.00" font-size="6.70" text-anchor="middle" fill="#231f20" transform="rotate(-90 177.30 372.00)">Tumour volume (mm<tspan font-size="4.69" dy="-2.21">3</tspan><tspan dy="2.21">)</tspan></text>
<line x1="202.50" y1="403.75" x2="202.50" y2="404.68" stroke="#f01818" stroke-width="0.70"/>
<line x1="201.40" y1="403.50" x2="204.20" y2="403.50" stroke="#f01818" stroke-width="0.70"/>
<line x1="201.40" y1="404.50" x2="204.20" y2="404.50" stroke="#f01818" stroke-width="0.70"/>
<line x1="211.50" y1="402.82" x2="211.50" y2="403.75" stroke="#f01818" stroke-width="0.70"/>
<line x1="209.76" y1="402.50" x2="212.56" y2="402.50" stroke="#f01818" stroke-width="0.70"/>
<line x1="209.76" y1="403.50" x2="212.56" y2="403.50" stroke="#f01818" stroke-width="0.70"/>
<line x1="219.50" y1="401.42" x2="219.50" y2="402.82" stroke="#f01818" stroke-width="0.70"/>
<line x1="218.12" y1="401.50" x2="220.92" y2="401.50" stroke="#f01818" stroke-width="0.70"/>
<line x1="218.12" y1="402.50" x2="220.92" y2="402.50" stroke="#f01818" stroke-width="0.70"/>
<line x1="227.50" y1="399.57" x2="227.50" y2="401.42" stroke="#f01818" stroke-width="0.70"/>
<line x1="226.48" y1="399.50" x2="229.28" y2="399.50" stroke="#f01818" stroke-width="0.70"/>
<line x1="226.48" y1="401.50" x2="229.28" y2="401.50" stroke="#f01818" stroke-width="0.70"/>
<line x1="232.50" y1="399.10" x2="232.50" y2="400.96" stroke="#f01818" stroke-width="0.70"/>
<line x1="230.66" y1="399.50" x2="233.46" y2="399.50" stroke="#f01818" stroke-width="0.70"/>
<line x1="230.66" y1="400.50" x2="233.46" y2="400.50" stroke="#f01818" stroke-width="0.70"/>
<line x1="240.50" y1="398.40" x2="240.50" y2="400.73" stroke="#f01818" stroke-width="0.70"/>
<line x1="239.02" y1="398.50" x2="241.82" y2="398.50" stroke="#f01818" stroke-width="0.70"/>
<line x1="239.02" y1="400.50" x2="241.82" y2="400.50" stroke="#f01818" stroke-width="0.70"/>
<line x1="248.50" y1="397.94" x2="248.50" y2="400.73" stroke="#f01818" stroke-width="0.70"/>
<line x1="247.38" y1="397.50" x2="250.18" y2="397.50" stroke="#f01818" stroke-width="0.70"/>
<line x1="247.38" y1="400.50" x2="250.18" y2="400.50" stroke="#f01818" stroke-width="0.70"/>
<line x1="257.50" y1="396.78" x2="257.50" y2="401.42" stroke="#f01818" stroke-width="0.70"/>
<line x1="255.74" y1="396.50" x2="258.54" y2="396.50" stroke="#f01818" stroke-width="0.70"/>
<line x1="255.74" y1="401.50" x2="258.54" y2="401.50" stroke="#f01818" stroke-width="0.70"/>
<line x1="261.50" y1="396.55" x2="261.50" y2="401.19" stroke="#f01818" stroke-width="0.70"/>
<line x1="259.92" y1="396.50" x2="262.72" y2="396.50" stroke="#f01818" stroke-width="0.70"/>
<line x1="259.92" y1="401.50" x2="262.72" y2="401.50" stroke="#f01818" stroke-width="0.70"/>
<line x1="265.50" y1="396.31" x2="265.50" y2="400.96" stroke="#f01818" stroke-width="0.70"/>
<line x1="264.10" y1="396.50" x2="266.90" y2="396.50" stroke="#f01818" stroke-width="0.70"/>
<line x1="264.10" y1="400.50" x2="266.90" y2="400.50" stroke="#f01818" stroke-width="0.70"/>
<line x1="269.50" y1="395.85" x2="269.50" y2="400.49" stroke="#f01818" stroke-width="0.70"/>
<line x1="268.28" y1="395.50" x2="271.08" y2="395.50" stroke="#f01818" stroke-width="0.70"/>
<line x1="268.28" y1="400.50" x2="271.08" y2="400.50" stroke="#f01818" stroke-width="0.70"/>
<line x1="273.50" y1="395.38" x2="273.50" y2="400.03" stroke="#f01818" stroke-width="0.70"/>
<line x1="272.46" y1="395.50" x2="275.26" y2="395.50" stroke="#f01818" stroke-width="0.70"/>
<line x1="272.46" y1="400.50" x2="275.26" y2="400.50" stroke="#f01818" stroke-width="0.70"/>
<line x1="282.50" y1="394.69" x2="282.50" y2="399.33" stroke="#f01818" stroke-width="0.70"/>
<line x1="280.82" y1="394.50" x2="283.62" y2="394.50" stroke="#f01818" stroke-width="0.70"/>
<line x1="280.82" y1="399.50" x2="283.62" y2="399.50" stroke="#f01818" stroke-width="0.70"/>
<line x1="290.50" y1="393.29" x2="290.50" y2="398.87" stroke="#f01818" stroke-width="0.70"/>
<line x1="289.18" y1="393.50" x2="291.98" y2="393.50" stroke="#f01818" stroke-width="0.70"/>
<line x1="289.18" y1="398.50" x2="291.98" y2="398.50" stroke="#f01818" stroke-width="0.70"/>
<line x1="294.50" y1="393.06" x2="294.50" y2="398.64" stroke="#f01818" stroke-width="0.70"/>
<line x1="293.36" y1="393.50" x2="296.16" y2="393.50" stroke="#f01818" stroke-width="0.70"/>
<line x1="293.36" y1="398.50" x2="296.16" y2="398.50" stroke="#f01818" stroke-width="0.70"/>
<polyline points="202.80,404.21 211.16,403.28 219.52,402.12 227.88,400.49 232.06,400.03 240.42,399.57 248.78,399.33 257.14,399.10 261.32,398.87 265.50,398.64 269.68,398.17 273.86,397.71 282.22,397.01 290.58,396.08 294.76,395.85" fill="none" stroke="#f01818" stroke-width="0.90"/>
<circle cx="202.80" cy="404.21" r="1.50" fill="#f01818"/>
<circle cx="211.16" cy="403.28" r="1.50" fill="#f01818"/>
<circle cx="219.52" cy="402.12" r="1.50" fill="#f01818"/>
<circle cx="227.88" cy="400.49" r="1.50" fill="#f01818"/>
<circle cx="232.06" cy="400.03" r="1.50" fill="#f01818"/>
<circle cx="240.42" cy="399.57" r="1.50" fill="#f01818"/>
<circle cx="248.78" cy="399.33" r="1.50" fill="#f01818"/>
<circle cx="257.14" cy="399.10" r="1.50" fill="#f01818"/>
<circle cx="261.32" cy="398.87" r="1.50" fill="#f01818"/>
<circle cx="265.50" cy="398.64" r="1.50" fill="#f01818"/>
<circle cx="269.68" cy="398.17" r="1.50" fill="#f01818"/>
<circle cx="273.86" cy="397.71" r="1.50" fill="#f01818"/>
<circle cx="282.22" cy="397.01" r="1.50" fill="#f01818"/>
<circle cx="290.58" cy="396.08" r="1.50" fill="#f01818"/>
<circle cx="294.76" cy="395.85" r="1.50" fill="#f01818"/>
<line x1="202.50" y1="403.75" x2="202.50" y2="404.68" stroke="#b050e8" stroke-width="0.70"/>
<line x1="201.40" y1="403.50" x2="204.20" y2="403.50" stroke="#b050e8" stroke-width="0.70"/>
<line x1="201.40" y1="404.50" x2="204.20" y2="404.50" stroke="#b050e8" stroke-width="0.70"/>
<line x1="211.50" y1="402.82" x2="211.50" y2="403.75" stroke="#b050e8" stroke-width="0.70"/>
<line x1="209.76" y1="402.50" x2="212.56" y2="402.50" stroke="#b050e8" stroke-width="0.70"/>
<line x1="209.76" y1="403.50" x2="212.56" y2="403.50" stroke="#b050e8" stroke-width="0.70"/>
<line x1="219.50" y1="401.42" x2="219.50" y2="402.82" stroke="#b050e8" stroke-width="0.70"/>
<line x1="218.12" y1="401.50" x2="220.92" y2="401.50" stroke="#b050e8" stroke-width="0.70"/>
<line x1="218.12" y1="402.50" x2="220.92" y2="402.50" stroke="#b050e8" stroke-width="0.70"/>
<line x1="227.50" y1="399.10" x2="227.50" y2="400.96" stroke="#b050e8" stroke-width="0.70"/>
<line x1="226.48" y1="399.50" x2="229.28" y2="399.50" stroke="#b050e8" stroke-width="0.70"/>
<line x1="226.48" y1="400.50" x2="229.28" y2="400.50" stroke="#b050e8" stroke-width="0.70"/>
<line x1="232.50" y1="398.17" x2="232.50" y2="400.03" stroke="#b050e8" stroke-width="0.70"/>
<line x1="230.66" y1="398.50" x2="233.46" y2="398.50" stroke="#b050e8" stroke-width="0.70"/>
<line x1="230.66" y1="400.50" x2="233.46" y2="400.50" stroke="#b050e8" stroke-width="0.70"/>
<line x1="240.50" y1="396.31" x2="240.50" y2="399.10" stroke="#b050e8" stroke-width="0.70"/>
<line x1="239.02" y1="396.50" x2="241.82" y2="396.50" stroke="#b050e8" stroke-width="0.70"/>
<line x1="239.02" y1="399.50" x2="241.82" y2="399.50" stroke="#b050e8" stroke-width="0.70"/>
<line x1="248.50" y1="394.45" x2="248.50" y2="398.17" stroke="#b050e8" stroke-width="0.70"/>
<line x1="247.38" y1="394.50" x2="250.18" y2="394.50" stroke="#b050e8" stroke-width="0.70"/>
<line x1="247.38" y1="398.50" x2="250.18" y2="398.50" stroke="#b050e8" stroke-width="0.70"/>
<line x1="257.50" y1="390.50" x2="257.50" y2="396.08" stroke="#b050e8" stroke-width="0.70"/>
<line x1="255.74" y1="390.50" x2="258.54" y2="390.50" stroke="#b050e8" stroke-width="0.70"/>
<line x1="255.74" y1="396.50" x2="258.54" y2="396.50" stroke="#b050e8" stroke-width="0.70"/>
<line x1="261.50" y1="389.34" x2="261.50" y2="395.85" stroke="#b050e8" stroke-width="0.70"/>
<line x1="259.92" y1="389.50" x2="262.72" y2="389.50" stroke="#b050e8" stroke-width="0.70"/>
<line x1="259.92" y1="395.50" x2="262.72" y2="395.50" stroke="#b050e8" stroke-width="0.70"/>
<line x1="265.50" y1="387.48" x2="265.50" y2="394.92" stroke="#b050e8" stroke-width="0.70"/>
<line x1="264.10" y1="387.50" x2="266.90" y2="387.50" stroke="#b050e8" stroke-width="0.70"/>
<line x1="264.10" y1="394.50" x2="266.90" y2="394.50" stroke="#b050e8" stroke-width="0.70"/>
<line x1="269.50" y1="384.70" x2="269.50" y2="393.99" stroke="#b050e8" stroke-width="0.70"/>
<line x1="268.28" y1="384.50" x2="271.08" y2="384.50" stroke="#b050e8" stroke-width="0.70"/>
<line x1="268.28" y1="393.50" x2="271.08" y2="393.50" stroke="#b050e8" stroke-width="0.70"/>
<line x1="273.50" y1="380.98" x2="273.50" y2="392.13" stroke="#b050e8" stroke-width="0.70"/>
<line x1="272.46" y1="380.50" x2="275.26" y2="380.50" stroke="#b050e8" stroke-width="0.70"/>
<line x1="272.46" y1="392.50" x2="275.26" y2="392.50" stroke="#b050e8" stroke-width="0.70"/>
<line x1="282.50" y1="377.26" x2="282.50" y2="389.34" stroke="#b050e8" stroke-width="0.70"/>
<line x1="280.82" y1="377.50" x2="283.62" y2="377.50" stroke="#b050e8" stroke-width="0.70"/>
<line x1="280.82" y1="389.50" x2="283.62" y2="389.50" stroke="#b050e8" stroke-width="0.70"/>
<line x1="290.50" y1="371.69" x2="290.50" y2="384.70" stroke="#b050e8" stroke-width="0.70"/>
<line x1="289.18" y1="371.50" x2="291.98" y2="371.50" stroke="#b050e8" stroke-width="0.70"/>
<line x1="289.18" y1="384.50" x2="291.98" y2="384.50" stroke="#b050e8" stroke-width="0.70"/>
<line x1="294.50" y1="369.59" x2="294.50" y2="382.61" stroke="#b050e8" stroke-width="0.70"/>
<line x1="293.36" y1="369.50" x2="296.16" y2="369.50" stroke="#b050e8" stroke-width="0.70"/>
<line x1="293.36" y1="382.50" x2="296.16" y2="382.50" stroke="#b050e8" stroke-width="0.70"/>
<polyline points="202.80,404.21 211.16,403.28 219.52,402.12 227.88,400.03 232.06,399.10 240.42,397.71 248.78,396.31 257.14,393.29 261.32,392.60 265.50,391.20 269.68,389.34 273.86,386.55 282.22,383.30 290.58,378.19 294.76,376.10" fill="none" stroke="#b050e8" stroke-width="0.90"/>
<rect x="201.50" y="402.91" width="2.60" height="2.60" fill="#b050e8"/>
<rect x="209.86" y="401.98" width="2.60" height="2.60" fill="#b050e8"/>
<rect x="218.22" y="400.82" width="2.60" height="2.60" fill="#b050e8"/>
<rect x="226.58" y="398.73" width="2.60" height="2.60" fill="#b050e8"/>
<rect x="230.76" y="397.80" width="2.60" height="2.60" fill="#b050e8"/>
<rect x="239.12" y="396.41" width="2.60" height="2.60" fill="#b050e8"/>
<rect x="247.48" y="395.01" width="2.60" height="2.60" fill="#b050e8"/>
<rect x="255.84" y="391.99" width="2.60" height="2.60" fill="#b050e8"/>
<rect x="260.02" y="391.30" width="2.60" height="2.60" fill="#b050e8"/>
<rect x="264.20" y="389.90" width="2.60" height="2.60" fill="#b050e8"/>
<rect x="268.38" y="388.04" width="2.60" height="2.60" fill="#b050e8"/>
<rect x="272.56" y="385.25" width="2.60" height="2.60" fill="#b050e8"/>
<rect x="280.92" y="382.00" width="2.60" height="2.60" fill="#b050e8"/>
<rect x="289.28" y="376.89" width="2.60" height="2.60" fill="#b050e8"/>
<rect x="293.46" y="374.80" width="2.60" height="2.60" fill="#b050e8"/>
<line x1="202.50" y1="403.51" x2="202.50" y2="404.44" stroke="#ff8c1a" stroke-width="0.70"/>
<line x1="201.40" y1="403.50" x2="204.20" y2="403.50" stroke="#ff8c1a" stroke-width="0.70"/>
<line x1="201.40" y1="404.50" x2="204.20" y2="404.50" stroke="#ff8c1a" stroke-width="0.70"/>
<line x1="211.50" y1="402.59" x2="211.50" y2="403.51" stroke="#ff8c1a" stroke-width="0.70"/>
<line x1="209.76" y1="402.50" x2="212.56" y2="402.50" stroke="#ff8c1a" stroke-width="0.70"/>
<line x1="209.76" y1="403.50" x2="212.56" y2="403.50" stroke="#ff8c1a" stroke-width="0.70"/>
<line x1="219.50" y1="400.96" x2="219.50" y2="402.82" stroke="#ff8c1a" stroke-width="0.70"/>
<line x1="218.12" y1="400.50" x2="220.92" y2="400.50" stroke="#ff8c1a" stroke-width="0.70"/>
<line x1="218.12" y1="402.50" x2="220.92" y2="402.50" stroke="#ff8c1a" stroke-width="0.70"/>
<line x1="227.50" y1="398.40" x2="227.50" y2="401.19" stroke="#ff8c1a" stroke-width="0.70"/>
<line x1="226.48" y1="398.50" x2="229.28" y2="398.50" stroke="#ff8c1a" stroke-width="0.70"/>
<line x1="226.48" y1="401.50" x2="229.28" y2="401.50" stroke="#ff8c1a" stroke-width="0.70"/>
<line x1="232.50" y1="397.24" x2="232.50" y2="400.03" stroke="#ff8c1a" stroke-width="0.70"/>
<line x1="230.66" y1="397.50" x2="233.46" y2="397.50" stroke="#ff8c1a" stroke-width="0.70"/>
<line x1="230.66" y1="400.50" x2="233.46" y2="400.50" stroke="#ff8c1a" stroke-width="0.70"/>
<line x1="240.50" y1="394.92" x2="240.50" y2="398.64" stroke="#ff8c1a" stroke-width="0.70"/>
<line x1="239.02" y1="394.50" x2="241.82" y2="394.50" stroke="#ff8c1a" stroke-width="0.70"/>
<line x1="239.02" y1="398.50" x2="241.82" y2="398.50" stroke="#ff8c1a" stroke-width="0.70"/>
<line x1="248.50" y1="392.13" x2="248.50" y2="396.78" stroke="#ff8c1a" stroke-width="0.70"/>
<line x1="247.38" y1="392.50" x2="250.18" y2="392.50" stroke="#ff8c1a" stroke-width="0.70"/>
<line x1="247.38" y1="396.50" x2="250.18" y2="396.50" stroke="#ff8c1a" stroke-width="0.70"/>
<line x1="257.50" y1="385.63" x2="257.50" y2="393.06" stroke="#ff8c1a" stroke-width="0.70"/>
<line x1="255.74" y1="385.50" x2="258.54" y2="385.50" stroke="#ff8c1a" stroke-width="0.70"/>
<line x1="255.74" y1="393.50" x2="258.54" y2="393.50" stroke="#ff8c1a" stroke-width="0.70"/>
<line x1="261.50" y1="382.37" x2="261.50" y2="390.74" stroke="#ff8c1a" stroke-width="0.70"/>
<line x1="259.92" y1="382.50" x2="262.72" y2="382.50" stroke="#ff8c1a" stroke-width="0.70"/>
<line x1="259.92" y1="390.50" x2="262.72" y2="390.50" stroke="#ff8c1a" stroke-width="0.70"/>
<line x1="265.50" y1="379.12" x2="265.50" y2="388.41" stroke="#ff8c1a" stroke-width="0.70"/>
<line x1="264.10" y1="379.50" x2="266.90" y2="379.50" stroke="#ff8c1a" stroke-width="0.70"/>
<line x1="264.10" y1="388.50" x2="266.90" y2="388.50" stroke="#ff8c1a" stroke-width="0.70"/>
<line x1="269.50" y1="367.97" x2="269.50" y2="381.91" stroke="#ff8c1a" stroke-width="0.70"/>
<line x1="268.28" y1="367.50" x2="271.08" y2="367.50" stroke="#ff8c1a" stroke-width="0.70"/>
<line x1="268.28" y1="381.50" x2="271.08" y2="381.50" stroke="#ff8c1a" stroke-width="0.70"/>
<line x1="273.50" y1="363.55" x2="273.50" y2="378.89" stroke="#ff8c1a" stroke-width="0.70"/>
<line x1="272.46" y1="363.50" x2="275.26" y2="363.50" stroke="#ff8c1a" stroke-width="0.70"/>
<line x1="272.46" y1="378.50" x2="275.26" y2="378.50" stroke="#ff8c1a" stroke-width="0.70"/>
<line x1="282.50" y1="354.49" x2="282.50" y2="377.73" stroke="#ff8c1a" stroke-width="0.70"/>
<line x1="280.82" y1="354.50" x2="283.62" y2="354.50" stroke="#ff8c1a" stroke-width="0.70"/>
<line x1="280.82" y1="377.50" x2="283.62" y2="377.50" stroke="#ff8c1a" stroke-width="0.70"/>
<line x1="290.50" y1="345.20" x2="290.50" y2="374.01" stroke="#ff8c1a" stroke-width="0.70"/>
<line x1="289.18" y1="345.50" x2="291.98" y2="345.50" stroke="#ff8c1a" stroke-width="0.70"/>
<line x1="289.18" y1="374.50" x2="291.98" y2="374.50" stroke="#ff8c1a" stroke-width="0.70"/>
<line x1="294.50" y1="340.55" x2="294.50" y2="365.64" stroke="#ff8c1a" stroke-width="0.70"/>
<line x1="293.36" y1="340.50" x2="296.16" y2="340.50" stroke="#ff8c1a" stroke-width="0.70"/>
<line x1="293.36" y1="365.50" x2="296.16" y2="365.50" stroke="#ff8c1a" stroke-width="0.70"/>
<polyline points="202.80,403.98 211.16,403.05 219.52,401.89 227.88,399.80 232.06,398.64 240.42,396.78 248.78,394.45 257.14,389.34 261.32,386.55 265.50,383.77 269.68,374.94 273.86,371.22 282.22,366.11 290.58,359.60 294.76,353.10" fill="none" stroke="#ff8c1a" stroke-width="0.90"/>
<polygon points="202.80,402.08 201.08,405.27 204.53,405.27" fill="#ff8c1a"/>
<polygon points="211.16,401.15 209.44,404.34 212.89,404.34" fill="#ff8c1a"/>
<polygon points="219.52,399.99 217.80,403.18 221.25,403.18" fill="#ff8c1a"/>
<polygon points="227.88,397.90 226.16,401.09 229.60,401.09" fill="#ff8c1a"/>
<polygon points="232.06,396.74 230.34,399.93 233.78,399.93" fill="#ff8c1a"/>
<polygon points="240.42,394.88 238.70,398.07 242.15,398.07" fill="#ff8c1a"/>
<polygon points="248.78,392.56 247.06,395.75 250.50,395.75" fill="#ff8c1a"/>
<polygon points="257.14,387.45 255.41,390.64 258.87,390.64" fill="#ff8c1a"/>
<polygon points="261.32,384.66 259.59,387.85 263.05,387.85" fill="#ff8c1a"/>
<polygon points="265.50,381.87 263.77,385.06 267.23,385.06" fill="#ff8c1a"/>
<polygon points="269.68,373.04 267.95,376.23 271.41,376.23" fill="#ff8c1a"/>
<polygon points="273.86,369.32 272.13,372.51 275.59,372.51" fill="#ff8c1a"/>
<polygon points="282.22,364.21 280.50,367.40 283.95,367.40" fill="#ff8c1a"/>
<polygon points="290.58,357.71 288.86,360.90 292.31,360.90" fill="#ff8c1a"/>
<polygon points="294.76,351.20 293.03,354.39 296.49,354.39" fill="#ff8c1a"/>
<line x1="202.50" y1="403.51" x2="202.50" y2="404.44" stroke="#111111" stroke-width="0.70"/>
<line x1="201.40" y1="403.50" x2="204.20" y2="403.50" stroke="#111111" stroke-width="0.70"/>
<line x1="201.40" y1="404.50" x2="204.20" y2="404.50" stroke="#111111" stroke-width="0.70"/>
<line x1="211.50" y1="402.59" x2="211.50" y2="403.51" stroke="#111111" stroke-width="0.70"/>
<line x1="209.76" y1="402.50" x2="212.56" y2="402.50" stroke="#111111" stroke-width="0.70"/>
<line x1="209.76" y1="403.50" x2="212.56" y2="403.50" stroke="#111111" stroke-width="0.70"/>
<line x1="219.50" y1="400.73" x2="219.50" y2="402.59" stroke="#111111" stroke-width="0.70"/>
<line x1="218.12" y1="400.50" x2="220.92" y2="400.50" stroke="#111111" stroke-width="0.70"/>
<line x1="218.12" y1="402.50" x2="220.92" y2="402.50" stroke="#111111" stroke-width="0.70"/>
<line x1="227.50" y1="398.17" x2="227.50" y2="400.96" stroke="#111111" stroke-width="0.70"/>
<line x1="226.48" y1="398.50" x2="229.28" y2="398.50" stroke="#111111" stroke-width="0.70"/>
<line x1="226.48" y1="400.50" x2="229.28" y2="400.50" stroke="#111111" stroke-width="0.70"/>
<line x1="232.50" y1="397.24" x2="232.50" y2="400.03" stroke="#111111" stroke-width="0.70"/>
<line x1="230.66" y1="397.50" x2="233.46" y2="397.50" stroke="#111111" stroke-width="0.70"/>
<line x1="230.66" y1="400.50" x2="233.46" y2="400.50" stroke="#111111" stroke-width="0.70"/>
<line x1="240.50" y1="394.92" x2="240.50" y2="398.64" stroke="#111111" stroke-width="0.70"/>
<line x1="239.02" y1="394.50" x2="241.82" y2="394.50" stroke="#111111" stroke-width="0.70"/>
<line x1="239.02" y1="398.50" x2="241.82" y2="398.50" stroke="#111111" stroke-width="0.70"/>
<line x1="248.50" y1="391.67" x2="248.50" y2="396.31" stroke="#111111" stroke-width="0.70"/>
<line x1="247.38" y1="391.50" x2="250.18" y2="391.50" stroke="#111111" stroke-width="0.70"/>
<line x1="247.38" y1="396.50" x2="250.18" y2="396.50" stroke="#111111" stroke-width="0.70"/>
<line x1="257.50" y1="386.55" x2="257.50" y2="392.13" stroke="#111111" stroke-width="0.70"/>
<line x1="255.74" y1="386.50" x2="258.54" y2="386.50" stroke="#111111" stroke-width="0.70"/>
<line x1="255.74" y1="392.50" x2="258.54" y2="392.50" stroke="#111111" stroke-width="0.70"/>
<line x1="261.50" y1="383.30" x2="261.50" y2="389.81" stroke="#111111" stroke-width="0.70"/>
<line x1="259.92" y1="383.50" x2="262.72" y2="383.50" stroke="#111111" stroke-width="0.70"/>
<line x1="259.92" y1="389.50" x2="262.72" y2="389.50" stroke="#111111" stroke-width="0.70"/>
<line x1="265.50" y1="380.05" x2="265.50" y2="387.48" stroke="#111111" stroke-width="0.70"/>
<line x1="264.10" y1="380.50" x2="266.90" y2="380.50" stroke="#111111" stroke-width="0.70"/>
<line x1="264.10" y1="387.50" x2="266.90" y2="387.50" stroke="#111111" stroke-width="0.70"/>
<line x1="269.50" y1="373.08" x2="269.50" y2="380.51" stroke="#111111" stroke-width="0.70"/>
<line x1="268.28" y1="373.50" x2="271.08" y2="373.50" stroke="#111111" stroke-width="0.70"/>
<line x1="268.28" y1="380.50" x2="271.08" y2="380.50" stroke="#111111" stroke-width="0.70"/>
<line x1="273.50" y1="370.76" x2="273.50" y2="379.12" stroke="#111111" stroke-width="0.70"/>
<line x1="272.46" y1="370.50" x2="275.26" y2="370.50" stroke="#111111" stroke-width="0.70"/>
<line x1="272.46" y1="379.50" x2="275.26" y2="379.50" stroke="#111111" stroke-width="0.70"/>
<line x1="282.50" y1="367.27" x2="282.50" y2="375.63" stroke="#111111" stroke-width="0.70"/>
<line x1="280.82" y1="367.50" x2="283.62" y2="367.50" stroke="#111111" stroke-width="0.70"/>
<line x1="280.82" y1="375.50" x2="283.62" y2="375.50" stroke="#111111" stroke-width="0.70"/>
<line x1="290.50" y1="362.39" x2="290.50" y2="371.69" stroke="#111111" stroke-width="0.70"/>
<line x1="289.18" y1="362.50" x2="291.98" y2="362.50" stroke="#111111" stroke-width="0.70"/>
<line x1="289.18" y1="371.50" x2="291.98" y2="371.50" stroke="#111111" stroke-width="0.70"/>
<line x1="294.50" y1="357.75" x2="294.50" y2="367.04" stroke="#111111" stroke-width="0.70"/>
<line x1="293.36" y1="357.50" x2="296.16" y2="357.50" stroke="#111111" stroke-width="0.70"/>
<line x1="293.36" y1="367.50" x2="296.16" y2="367.50" stroke="#111111" stroke-width="0.70"/>
<polyline points="202.80,403.98 211.16,403.05 219.52,401.66 227.88,399.57 232.06,398.64 240.42,396.78 248.78,393.99 257.14,389.34 261.32,386.55 265.50,383.77 269.68,376.80 273.86,374.94 282.22,371.45 290.58,367.04 294.76,362.39" fill="none" stroke="#111111" stroke-width="0.90"/>
<circle cx="202.80" cy="403.98" r="1.50" fill="#111111"/>
<circle cx="211.16" cy="403.05" r="1.50" fill="#111111"/>
<circle cx="219.52" cy="401.66" r="1.50" fill="#111111"/>
<circle cx="227.88" cy="399.57" r="1.50" fill="#111111"/>
<circle cx="232.06" cy="398.64" r="1.50" fill="#111111"/>
<circle cx="240.42" cy="396.78" r="1.50" fill="#111111"/>
<circle cx="248.78" cy="393.99" r="1.50" fill="#111111"/>
<circle cx="257.14" cy="389.34" r="1.50" fill="#111111"/>
<circle cx="261.32" cy="386.55" r="1.50" fill="#111111"/>
<circle cx="265.50" cy="383.77" r="1.50" fill="#111111"/>
<circle cx="269.68" cy="376.80" r="1.50" fill="#111111"/>
<circle cx="273.86" cy="374.94" r="1.50" fill="#111111"/>
<circle cx="282.22" cy="371.45" r="1.50" fill="#111111"/>
<circle cx="290.58" cy="367.04" r="1.50" fill="#111111"/>
<circle cx="294.76" cy="362.39" r="1.50" fill="#111111"/>
<line x1="205.50" y1="337.50" x2="213.00" y2="337.50" stroke="#111111" stroke-width="0.90"/>
<circle cx="209.25" cy="337.90" r="1.50" fill="#111111"/>
<text x="215.70" y="339.90" font-size="5.60" text-anchor="start" fill="#231f20">IgG control</text>
<line x1="205.50" y1="345.50" x2="213.00" y2="345.50" stroke="#b050e8" stroke-width="0.90"/>
<rect x="207.75" y="344.20" width="3.00" height="3.00" fill="#b050e8"/>
<text x="215.70" y="347.70" font-size="5.60" text-anchor="start" fill="#231f20">Anti-PD-1/anti-CTLA4</text>
<text x="215.70" y="352.90" font-size="5.60" text-anchor="start" fill="#231f20">+ anti-CD4</text>
<line x1="205.50" y1="360.50" x2="213.00" y2="360.50" stroke="#ff8c1a" stroke-width="0.90"/>
<polygon points="209.25,358.30 207.53,361.49 210.97,361.49" fill="#ff8c1a"/>
<text x="215.70" y="362.20" font-size="5.60" text-anchor="start" fill="#231f20">Anti-PD-1/anti-CTLA4</text>
<text x="215.70" y="367.40" font-size="5.60" text-anchor="start" fill="#231f20">+ anti-CD8</text>
<line x1="205.50" y1="374.50" x2="213.00" y2="374.50" stroke="#f01818" stroke-width="0.90"/>
<circle cx="209.25" cy="374.10" r="1.50" fill="#f01818"/>
<text x="215.70" y="376.10" font-size="5.60" text-anchor="start" fill="#231f20">Anti-PD-1/</text>
<text x="215.70" y="381.30" font-size="5.60" text-anchor="start" fill="#231f20">anti-CTLA4</text>
<polyline points="302.10,349.20 304.30,349.20 304.30,360.50 302.10,360.50" fill="none" stroke="#333333" stroke-width="0.85"/>
<text x="305.10" y="357.35" font-size="6.90" text-anchor="start" fill="#333333">NS</text>
<polyline points="302.10,361.00 304.30,361.00 304.30,375.40 302.10,375.40" fill="none" stroke="#333333" stroke-width="0.85"/>
<text transform="translate(306.30 368.20) rotate(90) scale(1 0.72)" font-size="8.4" text-anchor="middle" fill="#333333" style="stroke:#333333;stroke-width:0.35px">***</text>
<polyline points="302.10,375.40 304.30,375.40 304.30,395.00 302.10,395.00" fill="none" stroke="#333333" stroke-width="0.85"/>
<text transform="translate(306.30 385.20) rotate(90) scale(1 0.72)" font-size="8.4" text-anchor="middle" fill="#333333" style="stroke:#333333;stroke-width:0.35px">***</text>
<polyline points="312.60,361.00 314.80,361.00 314.80,395.00 312.60,395.00" fill="none" stroke="#333333" stroke-width="0.85"/>
<text transform="translate(316.80 378.00) rotate(90) scale(1 0.72)" font-size="8.4" text-anchor="middle" fill="#333333" style="stroke:#333333;stroke-width:0.35px">***</text>
<polyline points="319.70,349.20 321.90,349.20 321.90,395.00 319.70,395.00" fill="none" stroke="#333333" stroke-width="0.85"/>
<text transform="translate(323.90 372.10) rotate(90) scale(1 0.72)" font-size="8.4" text-anchor="middle" fill="#333333" style="stroke:#333333;stroke-width:0.35px">***</text>
<line x1="372.50" y1="336.70" x2="372.50" y2="409.85" stroke="#231f20" stroke-width="0.85"/>
<line x1="372.30" y1="409.50" x2="483.60" y2="409.50" stroke="#231f20" stroke-width="0.85"/>
<line x1="369.60" y1="409.50" x2="372.60" y2="409.50" stroke="#231f20" stroke-width="0.85"/>
<text x="367.70" y="411.98" font-size="6.90" text-anchor="end" fill="#231f20">0</text>
<line x1="369.60" y1="391.50" x2="372.60" y2="391.50" stroke="#231f20" stroke-width="0.85"/>
<text x="367.70" y="393.86" font-size="6.90" text-anchor="end" fill="#231f20">500</text>
<line x1="369.60" y1="373.50" x2="372.60" y2="373.50" stroke="#231f20" stroke-width="0.85"/>
<text x="367.70" y="375.73" font-size="6.90" text-anchor="end" fill="#231f20">1,000</text>
<line x1="369.60" y1="355.50" x2="372.60" y2="355.50" stroke="#231f20" stroke-width="0.85"/>
<text x="367.70" y="357.61" font-size="6.90" text-anchor="end" fill="#231f20">1,500</text>
<line x1="369.60" y1="337.50" x2="372.60" y2="337.50" stroke="#231f20" stroke-width="0.85"/>
<text x="367.70" y="339.48" font-size="6.90" text-anchor="end" fill="#231f20">2,000</text>
<line x1="372.50" y1="409.50" x2="372.50" y2="412.10" stroke="#231f20" stroke-width="0.85"/>
<text x="372.60" y="419.80" font-size="6.70" text-anchor="middle" fill="#231f20">0</text>
<line x1="409.50" y1="409.50" x2="409.50" y2="412.10" stroke="#231f20" stroke-width="0.85"/>
<text x="409.50" y="419.80" font-size="6.70" text-anchor="middle" fill="#231f20">5</text>
<line x1="446.50" y1="409.50" x2="446.50" y2="412.10" stroke="#231f20" stroke-width="0.85"/>
<text x="446.40" y="419.80" font-size="6.70" text-anchor="middle" fill="#231f20">10</text>
<line x1="483.50" y1="409.50" x2="483.50" y2="412.10" stroke="#231f20" stroke-width="0.85"/>
<text x="483.30" y="419.80" font-size="6.70" text-anchor="middle" fill="#231f20">15</text>
<text x="428.00" y="427.40" font-size="6.70" text-anchor="middle" fill="#231f20">Time (days after randomization)</text>
<text x="346.90" y="372.00" font-size="6.70" text-anchor="middle" fill="#231f20" transform="rotate(-90 346.90 372.00)">Tumour volume (mm<tspan font-size="4.69" dy="-2.21">3</tspan><tspan dy="2.21">)</tspan></text>
<line x1="372.50" y1="407.14" x2="372.50" y2="407.87" stroke="#ff8c1a" stroke-width="0.70"/>
<line x1="371.20" y1="407.50" x2="374.00" y2="407.50" stroke="#ff8c1a" stroke-width="0.70"/>
<line x1="371.20" y1="407.50" x2="374.00" y2="407.50" stroke="#ff8c1a" stroke-width="0.70"/>
<line x1="387.50" y1="405.51" x2="387.50" y2="406.60" stroke="#ff8c1a" stroke-width="0.70"/>
<line x1="385.96" y1="405.50" x2="388.76" y2="405.50" stroke="#ff8c1a" stroke-width="0.70"/>
<line x1="385.96" y1="406.50" x2="388.76" y2="406.50" stroke="#ff8c1a" stroke-width="0.70"/>
<line x1="402.50" y1="402.98" x2="402.50" y2="405.15" stroke="#ff8c1a" stroke-width="0.70"/>
<line x1="400.72" y1="402.50" x2="403.52" y2="402.50" stroke="#ff8c1a" stroke-width="0.70"/>
<line x1="400.72" y1="405.50" x2="403.52" y2="405.50" stroke="#ff8c1a" stroke-width="0.70"/>
<line x1="416.50" y1="399.71" x2="416.50" y2="401.89" stroke="#ff8c1a" stroke-width="0.70"/>
<line x1="415.48" y1="399.50" x2="418.28" y2="399.50" stroke="#ff8c1a" stroke-width="0.70"/>
<line x1="415.48" y1="401.50" x2="418.28" y2="401.50" stroke="#ff8c1a" stroke-width="0.70"/>
<line x1="424.50" y1="397.94" x2="424.50" y2="400.84" stroke="#ff8c1a" stroke-width="0.70"/>
<line x1="422.86" y1="397.50" x2="425.66" y2="397.50" stroke="#ff8c1a" stroke-width="0.70"/>
<line x1="422.86" y1="400.50" x2="425.66" y2="400.50" stroke="#ff8c1a" stroke-width="0.70"/>
<line x1="439.50" y1="388.22" x2="439.50" y2="398.37" stroke="#ff8c1a" stroke-width="0.70"/>
<line x1="437.62" y1="388.50" x2="440.42" y2="388.50" stroke="#ff8c1a" stroke-width="0.70"/>
<line x1="437.62" y1="398.50" x2="440.42" y2="398.50" stroke="#ff8c1a" stroke-width="0.70"/>
<line x1="453.50" y1="378.04" x2="453.50" y2="395.44" stroke="#ff8c1a" stroke-width="0.70"/>
<line x1="452.38" y1="378.50" x2="455.18" y2="378.50" stroke="#ff8c1a" stroke-width="0.70"/>
<line x1="452.38" y1="395.50" x2="455.18" y2="395.50" stroke="#ff8c1a" stroke-width="0.70"/>
<line x1="468.50" y1="361.72" x2="468.50" y2="388.19" stroke="#ff8c1a" stroke-width="0.70"/>
<line x1="467.14" y1="361.50" x2="469.94" y2="361.50" stroke="#ff8c1a" stroke-width="0.70"/>
<line x1="467.14" y1="388.50" x2="469.94" y2="388.50" stroke="#ff8c1a" stroke-width="0.70"/>
<line x1="475.50" y1="355.02" x2="475.50" y2="384.38" stroke="#ff8c1a" stroke-width="0.70"/>
<line x1="474.52" y1="355.50" x2="477.32" y2="355.50" stroke="#ff8c1a" stroke-width="0.70"/>
<line x1="474.52" y1="384.50" x2="477.32" y2="384.50" stroke="#ff8c1a" stroke-width="0.70"/>
<polyline points="372.60,407.51 387.36,406.06 402.12,404.06 416.88,400.80 424.26,399.39 439.02,393.30 453.78,386.74 468.54,374.95 475.92,369.70" fill="none" stroke="#ff8c1a" stroke-width="0.90"/>
<polygon points="372.60,405.61 370.88,408.80 374.33,408.80" fill="#ff8c1a"/>
<polygon points="387.36,404.16 385.63,407.35 389.09,407.35" fill="#ff8c1a"/>
<polygon points="402.12,402.17 400.39,405.36 403.85,405.36" fill="#ff8c1a"/>
<polygon points="416.88,398.90 415.15,402.09 418.61,402.09" fill="#ff8c1a"/>
<polygon points="424.26,397.49 422.53,400.68 425.99,400.68" fill="#ff8c1a"/>
<polygon points="439.02,391.40 437.30,394.59 440.75,394.59" fill="#ff8c1a"/>
<polygon points="453.78,384.84 452.06,388.03 455.51,388.03" fill="#ff8c1a"/>
<polygon points="468.54,373.06 466.81,376.25 470.27,376.25" fill="#ff8c1a"/>
<polygon points="475.92,367.80 474.19,370.99 477.65,370.99" fill="#ff8c1a"/>
<line x1="372.50" y1="407.32" x2="372.50" y2="408.05" stroke="#a020f0" stroke-width="0.70"/>
<line x1="371.20" y1="407.50" x2="374.00" y2="407.50" stroke="#a020f0" stroke-width="0.70"/>
<line x1="371.20" y1="408.50" x2="374.00" y2="408.50" stroke="#a020f0" stroke-width="0.70"/>
<line x1="387.50" y1="405.51" x2="387.50" y2="406.60" stroke="#a020f0" stroke-width="0.70"/>
<line x1="385.96" y1="405.50" x2="388.76" y2="405.50" stroke="#a020f0" stroke-width="0.70"/>
<line x1="385.96" y1="406.50" x2="388.76" y2="406.50" stroke="#a020f0" stroke-width="0.70"/>
<line x1="402.50" y1="402.98" x2="402.50" y2="405.15" stroke="#a020f0" stroke-width="0.70"/>
<line x1="400.72" y1="402.50" x2="403.52" y2="402.50" stroke="#a020f0" stroke-width="0.70"/>
<line x1="400.72" y1="405.50" x2="403.52" y2="405.50" stroke="#a020f0" stroke-width="0.70"/>
<line x1="416.50" y1="400.51" x2="416.50" y2="402.69" stroke="#a020f0" stroke-width="0.70"/>
<line x1="415.48" y1="400.50" x2="418.28" y2="400.50" stroke="#a020f0" stroke-width="0.70"/>
<line x1="415.48" y1="402.50" x2="418.28" y2="402.50" stroke="#a020f0" stroke-width="0.70"/>
<line x1="424.50" y1="399.35" x2="424.50" y2="402.25" stroke="#a020f0" stroke-width="0.70"/>
<line x1="422.86" y1="399.50" x2="425.66" y2="399.50" stroke="#a020f0" stroke-width="0.70"/>
<line x1="422.86" y1="402.50" x2="425.66" y2="402.50" stroke="#a020f0" stroke-width="0.70"/>
<line x1="439.50" y1="395.98" x2="439.50" y2="400.33" stroke="#a020f0" stroke-width="0.70"/>
<line x1="437.62" y1="395.50" x2="440.42" y2="395.50" stroke="#a020f0" stroke-width="0.70"/>
<line x1="437.62" y1="400.50" x2="440.42" y2="400.50" stroke="#a020f0" stroke-width="0.70"/>
<line x1="453.50" y1="389.67" x2="453.50" y2="396.92" stroke="#a020f0" stroke-width="0.70"/>
<line x1="452.38" y1="389.50" x2="455.18" y2="389.50" stroke="#a020f0" stroke-width="0.70"/>
<line x1="452.38" y1="396.50" x2="455.18" y2="396.50" stroke="#a020f0" stroke-width="0.70"/>
<line x1="468.50" y1="380.94" x2="468.50" y2="392.54" stroke="#a020f0" stroke-width="0.70"/>
<line x1="467.14" y1="380.50" x2="469.94" y2="380.50" stroke="#a020f0" stroke-width="0.70"/>
<line x1="467.14" y1="392.50" x2="469.94" y2="392.50" stroke="#a020f0" stroke-width="0.70"/>
<line x1="475.50" y1="378.18" x2="475.50" y2="389.78" stroke="#a020f0" stroke-width="0.70"/>
<line x1="474.52" y1="378.50" x2="477.32" y2="378.50" stroke="#a020f0" stroke-width="0.70"/>
<line x1="474.52" y1="389.50" x2="477.32" y2="389.50" stroke="#a020f0" stroke-width="0.70"/>
<polyline points="372.60,407.69 387.36,406.06 402.12,404.06 416.88,401.60 424.26,400.80 439.02,398.15 453.78,393.30 468.54,386.74 475.92,383.98" fill="none" stroke="#a020f0" stroke-width="0.90"/>
<rect x="371.30" y="406.39" width="2.60" height="2.60" fill="#a020f0"/>
<rect x="386.06" y="404.76" width="2.60" height="2.60" fill="#a020f0"/>
<rect x="400.82" y="402.76" width="2.60" height="2.60" fill="#a020f0"/>
<rect x="415.58" y="400.30" width="2.60" height="2.60" fill="#a020f0"/>
<rect x="422.96" y="399.50" width="2.60" height="2.60" fill="#a020f0"/>
<rect x="437.72" y="396.85" width="2.60" height="2.60" fill="#a020f0"/>
<rect x="452.48" y="392.00" width="2.60" height="2.60" fill="#a020f0"/>
<rect x="467.24" y="385.44" width="2.60" height="2.60" fill="#a020f0"/>
<rect x="474.62" y="382.68" width="2.60" height="2.60" fill="#a020f0"/>
<line x1="372.50" y1="407.62" x2="372.50" y2="408.34" stroke="#111111" stroke-width="0.70"/>
<line x1="371.20" y1="407.50" x2="374.00" y2="407.50" stroke="#111111" stroke-width="0.70"/>
<line x1="371.20" y1="408.50" x2="374.00" y2="408.50" stroke="#111111" stroke-width="0.70"/>
<line x1="387.50" y1="405.80" x2="387.50" y2="406.89" stroke="#111111" stroke-width="0.70"/>
<line x1="385.96" y1="405.50" x2="388.76" y2="405.50" stroke="#111111" stroke-width="0.70"/>
<line x1="385.96" y1="406.50" x2="388.76" y2="406.50" stroke="#111111" stroke-width="0.70"/>
<line x1="402.50" y1="404.43" x2="402.50" y2="406.24" stroke="#111111" stroke-width="0.70"/>
<line x1="400.72" y1="404.50" x2="403.52" y2="404.50" stroke="#111111" stroke-width="0.70"/>
<line x1="400.72" y1="406.50" x2="403.52" y2="406.50" stroke="#111111" stroke-width="0.70"/>
<line x1="416.50" y1="402.32" x2="416.50" y2="404.50" stroke="#111111" stroke-width="0.70"/>
<line x1="415.48" y1="402.50" x2="418.28" y2="402.50" stroke="#111111" stroke-width="0.70"/>
<line x1="415.48" y1="404.50" x2="418.28" y2="404.50" stroke="#111111" stroke-width="0.70"/>
<line x1="424.50" y1="401.02" x2="424.50" y2="403.19" stroke="#111111" stroke-width="0.70"/>
<line x1="422.86" y1="401.50" x2="425.66" y2="401.50" stroke="#111111" stroke-width="0.70"/>
<line x1="422.86" y1="403.50" x2="425.66" y2="403.50" stroke="#111111" stroke-width="0.70"/>
<line x1="439.50" y1="398.15" x2="439.50" y2="401.78" stroke="#111111" stroke-width="0.70"/>
<line x1="437.62" y1="398.50" x2="440.42" y2="398.50" stroke="#111111" stroke-width="0.70"/>
<line x1="437.62" y1="401.50" x2="440.42" y2="401.50" stroke="#111111" stroke-width="0.70"/>
<line x1="453.50" y1="392.97" x2="453.50" y2="399.50" stroke="#111111" stroke-width="0.70"/>
<line x1="452.38" y1="392.50" x2="455.18" y2="392.50" stroke="#111111" stroke-width="0.70"/>
<line x1="452.38" y1="399.50" x2="455.18" y2="399.50" stroke="#111111" stroke-width="0.70"/>
<line x1="468.50" y1="388.33" x2="468.50" y2="396.31" stroke="#111111" stroke-width="0.70"/>
<line x1="467.14" y1="388.50" x2="469.94" y2="388.50" stroke="#111111" stroke-width="0.70"/>
<line x1="467.14" y1="396.50" x2="469.94" y2="396.50" stroke="#111111" stroke-width="0.70"/>
<line x1="475.50" y1="384.81" x2="475.50" y2="393.88" stroke="#111111" stroke-width="0.70"/>
<line x1="474.52" y1="384.50" x2="477.32" y2="384.50" stroke="#111111" stroke-width="0.70"/>
<line x1="474.52" y1="393.50" x2="477.32" y2="393.50" stroke="#111111" stroke-width="0.70"/>
<polyline points="372.60,407.98 387.36,406.35 402.12,405.33 416.88,403.41 424.26,402.11 439.02,399.97 453.78,396.23 468.54,392.32 475.92,389.35" fill="none" stroke="#111111" stroke-width="0.90"/>
<circle cx="372.60" cy="407.98" r="1.50" fill="#111111"/>
<circle cx="387.36" cy="406.35" r="1.50" fill="#111111"/>
<circle cx="402.12" cy="405.33" r="1.50" fill="#111111"/>
<circle cx="416.88" cy="403.41" r="1.50" fill="#111111"/>
<circle cx="424.26" cy="402.11" r="1.50" fill="#111111"/>
<circle cx="439.02" cy="399.97" r="1.50" fill="#111111"/>
<circle cx="453.78" cy="396.23" r="1.50" fill="#111111"/>
<circle cx="468.54" cy="392.32" r="1.50" fill="#111111"/>
<circle cx="475.92" cy="389.35" r="1.50" fill="#111111"/>
<line x1="375.70" y1="339.50" x2="383.20" y2="339.50" stroke="#111111" stroke-width="0.90"/>
<circle cx="379.45" cy="339.20" r="1.50" fill="#111111"/>
<text x="385.90" y="341.20" font-size="5.60" text-anchor="start" fill="#231f20">IgG control</text>
<line x1="375.70" y1="347.50" x2="383.20" y2="347.50" stroke="#a020f0" stroke-width="0.90"/>
<rect x="377.95" y="346.10" width="3.00" height="3.00" fill="#a020f0"/>
<text x="385.90" y="349.60" font-size="5.60" text-anchor="start" fill="#231f20">Anti-CD4</text>
<line x1="375.70" y1="356.50" x2="383.20" y2="356.50" stroke="#ff8c1a" stroke-width="0.90"/>
<polygon points="379.45,354.30 377.72,357.49 381.18,357.49" fill="#ff8c1a"/>
<text x="385.90" y="358.20" font-size="5.60" text-anchor="start" fill="#231f20">Anti-CD8</text>
<polyline points="477.30,382.80 479.50,382.80 479.50,389.00 477.30,389.00" fill="none" stroke="#333333" stroke-width="0.85"/>
<text x="480.30" y="388.40" font-size="6.90" text-anchor="start" fill="#333333">NS</text>
<polyline points="491.00,367.50 493.20,367.50 493.20,390.00 491.00,390.00" fill="none" stroke="#333333" stroke-width="0.85"/>
<text transform="translate(495.20 378.75) rotate(90) scale(1 0.72)" font-size="8.4" text-anchor="middle" fill="#333333" style="stroke:#333333;stroke-width:0.35px">*</text>
<line x1="537.50" y1="337.00" x2="537.50" y2="409.75" stroke="#231f20" stroke-width="0.85"/>
<line x1="537.10" y1="409.50" x2="647.50" y2="409.50" stroke="#231f20" stroke-width="0.85"/>
<line x1="534.40" y1="409.50" x2="537.40" y2="409.50" stroke="#231f20" stroke-width="0.85"/>
<text x="532.50" y="411.88" font-size="6.90" text-anchor="end" fill="#231f20">0</text>
<line x1="534.40" y1="385.50" x2="537.40" y2="385.50" stroke="#231f20" stroke-width="0.85"/>
<text x="532.50" y="387.85" font-size="6.90" text-anchor="end" fill="#231f20">500</text>
<line x1="534.40" y1="361.50" x2="537.40" y2="361.50" stroke="#231f20" stroke-width="0.85"/>
<text x="532.50" y="363.82" font-size="6.90" text-anchor="end" fill="#231f20">1,000</text>
<line x1="534.40" y1="337.50" x2="537.40" y2="337.50" stroke="#231f20" stroke-width="0.85"/>
<text x="532.50" y="339.78" font-size="6.90" text-anchor="end" fill="#231f20">1,500</text>
<line x1="537.50" y1="409.40" x2="537.50" y2="412.00" stroke="#231f20" stroke-width="0.85"/>
<text x="537.40" y="419.70" font-size="6.70" text-anchor="middle" fill="#231f20">0</text>
<line x1="574.50" y1="409.40" x2="574.50" y2="412.00" stroke="#231f20" stroke-width="0.85"/>
<text x="574.05" y="419.70" font-size="6.70" text-anchor="middle" fill="#231f20">5</text>
<line x1="610.50" y1="409.40" x2="610.50" y2="412.00" stroke="#231f20" stroke-width="0.85"/>
<text x="610.70" y="419.70" font-size="6.70" text-anchor="middle" fill="#231f20">10</text>
<line x1="647.50" y1="409.40" x2="647.50" y2="412.00" stroke="#231f20" stroke-width="0.85"/>
<text x="647.35" y="419.70" font-size="6.70" text-anchor="middle" fill="#231f20">15</text>
<text x="592.00" y="427.40" font-size="6.70" text-anchor="middle" fill="#231f20">Time (days after randomization)</text>
<text x="510.30" y="372.00" font-size="6.70" text-anchor="middle" fill="#231f20" transform="rotate(-90 510.30 372.00)">Tumour volume (mm<tspan font-size="4.69" dy="-2.21">3</tspan><tspan dy="2.21">)</tspan></text>
<line x1="537.50" y1="405.94" x2="537.50" y2="406.90" stroke="#f01818" stroke-width="0.70"/>
<line x1="536.00" y1="405.50" x2="538.80" y2="405.50" stroke="#f01818" stroke-width="0.70"/>
<line x1="536.00" y1="406.50" x2="538.80" y2="406.50" stroke="#f01818" stroke-width="0.70"/>
<line x1="552.50" y1="404.16" x2="552.50" y2="405.60" stroke="#f01818" stroke-width="0.70"/>
<line x1="550.66" y1="404.50" x2="553.46" y2="404.50" stroke="#f01818" stroke-width="0.70"/>
<line x1="550.66" y1="405.50" x2="553.46" y2="405.50" stroke="#f01818" stroke-width="0.70"/>
<line x1="566.50" y1="402.05" x2="566.50" y2="403.97" stroke="#f01818" stroke-width="0.70"/>
<line x1="565.32" y1="402.50" x2="568.12" y2="402.50" stroke="#f01818" stroke-width="0.70"/>
<line x1="565.32" y1="403.50" x2="568.12" y2="403.50" stroke="#f01818" stroke-width="0.70"/>
<line x1="581.50" y1="399.31" x2="581.50" y2="402.19" stroke="#f01818" stroke-width="0.70"/>
<line x1="579.98" y1="399.50" x2="582.78" y2="399.50" stroke="#f01818" stroke-width="0.70"/>
<line x1="579.98" y1="402.50" x2="582.78" y2="402.50" stroke="#f01818" stroke-width="0.70"/>
<line x1="588.50" y1="398.97" x2="588.50" y2="401.85" stroke="#f01818" stroke-width="0.70"/>
<line x1="587.31" y1="398.50" x2="590.11" y2="398.50" stroke="#f01818" stroke-width="0.70"/>
<line x1="587.31" y1="401.50" x2="590.11" y2="401.50" stroke="#f01818" stroke-width="0.70"/>
<line x1="603.50" y1="396.71" x2="603.50" y2="402.48" stroke="#f01818" stroke-width="0.70"/>
<line x1="601.97" y1="396.50" x2="604.77" y2="396.50" stroke="#f01818" stroke-width="0.70"/>
<line x1="601.97" y1="402.50" x2="604.77" y2="402.50" stroke="#f01818" stroke-width="0.70"/>
<line x1="618.50" y1="396.23" x2="618.50" y2="402.96" stroke="#f01818" stroke-width="0.70"/>
<line x1="616.63" y1="396.50" x2="619.43" y2="396.50" stroke="#f01818" stroke-width="0.70"/>
<line x1="616.63" y1="402.50" x2="619.43" y2="402.50" stroke="#f01818" stroke-width="0.70"/>
<line x1="632.50" y1="394.11" x2="632.50" y2="404.69" stroke="#f01818" stroke-width="0.70"/>
<line x1="631.29" y1="394.50" x2="634.09" y2="394.50" stroke="#f01818" stroke-width="0.70"/>
<line x1="631.29" y1="404.50" x2="634.09" y2="404.50" stroke="#f01818" stroke-width="0.70"/>
<line x1="640.50" y1="391.38" x2="640.50" y2="405.79" stroke="#f01818" stroke-width="0.70"/>
<line x1="638.62" y1="391.50" x2="641.42" y2="391.50" stroke="#f01818" stroke-width="0.70"/>
<line x1="638.62" y1="405.50" x2="641.42" y2="405.50" stroke="#f01818" stroke-width="0.70"/>
<line x1="647.50" y1="389.31" x2="647.50" y2="405.65" stroke="#f01818" stroke-width="0.70"/>
<line x1="645.95" y1="389.50" x2="648.75" y2="389.50" stroke="#f01818" stroke-width="0.70"/>
<line x1="645.95" y1="405.50" x2="648.75" y2="405.50" stroke="#f01818" stroke-width="0.70"/>
<polyline points="537.40,406.42 552.06,404.88 566.72,403.01 581.38,400.75 588.71,400.41 603.37,399.59 618.03,399.59 632.69,399.40 640.02,398.58 647.35,397.48" fill="none" stroke="#f01818" stroke-width="0.90"/>
<circle cx="537.40" cy="406.42" r="1.50" fill="#f01818"/>
<circle cx="552.06" cy="404.88" r="1.50" fill="#f01818"/>
<circle cx="566.72" cy="403.01" r="1.50" fill="#f01818"/>
<circle cx="581.38" cy="400.75" r="1.50" fill="#f01818"/>
<circle cx="588.71" cy="400.41" r="1.50" fill="#f01818"/>
<circle cx="603.37" cy="399.59" r="1.50" fill="#f01818"/>
<circle cx="618.03" cy="399.59" r="1.50" fill="#f01818"/>
<circle cx="632.69" cy="399.40" r="1.50" fill="#f01818"/>
<circle cx="640.02" cy="398.58" r="1.50" fill="#f01818"/>
<circle cx="647.35" cy="397.48" r="1.50" fill="#f01818"/>
<line x1="537.50" y1="405.94" x2="537.50" y2="406.90" stroke="#ff8c1a" stroke-width="0.70"/>
<line x1="536.00" y1="405.50" x2="538.80" y2="405.50" stroke="#ff8c1a" stroke-width="0.70"/>
<line x1="536.00" y1="406.50" x2="538.80" y2="406.50" stroke="#ff8c1a" stroke-width="0.70"/>
<line x1="552.50" y1="404.16" x2="552.50" y2="405.60" stroke="#ff8c1a" stroke-width="0.70"/>
<line x1="550.66" y1="404.50" x2="553.46" y2="404.50" stroke="#ff8c1a" stroke-width="0.70"/>
<line x1="550.66" y1="405.50" x2="553.46" y2="405.50" stroke="#ff8c1a" stroke-width="0.70"/>
<line x1="566.50" y1="400.75" x2="566.50" y2="403.63" stroke="#ff8c1a" stroke-width="0.70"/>
<line x1="565.32" y1="400.50" x2="568.12" y2="400.50" stroke="#ff8c1a" stroke-width="0.70"/>
<line x1="565.32" y1="403.50" x2="568.12" y2="403.50" stroke="#ff8c1a" stroke-width="0.70"/>
<line x1="581.50" y1="397.86" x2="581.50" y2="401.71" stroke="#ff8c1a" stroke-width="0.70"/>
<line x1="579.98" y1="397.50" x2="582.78" y2="397.50" stroke="#ff8c1a" stroke-width="0.70"/>
<line x1="579.98" y1="401.50" x2="582.78" y2="401.50" stroke="#ff8c1a" stroke-width="0.70"/>
<line x1="588.50" y1="397.19" x2="588.50" y2="401.04" stroke="#ff8c1a" stroke-width="0.70"/>
<line x1="587.31" y1="397.50" x2="590.11" y2="397.50" stroke="#ff8c1a" stroke-width="0.70"/>
<line x1="587.31" y1="401.50" x2="590.11" y2="401.50" stroke="#ff8c1a" stroke-width="0.70"/>
<line x1="603.50" y1="390.89" x2="603.50" y2="396.66" stroke="#ff8c1a" stroke-width="0.70"/>
<line x1="601.97" y1="390.50" x2="604.77" y2="390.50" stroke="#ff8c1a" stroke-width="0.70"/>
<line x1="601.97" y1="396.50" x2="604.77" y2="396.50" stroke="#ff8c1a" stroke-width="0.70"/>
<line x1="618.50" y1="377.82" x2="618.50" y2="395.12" stroke="#ff8c1a" stroke-width="0.70"/>
<line x1="616.63" y1="377.50" x2="619.43" y2="377.50" stroke="#ff8c1a" stroke-width="0.70"/>
<line x1="616.63" y1="395.50" x2="619.43" y2="395.50" stroke="#ff8c1a" stroke-width="0.70"/>
<line x1="632.50" y1="365.85" x2="632.50" y2="383.16" stroke="#ff8c1a" stroke-width="0.70"/>
<line x1="631.29" y1="365.50" x2="634.09" y2="365.50" stroke="#ff8c1a" stroke-width="0.70"/>
<line x1="631.29" y1="383.50" x2="634.09" y2="383.50" stroke="#ff8c1a" stroke-width="0.70"/>
<line x1="640.50" y1="354.99" x2="640.50" y2="379.02" stroke="#ff8c1a" stroke-width="0.70"/>
<line x1="638.62" y1="354.50" x2="641.42" y2="354.50" stroke="#ff8c1a" stroke-width="0.70"/>
<line x1="638.62" y1="379.50" x2="641.42" y2="379.50" stroke="#ff8c1a" stroke-width="0.70"/>
<line x1="647.50" y1="342.01" x2="647.50" y2="375.66" stroke="#ff8c1a" stroke-width="0.70"/>
<line x1="645.95" y1="342.50" x2="648.75" y2="342.50" stroke="#ff8c1a" stroke-width="0.70"/>
<line x1="645.95" y1="375.50" x2="648.75" y2="375.50" stroke="#ff8c1a" stroke-width="0.70"/>
<polyline points="537.40,406.42 552.06,404.88 566.72,402.19 581.38,399.79 588.71,399.11 603.37,393.78 618.03,386.47 632.69,374.50 640.02,367.01 647.35,358.83" fill="none" stroke="#ff8c1a" stroke-width="0.90"/>
<polygon points="537.40,404.52 535.67,407.71 539.12,407.71" fill="#ff8c1a"/>
<polygon points="552.06,402.98 550.33,406.18 553.78,406.18" fill="#ff8c1a"/>
<polygon points="566.72,400.29 565.00,403.48 568.45,403.48" fill="#ff8c1a"/>
<polygon points="581.38,397.89 579.65,401.08 583.11,401.08" fill="#ff8c1a"/>
<polygon points="588.71,397.22 586.99,400.41 590.44,400.41" fill="#ff8c1a"/>
<polygon points="603.37,391.88 601.64,395.07 605.10,395.07" fill="#ff8c1a"/>
<polygon points="618.03,384.57 616.30,387.77 619.75,387.77" fill="#ff8c1a"/>
<polygon points="632.69,372.61 630.96,375.80 634.41,375.80" fill="#ff8c1a"/>
<polygon points="640.02,365.11 638.29,368.30 641.75,368.30" fill="#ff8c1a"/>
<polygon points="647.35,356.94 645.62,360.13 649.08,360.13" fill="#ff8c1a"/>
<line x1="537.50" y1="405.94" x2="537.50" y2="406.90" stroke="#b050e8" stroke-width="0.70"/>
<line x1="536.00" y1="405.50" x2="538.80" y2="405.50" stroke="#b050e8" stroke-width="0.70"/>
<line x1="536.00" y1="406.50" x2="538.80" y2="406.50" stroke="#b050e8" stroke-width="0.70"/>
<line x1="552.50" y1="404.16" x2="552.50" y2="405.60" stroke="#b050e8" stroke-width="0.70"/>
<line x1="550.66" y1="404.50" x2="553.46" y2="404.50" stroke="#b050e8" stroke-width="0.70"/>
<line x1="550.66" y1="405.50" x2="553.46" y2="405.50" stroke="#b050e8" stroke-width="0.70"/>
<line x1="566.50" y1="401.23" x2="566.50" y2="404.11" stroke="#b050e8" stroke-width="0.70"/>
<line x1="565.32" y1="401.50" x2="568.12" y2="401.50" stroke="#b050e8" stroke-width="0.70"/>
<line x1="565.32" y1="404.50" x2="568.12" y2="404.50" stroke="#b050e8" stroke-width="0.70"/>
<line x1="581.50" y1="398.34" x2="581.50" y2="402.19" stroke="#b050e8" stroke-width="0.70"/>
<line x1="579.98" y1="398.50" x2="582.78" y2="398.50" stroke="#b050e8" stroke-width="0.70"/>
<line x1="579.98" y1="402.50" x2="582.78" y2="402.50" stroke="#b050e8" stroke-width="0.70"/>
<line x1="588.50" y1="397.38" x2="588.50" y2="401.23" stroke="#b050e8" stroke-width="0.70"/>
<line x1="587.31" y1="397.50" x2="590.11" y2="397.50" stroke="#b050e8" stroke-width="0.70"/>
<line x1="587.31" y1="401.50" x2="590.11" y2="401.50" stroke="#b050e8" stroke-width="0.70"/>
<line x1="603.50" y1="390.32" x2="603.50" y2="399.93" stroke="#b050e8" stroke-width="0.70"/>
<line x1="601.97" y1="390.50" x2="604.77" y2="390.50" stroke="#b050e8" stroke-width="0.70"/>
<line x1="601.97" y1="399.50" x2="604.77" y2="399.50" stroke="#b050e8" stroke-width="0.70"/>
<line x1="618.50" y1="381.86" x2="618.50" y2="395.32" stroke="#b050e8" stroke-width="0.70"/>
<line x1="616.63" y1="381.50" x2="619.43" y2="381.50" stroke="#b050e8" stroke-width="0.70"/>
<line x1="616.63" y1="395.50" x2="619.43" y2="395.50" stroke="#b050e8" stroke-width="0.70"/>
<line x1="632.50" y1="371.33" x2="632.50" y2="392.48" stroke="#b050e8" stroke-width="0.70"/>
<line x1="631.29" y1="371.50" x2="634.09" y2="371.50" stroke="#b050e8" stroke-width="0.70"/>
<line x1="631.29" y1="392.50" x2="634.09" y2="392.50" stroke="#b050e8" stroke-width="0.70"/>
<line x1="640.50" y1="364.79" x2="640.50" y2="388.83" stroke="#b050e8" stroke-width="0.70"/>
<line x1="638.62" y1="364.50" x2="641.42" y2="364.50" stroke="#b050e8" stroke-width="0.70"/>
<line x1="638.62" y1="388.50" x2="641.42" y2="388.50" stroke="#b050e8" stroke-width="0.70"/>
<line x1="647.50" y1="355.57" x2="647.50" y2="389.21" stroke="#b050e8" stroke-width="0.70"/>
<line x1="645.95" y1="355.50" x2="648.75" y2="355.50" stroke="#b050e8" stroke-width="0.70"/>
<line x1="645.95" y1="389.50" x2="648.75" y2="389.50" stroke="#b050e8" stroke-width="0.70"/>
<polyline points="537.40,406.42 552.06,404.88 566.72,402.67 581.38,400.27 588.71,399.31 603.37,395.12 618.03,388.59 632.69,381.91 640.02,376.81 647.35,372.39" fill="none" stroke="#b050e8" stroke-width="0.90"/>
<rect x="536.10" y="405.12" width="2.60" height="2.60" fill="#b050e8"/>
<rect x="550.76" y="403.58" width="2.60" height="2.60" fill="#b050e8"/>
<rect x="565.42" y="401.37" width="2.60" height="2.60" fill="#b050e8"/>
<rect x="580.08" y="398.97" width="2.60" height="2.60" fill="#b050e8"/>
<rect x="587.41" y="398.01" width="2.60" height="2.60" fill="#b050e8"/>
<rect x="602.07" y="393.82" width="2.60" height="2.60" fill="#b050e8"/>
<rect x="616.73" y="387.29" width="2.60" height="2.60" fill="#b050e8"/>
<rect x="631.39" y="380.61" width="2.60" height="2.60" fill="#b050e8"/>
<rect x="638.72" y="375.51" width="2.60" height="2.60" fill="#b050e8"/>
<rect x="646.05" y="371.09" width="2.60" height="2.60" fill="#b050e8"/>
<line x1="537.50" y1="405.94" x2="537.50" y2="406.90" stroke="#111111" stroke-width="0.70"/>
<line x1="536.00" y1="405.50" x2="538.80" y2="405.50" stroke="#111111" stroke-width="0.70"/>
<line x1="536.00" y1="406.50" x2="538.80" y2="406.50" stroke="#111111" stroke-width="0.70"/>
<line x1="552.50" y1="404.16" x2="552.50" y2="405.60" stroke="#111111" stroke-width="0.70"/>
<line x1="550.66" y1="404.50" x2="553.46" y2="404.50" stroke="#111111" stroke-width="0.70"/>
<line x1="550.66" y1="405.50" x2="553.46" y2="405.50" stroke="#111111" stroke-width="0.70"/>
<line x1="566.50" y1="401.57" x2="566.50" y2="404.45" stroke="#111111" stroke-width="0.70"/>
<line x1="565.32" y1="401.50" x2="568.12" y2="401.50" stroke="#111111" stroke-width="0.70"/>
<line x1="565.32" y1="404.50" x2="568.12" y2="404.50" stroke="#111111" stroke-width="0.70"/>
<line x1="581.50" y1="398.54" x2="581.50" y2="402.38" stroke="#111111" stroke-width="0.70"/>
<line x1="579.98" y1="398.50" x2="582.78" y2="398.50" stroke="#111111" stroke-width="0.70"/>
<line x1="579.98" y1="402.50" x2="582.78" y2="402.50" stroke="#111111" stroke-width="0.70"/>
<line x1="588.50" y1="397.67" x2="588.50" y2="401.52" stroke="#111111" stroke-width="0.70"/>
<line x1="587.31" y1="397.50" x2="590.11" y2="397.50" stroke="#111111" stroke-width="0.70"/>
<line x1="587.31" y1="401.50" x2="590.11" y2="401.50" stroke="#111111" stroke-width="0.70"/>
<line x1="603.50" y1="393.01" x2="603.50" y2="398.78" stroke="#111111" stroke-width="0.70"/>
<line x1="601.97" y1="393.50" x2="604.77" y2="393.50" stroke="#111111" stroke-width="0.70"/>
<line x1="601.97" y1="398.50" x2="604.77" y2="398.50" stroke="#111111" stroke-width="0.70"/>
<line x1="618.50" y1="387.67" x2="618.50" y2="397.29" stroke="#111111" stroke-width="0.70"/>
<line x1="616.63" y1="387.50" x2="619.43" y2="387.50" stroke="#111111" stroke-width="0.70"/>
<line x1="616.63" y1="397.50" x2="619.43" y2="397.50" stroke="#111111" stroke-width="0.70"/>
<line x1="632.50" y1="378.69" x2="632.50" y2="393.11" stroke="#111111" stroke-width="0.70"/>
<line x1="631.29" y1="378.50" x2="634.09" y2="378.50" stroke="#111111" stroke-width="0.70"/>
<line x1="631.29" y1="393.50" x2="634.09" y2="393.50" stroke="#111111" stroke-width="0.70"/>
<line x1="640.50" y1="373.35" x2="640.50" y2="389.69" stroke="#111111" stroke-width="0.70"/>
<line x1="638.62" y1="373.50" x2="641.42" y2="373.50" stroke="#111111" stroke-width="0.70"/>
<line x1="638.62" y1="389.50" x2="641.42" y2="389.50" stroke="#111111" stroke-width="0.70"/>
<line x1="647.50" y1="367.44" x2="647.50" y2="386.18" stroke="#111111" stroke-width="0.70"/>
<line x1="645.95" y1="367.50" x2="648.75" y2="367.50" stroke="#111111" stroke-width="0.70"/>
<line x1="645.95" y1="386.50" x2="648.75" y2="386.50" stroke="#111111" stroke-width="0.70"/>
<polyline points="537.40,406.42 552.06,404.88 566.72,403.01 581.38,400.46 588.71,399.59 603.37,395.89 618.03,392.48 632.69,385.90 640.02,381.52 647.35,376.81" fill="none" stroke="#111111" stroke-width="0.90"/>
<circle cx="537.40" cy="406.42" r="1.50" fill="#111111"/>
<circle cx="552.06" cy="404.88" r="1.50" fill="#111111"/>
<circle cx="566.72" cy="403.01" r="1.50" fill="#111111"/>
<circle cx="581.38" cy="400.46" r="1.50" fill="#111111"/>
<circle cx="588.71" cy="399.59" r="1.50" fill="#111111"/>
<circle cx="603.37" cy="395.89" r="1.50" fill="#111111"/>
<circle cx="618.03" cy="392.48" r="1.50" fill="#111111"/>
<circle cx="632.69" cy="385.90" r="1.50" fill="#111111"/>
<circle cx="640.02" cy="381.52" r="1.50" fill="#111111"/>
<circle cx="647.35" cy="376.81" r="1.50" fill="#111111"/>
<line x1="541.80" y1="337.50" x2="549.30" y2="337.50" stroke="#111111" stroke-width="0.90"/>
<circle cx="545.55" cy="337.30" r="1.50" fill="#111111"/>
<text x="552.00" y="339.30" font-size="5.60" text-anchor="start" fill="#231f20">IgG control</text>
<line x1="541.80" y1="346.50" x2="549.30" y2="346.50" stroke="#b050e8" stroke-width="0.90"/>
<rect x="544.05" y="344.50" width="3.00" height="3.00" fill="#b050e8"/>
<text x="552.00" y="348.00" font-size="5.60" text-anchor="start" fill="#231f20">Anti-PD-1/anti-CTLA4</text>
<text x="552.00" y="353.20" font-size="5.60" text-anchor="start" fill="#231f20">+ anti-CD4</text>
<line x1="541.80" y1="361.50" x2="549.30" y2="361.50" stroke="#ff8c1a" stroke-width="0.90"/>
<polygon points="545.55,359.10 543.82,362.29 547.27,362.29" fill="#ff8c1a"/>
<text x="552.00" y="363.00" font-size="5.60" text-anchor="start" fill="#231f20">Anti-PD-1/anti-CTLA4</text>
<text x="552.00" y="368.20" font-size="5.60" text-anchor="start" fill="#231f20">+ anti-CD8</text>
<line x1="541.80" y1="375.50" x2="549.30" y2="375.50" stroke="#f01818" stroke-width="0.90"/>
<circle cx="545.55" cy="375.40" r="1.50" fill="#f01818"/>
<text x="552.00" y="377.40" font-size="5.60" text-anchor="start" fill="#231f20">Anti-PD-1/</text>
<text x="552.00" y="382.60" font-size="5.60" text-anchor="start" fill="#231f20">anti-CTLA4</text>
<polyline points="652.40,356.20 654.60,356.20 654.60,369.80 652.40,369.80" fill="none" stroke="#333333" stroke-width="0.85"/>
<text transform="translate(656.60 363.00) rotate(90) scale(1 0.72)" font-size="8.4" text-anchor="middle" fill="#333333" style="stroke:#333333;stroke-width:0.35px">*</text>
<polyline points="652.40,369.80 654.60,369.80 654.60,377.70 652.40,377.70" fill="none" stroke="#333333" stroke-width="0.85"/>
<text x="655.40" y="376.25" font-size="6.90" text-anchor="start" fill="#333333">NS</text>
<polyline points="652.40,377.70 654.60,377.70 654.60,397.30 652.40,397.30" fill="none" stroke="#333333" stroke-width="0.85"/>
<text transform="translate(656.60 387.50) rotate(90) scale(1 0.72)" font-size="8.4" text-anchor="middle" fill="#333333" style="stroke:#333333;stroke-width:0.35px">**</text>
<polyline points="664.60,369.30 666.80,369.30 666.80,397.30 664.60,397.30" fill="none" stroke="#333333" stroke-width="0.85"/>
<text transform="translate(668.80 383.30) rotate(90) scale(1 0.72)" font-size="8.4" text-anchor="middle" fill="#333333" style="stroke:#333333;stroke-width:0.35px">***</text>
<polyline points="675.60,354.10 677.80,354.10 677.80,397.30 675.60,397.30" fill="none" stroke="#333333" stroke-width="0.85"/>
<text transform="translate(679.80 375.70) rotate(90) scale(1 0.72)" font-size="8.4" text-anchor="middle" fill="#333333" style="stroke:#333333;stroke-width:0.35px">***</text>
<text x="0.00" y="461.00" font-size="10.50" text-anchor="start" fill="#000" font-weight="bold" style="stroke:#000;stroke-width:0.45px">d</text>
<line x1="48.50" y1="478.70" x2="48.50" y2="558.35" stroke="#231f20" stroke-width="0.85"/>
<line x1="48.10" y1="558.50" x2="167.90" y2="558.50" stroke="#231f20" stroke-width="0.85"/>
<line x1="45.90" y1="558.50" x2="48.40" y2="558.50" stroke="#231f20" stroke-width="0.85"/>
<text x="43.70" y="560.41" font-size="6.70" text-anchor="end" fill="#231f20">0</text>
<line x1="45.90" y1="531.50" x2="48.40" y2="531.50" stroke="#231f20" stroke-width="0.85"/>
<text x="43.70" y="534.08" font-size="6.70" text-anchor="end" fill="#231f20">500</text>
<line x1="45.90" y1="505.50" x2="48.40" y2="505.50" stroke="#231f20" stroke-width="0.85"/>
<text x="43.70" y="507.75" font-size="6.70" text-anchor="end" fill="#231f20">1,000</text>
<line x1="45.90" y1="479.50" x2="48.40" y2="479.50" stroke="#231f20" stroke-width="0.85"/>
<text x="43.70" y="481.41" font-size="6.70" text-anchor="end" fill="#231f20">1,500</text>
<text x="17.90" y="518.50" font-size="6.70" text-anchor="middle" fill="#231f20" transform="rotate(-90 17.90 518.50)">Tumour volume (mm<tspan font-size="4.69" dy="-2.21">3</tspan><tspan dy="2.21">)</tspan></text>
<polyline points="53.20,558.00 53.20,514.81 61.60,514.81 61.60,558.00" fill="none" stroke="#000000" stroke-width="0.9"/>
<line x1="57.50" y1="558.00" x2="57.50" y2="560.60" stroke="#231f20" stroke-width="0.85"/>
<circle cx="57.40" cy="491.48" r="1.80" fill="#111111" stroke="#222" stroke-width="0.50"/>
<circle cx="57.40" cy="500.65" r="1.80" fill="#111111" stroke="#222" stroke-width="0.50"/>
<circle cx="57.40" cy="505.12" r="1.80" fill="#111111" stroke="#222" stroke-width="0.50"/>
<circle cx="54.20" cy="513.50" r="1.80" fill="#111111" stroke="#222" stroke-width="0.50"/>
<circle cx="60.60" cy="513.50" r="1.80" fill="#111111" stroke="#222" stroke-width="0.50"/>
<circle cx="54.20" cy="522.61" r="1.80" fill="#111111" stroke="#222" stroke-width="0.50"/>
<circle cx="60.60" cy="522.61" r="1.80" fill="#111111" stroke="#222" stroke-width="0.50"/>
<circle cx="57.40" cy="532.30" r="1.80" fill="#111111" stroke="#222" stroke-width="0.50"/>
<line x1="57.50" y1="507.97" x2="57.50" y2="528.51" stroke="#111" stroke-width="0.80"/>
<line x1="55.50" y1="507.50" x2="59.30" y2="507.50" stroke="#000000" stroke-width="0.80"/>
<line x1="55.50" y1="528.50" x2="59.30" y2="528.50" stroke="#000000" stroke-width="0.80"/>
<text x="57.10" y="566.50" font-size="6.90" text-anchor="end" fill="#231f20" transform="rotate(-45 57.10 566.50)">IgG isotype control</text>
<polyline points="67.60,558.00 67.60,537.20 76.00,537.20 76.00,558.00" fill="none" stroke="#f45a5a" stroke-width="0.9"/>
<line x1="71.50" y1="558.00" x2="71.50" y2="560.60" stroke="#231f20" stroke-width="0.85"/>
<circle cx="68.80" cy="532.72" r="1.80" fill="#ee1111" stroke="#222" stroke-width="0.50"/>
<circle cx="71.80" cy="532.72" r="1.80" fill="#ee1111" stroke="#222" stroke-width="0.50"/>
<circle cx="74.80" cy="532.72" r="1.80" fill="#ee1111" stroke="#222" stroke-width="0.50"/>
<circle cx="70.30" cy="534.83" r="1.80" fill="#ee1111" stroke="#222" stroke-width="0.50"/>
<circle cx="73.30" cy="536.93" r="1.80" fill="#ee1111" stroke="#222" stroke-width="0.50"/>
<circle cx="70.30" cy="539.57" r="1.80" fill="#ee1111" stroke="#222" stroke-width="0.50"/>
<circle cx="73.30" cy="541.67" r="1.80" fill="#ee1111" stroke="#222" stroke-width="0.50"/>
<circle cx="70.80" cy="544.31" r="1.80" fill="#ee1111" stroke="#222" stroke-width="0.50"/>
<line x1="71.50" y1="533.77" x2="71.50" y2="540.62" stroke="#f45a5a" stroke-width="0.80"/>
<line x1="69.90" y1="533.50" x2="73.70" y2="533.50" stroke="#f45a5a" stroke-width="0.80"/>
<line x1="69.90" y1="540.50" x2="73.70" y2="540.50" stroke="#f45a5a" stroke-width="0.80"/>
<text x="71.50" y="566.50" font-size="6.90" text-anchor="end" fill="#231f20" transform="rotate(-45 71.50 566.50)">Anti-PD-1 + anti-CTLA4</text>
<polyline points="81.80,558.00 81.80,524.03 90.20,524.03 90.20,558.00" fill="none" stroke="#4040f0" stroke-width="0.9"/>
<line x1="86.50" y1="558.00" x2="86.50" y2="560.60" stroke="#231f20" stroke-width="0.85"/>
<circle cx="83.50" cy="511.92" r="1.80" fill="#1010c0" stroke="#222" stroke-width="0.50"/>
<circle cx="88.50" cy="511.92" r="1.80" fill="#1010c0" stroke="#222" stroke-width="0.50"/>
<circle cx="86.00" cy="513.92" r="1.80" fill="#1010c0" stroke="#222" stroke-width="0.50"/>
<circle cx="86.00" cy="517.82" r="1.80" fill="#1010c0" stroke="#222" stroke-width="0.50"/>
<circle cx="83.50" cy="525.50" r="1.80" fill="#1010c0" stroke="#222" stroke-width="0.50"/>
<circle cx="88.50" cy="529.40" r="1.80" fill="#1010c0" stroke="#222" stroke-width="0.50"/>
<circle cx="86.00" cy="535.30" r="1.80" fill="#1010c0" stroke="#222" stroke-width="0.50"/>
<circle cx="86.00" cy="541.09" r="1.80" fill="#1010c0" stroke="#222" stroke-width="0.50"/>
<line x1="86.50" y1="514.29" x2="86.50" y2="534.30" stroke="#4040f0" stroke-width="0.80"/>
<line x1="84.10" y1="514.50" x2="87.90" y2="514.50" stroke="#4040f0" stroke-width="0.80"/>
<line x1="84.10" y1="534.50" x2="87.90" y2="534.50" stroke="#4040f0" stroke-width="0.80"/>
<text x="85.70" y="566.50" font-size="6.90" text-anchor="end" fill="#231f20" transform="rotate(-45 85.70 566.50)">Anti-Ly6G + anti-PD-1 + anti-CTLA4</text>
<polyline points="96.20,558.00 96.20,521.98 104.60,521.98 104.60,558.00" fill="none" stroke="#30a080" stroke-width="0.9"/>
<line x1="100.50" y1="558.00" x2="100.50" y2="560.60" stroke="#231f20" stroke-width="0.85"/>
<circle cx="100.40" cy="500.65" r="1.80" fill="#168060" stroke="#222" stroke-width="0.50"/>
<circle cx="100.40" cy="508.39" r="1.80" fill="#168060" stroke="#222" stroke-width="0.50"/>
<circle cx="100.40" cy="513.92" r="1.80" fill="#168060" stroke="#222" stroke-width="0.50"/>
<circle cx="97.40" cy="522.61" r="1.80" fill="#168060" stroke="#222" stroke-width="0.50"/>
<circle cx="103.40" cy="522.61" r="1.80" fill="#168060" stroke="#222" stroke-width="0.50"/>
<circle cx="97.40" cy="528.51" r="1.80" fill="#168060" stroke="#222" stroke-width="0.50"/>
<circle cx="100.40" cy="528.51" r="1.80" fill="#168060" stroke="#222" stroke-width="0.50"/>
<circle cx="103.40" cy="528.51" r="1.80" fill="#168060" stroke="#222" stroke-width="0.50"/>
<circle cx="100.40" cy="541.99" r="1.80" fill="#168060" stroke="#222" stroke-width="0.50"/>
<line x1="100.50" y1="510.60" x2="100.50" y2="532.72" stroke="#30a080" stroke-width="0.80"/>
<line x1="98.50" y1="510.50" x2="102.30" y2="510.50" stroke="#30a080" stroke-width="0.80"/>
<line x1="98.50" y1="532.50" x2="102.30" y2="532.50" stroke="#30a080" stroke-width="0.80"/>
<text x="100.10" y="566.50" font-size="6.90" text-anchor="end" fill="#231f20" transform="rotate(-45 100.10 566.50)">Anti-CCL2 + anti-PD-1 + anti-CTLA4</text>
<polyline points="110.50,558.00 110.50,516.81 118.90,516.81 118.90,558.00" fill="none" stroke="#80e880" stroke-width="0.9"/>
<line x1="114.50" y1="558.00" x2="114.50" y2="560.60" stroke="#231f20" stroke-width="0.85"/>
<circle cx="114.70" cy="502.17" r="1.80" fill="#20c020" stroke="#222" stroke-width="0.50"/>
<circle cx="111.70" cy="509.02" r="1.80" fill="#20c020" stroke="#222" stroke-width="0.50"/>
<circle cx="117.70" cy="509.02" r="1.80" fill="#20c020" stroke="#222" stroke-width="0.50"/>
<circle cx="114.70" cy="510.97" r="1.80" fill="#20c020" stroke="#222" stroke-width="0.50"/>
<circle cx="112.70" cy="514.81" r="1.80" fill="#20c020" stroke="#222" stroke-width="0.50"/>
<circle cx="115.70" cy="519.71" r="1.80" fill="#20c020" stroke="#222" stroke-width="0.50"/>
<circle cx="112.20" cy="532.30" r="1.80" fill="#20c020" stroke="#222" stroke-width="0.50"/>
<circle cx="117.20" cy="532.30" r="1.80" fill="#20c020" stroke="#222" stroke-width="0.50"/>
<circle cx="114.70" cy="534.30" r="1.80" fill="#20c020" stroke="#222" stroke-width="0.50"/>
<line x1="114.50" y1="506.39" x2="114.50" y2="527.45" stroke="#80e880" stroke-width="0.80"/>
<line x1="112.80" y1="506.50" x2="116.60" y2="506.50" stroke="#80e880" stroke-width="0.80"/>
<line x1="112.80" y1="527.50" x2="116.60" y2="527.50" stroke="#80e880" stroke-width="0.80"/>
<text x="114.40" y="566.50" font-size="6.90" text-anchor="end" fill="#231f20" transform="rotate(-45 114.40 566.50)">Anti-Ly6G + anti-CCL2+ anti-PD-1 + anti-CTLA4</text>
<polyline points="124.80,558.00 124.80,516.39 133.20,516.39 133.20,558.00" fill="none" stroke="#b08050" stroke-width="0.9"/>
<line x1="129.50" y1="558.00" x2="129.50" y2="560.60" stroke="#231f20" stroke-width="0.85"/>
<circle cx="126.50" cy="502.59" r="1.80" fill="#8a5520" stroke="#222" stroke-width="0.50"/>
<circle cx="131.50" cy="502.59" r="1.80" fill="#8a5520" stroke="#222" stroke-width="0.50"/>
<circle cx="129.00" cy="508.02" r="1.80" fill="#8a5520" stroke="#222" stroke-width="0.50"/>
<circle cx="126.50" cy="513.92" r="1.80" fill="#8a5520" stroke="#222" stroke-width="0.50"/>
<circle cx="131.50" cy="513.92" r="1.80" fill="#8a5520" stroke="#222" stroke-width="0.50"/>
<circle cx="126.50" cy="519.71" r="1.80" fill="#8a5520" stroke="#222" stroke-width="0.50"/>
<circle cx="131.50" cy="519.71" r="1.80" fill="#8a5520" stroke="#222" stroke-width="0.50"/>
<circle cx="129.00" cy="528.51" r="1.80" fill="#8a5520" stroke="#222" stroke-width="0.50"/>
<circle cx="129.00" cy="532.98" r="1.80" fill="#8a5520" stroke="#222" stroke-width="0.50"/>
<line x1="129.50" y1="505.33" x2="129.50" y2="527.45" stroke="#b08050" stroke-width="0.80"/>
<line x1="127.10" y1="505.50" x2="130.90" y2="505.50" stroke="#b08050" stroke-width="0.80"/>
<line x1="127.10" y1="527.50" x2="130.90" y2="527.50" stroke="#b08050" stroke-width="0.80"/>
<text x="128.70" y="566.50" font-size="6.90" text-anchor="end" fill="#231f20" transform="rotate(-45 128.70 566.50)">Anti-Ly6G</text>
<polyline points="139.10,558.00 139.10,517.82 147.50,517.82 147.50,558.00" fill="none" stroke="#cfc090" stroke-width="0.9"/>
<line x1="143.50" y1="558.00" x2="143.50" y2="560.60" stroke="#231f20" stroke-width="0.85"/>
<circle cx="140.30" cy="507.70" r="1.80" fill="#c0b080" stroke="#222" stroke-width="0.50"/>
<circle cx="143.30" cy="507.70" r="1.80" fill="#c0b080" stroke="#222" stroke-width="0.50"/>
<circle cx="146.30" cy="507.70" r="1.80" fill="#c0b080" stroke="#222" stroke-width="0.50"/>
<circle cx="141.30" cy="512.34" r="1.80" fill="#c0b080" stroke="#222" stroke-width="0.50"/>
<circle cx="145.30" cy="512.34" r="1.80" fill="#c0b080" stroke="#222" stroke-width="0.50"/>
<circle cx="143.30" cy="517.82" r="1.80" fill="#c0b080" stroke="#222" stroke-width="0.50"/>
<circle cx="140.80" cy="522.61" r="1.80" fill="#c0b080" stroke="#222" stroke-width="0.50"/>
<circle cx="145.80" cy="522.61" r="1.80" fill="#c0b080" stroke="#222" stroke-width="0.50"/>
<circle cx="143.30" cy="534.93" r="1.80" fill="#c0b080" stroke="#222" stroke-width="0.50"/>
<line x1="143.50" y1="509.55" x2="143.50" y2="526.40" stroke="#cfc090" stroke-width="0.80"/>
<line x1="141.40" y1="509.50" x2="145.20" y2="509.50" stroke="#cfc090" stroke-width="0.80"/>
<line x1="141.40" y1="526.50" x2="145.20" y2="526.50" stroke="#cfc090" stroke-width="0.80"/>
<text x="143.00" y="566.50" font-size="6.90" text-anchor="end" fill="#231f20" transform="rotate(-45 143.00 566.50)">Anti-CCL2</text>
<polyline points="153.50,558.00 153.50,523.61 161.90,523.61 161.90,558.00" fill="none" stroke="#f8a0e8" stroke-width="0.9"/>
<line x1="157.50" y1="558.00" x2="157.50" y2="560.60" stroke="#231f20" stroke-width="0.85"/>
<circle cx="157.70" cy="513.92" r="1.80" fill="#e040c8" stroke="#222" stroke-width="0.50"/>
<circle cx="155.20" cy="519.71" r="1.80" fill="#e040c8" stroke="#222" stroke-width="0.50"/>
<circle cx="160.20" cy="519.71" r="1.80" fill="#e040c8" stroke="#222" stroke-width="0.50"/>
<circle cx="155.20" cy="523.61" r="1.80" fill="#e040c8" stroke="#222" stroke-width="0.50"/>
<circle cx="160.20" cy="523.61" r="1.80" fill="#e040c8" stroke="#222" stroke-width="0.50"/>
<circle cx="157.70" cy="525.50" r="1.80" fill="#e040c8" stroke="#222" stroke-width="0.50"/>
<circle cx="157.70" cy="536.20" r="1.80" fill="#e040c8" stroke="#222" stroke-width="0.50"/>
<line x1="157.50" y1="516.81" x2="157.50" y2="530.40" stroke="#f8a0e8" stroke-width="0.80"/>
<line x1="155.80" y1="516.50" x2="159.60" y2="516.50" stroke="#f8a0e8" stroke-width="0.80"/>
<line x1="155.80" y1="530.50" x2="159.60" y2="530.50" stroke="#f8a0e8" stroke-width="0.80"/>
<text x="157.40" y="566.50" font-size="6.90" text-anchor="end" fill="#231f20" transform="rotate(-45 157.40 566.50)">Anti-Ly6G + anti-CCL2</text>
<polyline points="58.00,462.60 58.00,458.60 158.20,458.60 158.20,462.60" fill="none" stroke="#333333" stroke-width="0.85"/>
<text x="108.10" y="457.60" font-size="6.90" text-anchor="middle" fill="#333333">NS</text>
<polyline points="58.00,472.10 58.00,468.30 72.30,468.30 72.30,472.10" fill="none" stroke="#333333" stroke-width="0.85"/>
<text transform="translate(65.15 469.20) scale(1 0.82)" font-size="8.20" text-anchor="middle" fill="#333333" style="stroke:#333333;stroke-width:0.35px">***</text>
<polyline points="72.30,480.80 72.30,477.00 115.20,477.00 115.20,480.80" fill="none" stroke="#333333" stroke-width="0.85"/>
<text transform="translate(93.75 477.90) scale(1 0.82)" font-size="8.20" text-anchor="middle" fill="#333333" style="stroke:#333333;stroke-width:0.35px">**</text>
<polyline points="72.30,492.90 72.30,489.10 100.90,489.10 100.90,492.90" fill="none" stroke="#333333" stroke-width="0.85"/>
<text transform="translate(86.60 490.00) scale(1 0.82)" font-size="8.20" text-anchor="middle" fill="#333333" style="stroke:#333333;stroke-width:0.35px">**</text>
<polyline points="72.30,507.10 72.30,503.30 86.50,503.30 86.50,507.10" fill="none" stroke="#333333" stroke-width="0.85"/>
<text transform="translate(79.40 504.20) scale(1 0.82)" font-size="8.20" text-anchor="middle" fill="#333333" style="stroke:#333333;stroke-width:0.35px">**</text>
<text x="193.50" y="461.50" font-size="10.50" text-anchor="start" fill="#000" font-weight="bold" style="stroke:#000;stroke-width:0.45px">e</text>
<line x1="234.50" y1="465.80" x2="234.50" y2="548.55" stroke="#231f20" stroke-width="0.85"/>
<line x1="234.10" y1="548.50" x2="358.50" y2="548.50" stroke="#231f20" stroke-width="0.85"/>
<line x1="231.40" y1="548.50" x2="234.40" y2="548.50" stroke="#231f20" stroke-width="0.85"/>
<text x="229.50" y="550.68" font-size="6.90" text-anchor="end" fill="#231f20">0</text>
<line x1="231.40" y1="536.50" x2="234.40" y2="536.50" stroke="#231f20" stroke-width="0.85"/>
<text x="229.50" y="538.96" font-size="6.90" text-anchor="end" fill="#231f20">200</text>
<line x1="231.40" y1="524.50" x2="234.40" y2="524.50" stroke="#231f20" stroke-width="0.85"/>
<text x="229.50" y="527.23" font-size="6.90" text-anchor="end" fill="#231f20">400</text>
<line x1="231.40" y1="513.50" x2="234.40" y2="513.50" stroke="#231f20" stroke-width="0.85"/>
<text x="229.50" y="515.50" font-size="6.90" text-anchor="end" fill="#231f20">600</text>
<line x1="231.40" y1="501.50" x2="234.40" y2="501.50" stroke="#231f20" stroke-width="0.85"/>
<text x="229.50" y="503.77" font-size="6.90" text-anchor="end" fill="#231f20">800</text>
<line x1="231.40" y1="489.50" x2="234.40" y2="489.50" stroke="#231f20" stroke-width="0.85"/>
<text x="229.50" y="492.04" font-size="6.90" text-anchor="end" fill="#231f20">1,000</text>
<line x1="231.40" y1="477.50" x2="234.40" y2="477.50" stroke="#231f20" stroke-width="0.85"/>
<text x="229.50" y="480.31" font-size="6.90" text-anchor="end" fill="#231f20">1,200</text>
<line x1="231.40" y1="466.50" x2="234.40" y2="466.50" stroke="#231f20" stroke-width="0.85"/>
<text x="229.50" y="468.58" font-size="6.90" text-anchor="end" fill="#231f20">1,400</text>
<line x1="234.50" y1="548.20" x2="234.50" y2="550.80" stroke="#231f20" stroke-width="0.85"/>
<text x="234.00" y="558.50" font-size="6.70" text-anchor="middle" fill="#231f20">0</text>
<line x1="245.50" y1="548.20" x2="245.50" y2="550.80" stroke="#231f20" stroke-width="0.85"/>
<text x="245.24" y="558.50" font-size="6.70" text-anchor="middle" fill="#231f20">2</text>
<line x1="256.50" y1="548.20" x2="256.50" y2="550.80" stroke="#231f20" stroke-width="0.85"/>
<text x="256.48" y="558.50" font-size="6.70" text-anchor="middle" fill="#231f20">4</text>
<line x1="267.50" y1="548.20" x2="267.50" y2="550.80" stroke="#231f20" stroke-width="0.85"/>
<text x="267.72" y="558.50" font-size="6.70" text-anchor="middle" fill="#231f20">6</text>
<line x1="278.50" y1="548.20" x2="278.50" y2="550.80" stroke="#231f20" stroke-width="0.85"/>
<text x="278.96" y="558.50" font-size="6.70" text-anchor="middle" fill="#231f20">8</text>
<line x1="290.50" y1="548.20" x2="290.50" y2="550.80" stroke="#231f20" stroke-width="0.85"/>
<text x="290.20" y="558.50" font-size="6.70" text-anchor="middle" fill="#231f20">10</text>
<line x1="301.50" y1="548.20" x2="301.50" y2="550.80" stroke="#231f20" stroke-width="0.85"/>
<text x="301.44" y="558.50" font-size="6.70" text-anchor="middle" fill="#231f20">12</text>
<line x1="312.50" y1="548.20" x2="312.50" y2="550.80" stroke="#231f20" stroke-width="0.85"/>
<text x="312.68" y="558.50" font-size="6.70" text-anchor="middle" fill="#231f20">14</text>
<line x1="323.50" y1="548.20" x2="323.50" y2="550.80" stroke="#231f20" stroke-width="0.85"/>
<text x="323.92" y="558.50" font-size="6.70" text-anchor="middle" fill="#231f20">16</text>
<line x1="335.50" y1="548.20" x2="335.50" y2="550.80" stroke="#231f20" stroke-width="0.85"/>
<text x="335.16" y="558.50" font-size="6.70" text-anchor="middle" fill="#231f20">18</text>
<line x1="346.50" y1="548.20" x2="346.50" y2="550.80" stroke="#231f20" stroke-width="0.85"/>
<text x="346.40" y="558.50" font-size="6.70" text-anchor="middle" fill="#231f20">20</text>
<line x1="357.50" y1="548.20" x2="357.50" y2="550.80" stroke="#231f20" stroke-width="0.85"/>
<text x="357.64" y="558.50" font-size="6.70" text-anchor="middle" fill="#231f20">22</text>
<text x="296.00" y="567.20" font-size="6.70" text-anchor="middle" fill="#231f20">Time (days after randomization)</text>
<text x="205.00" y="507.00" font-size="6.70" text-anchor="middle" fill="#231f20" transform="rotate(-90 205.00 507.00)">Tumour volume (mm<tspan font-size="4.69" dy="-2.21">3</tspan><tspan dy="2.21">)</tspan></text>
<line x1="234.50" y1="544.97" x2="234.50" y2="545.56" stroke="#8a1ab8" stroke-width="0.70"/>
<line x1="232.60" y1="544.50" x2="235.40" y2="544.50" stroke="#8a1ab8" stroke-width="0.70"/>
<line x1="232.60" y1="545.50" x2="235.40" y2="545.50" stroke="#8a1ab8" stroke-width="0.70"/>
<line x1="250.50" y1="544.10" x2="250.50" y2="544.68" stroke="#8a1ab8" stroke-width="0.70"/>
<line x1="249.46" y1="544.50" x2="252.26" y2="544.50" stroke="#8a1ab8" stroke-width="0.70"/>
<line x1="249.46" y1="544.50" x2="252.26" y2="544.50" stroke="#8a1ab8" stroke-width="0.70"/>
<line x1="267.50" y1="542.34" x2="267.50" y2="543.51" stroke="#8a1ab8" stroke-width="0.70"/>
<line x1="266.32" y1="542.50" x2="269.12" y2="542.50" stroke="#8a1ab8" stroke-width="0.70"/>
<line x1="266.32" y1="543.50" x2="269.12" y2="543.50" stroke="#8a1ab8" stroke-width="0.70"/>
<line x1="278.50" y1="539.99" x2="278.50" y2="542.34" stroke="#8a1ab8" stroke-width="0.70"/>
<line x1="277.56" y1="539.50" x2="280.36" y2="539.50" stroke="#8a1ab8" stroke-width="0.70"/>
<line x1="277.56" y1="542.50" x2="280.36" y2="542.50" stroke="#8a1ab8" stroke-width="0.70"/>
<line x1="295.50" y1="537.06" x2="295.50" y2="539.40" stroke="#8a1ab8" stroke-width="0.70"/>
<line x1="294.42" y1="537.50" x2="297.22" y2="537.50" stroke="#8a1ab8" stroke-width="0.70"/>
<line x1="294.42" y1="539.50" x2="297.22" y2="539.50" stroke="#8a1ab8" stroke-width="0.70"/>
<line x1="312.50" y1="534.71" x2="312.50" y2="538.23" stroke="#8a1ab8" stroke-width="0.70"/>
<line x1="311.28" y1="534.50" x2="314.08" y2="534.50" stroke="#8a1ab8" stroke-width="0.70"/>
<line x1="311.28" y1="538.50" x2="314.08" y2="538.50" stroke="#8a1ab8" stroke-width="0.70"/>
<line x1="323.50" y1="532.95" x2="323.50" y2="539.40" stroke="#8a1ab8" stroke-width="0.70"/>
<line x1="322.52" y1="532.50" x2="325.32" y2="532.50" stroke="#8a1ab8" stroke-width="0.70"/>
<line x1="322.52" y1="539.50" x2="325.32" y2="539.50" stroke="#8a1ab8" stroke-width="0.70"/>
<line x1="335.50" y1="532.37" x2="335.50" y2="538.23" stroke="#8a1ab8" stroke-width="0.70"/>
<line x1="333.76" y1="532.50" x2="336.56" y2="532.50" stroke="#8a1ab8" stroke-width="0.70"/>
<line x1="333.76" y1="538.50" x2="336.56" y2="538.50" stroke="#8a1ab8" stroke-width="0.70"/>
<line x1="346.50" y1="522.40" x2="346.50" y2="539.40" stroke="#8a1ab8" stroke-width="0.70"/>
<line x1="345.00" y1="522.50" x2="347.80" y2="522.50" stroke="#8a1ab8" stroke-width="0.70"/>
<line x1="345.00" y1="539.50" x2="347.80" y2="539.50" stroke="#8a1ab8" stroke-width="0.70"/>
<line x1="357.50" y1="505.98" x2="357.50" y2="539.40" stroke="#8a1ab8" stroke-width="0.70"/>
<line x1="356.24" y1="505.50" x2="359.04" y2="505.50" stroke="#8a1ab8" stroke-width="0.70"/>
<line x1="356.24" y1="539.50" x2="359.04" y2="539.50" stroke="#8a1ab8" stroke-width="0.70"/>
<polyline points="234.00,545.27 250.86,544.39 267.72,542.92 278.96,541.16 295.82,538.23 312.68,536.47 323.92,536.47 335.16,535.88 346.40,531.19 357.64,523.57" fill="none" stroke="#8a1ab8" stroke-width="0.90"/>
<polygon points="234.00,547.17 232.28,543.97 235.72,543.97" fill="#8a1ab8"/>
<polygon points="250.86,546.29 249.14,543.09 252.59,543.09" fill="#8a1ab8"/>
<polygon points="267.72,544.82 266.00,541.63 269.45,541.63" fill="#8a1ab8"/>
<polygon points="278.96,543.06 277.23,539.87 280.69,539.87" fill="#8a1ab8"/>
<polygon points="295.82,540.13 294.09,536.94 297.55,536.94" fill="#8a1ab8"/>
<polygon points="312.68,538.37 310.95,535.18 314.41,535.18" fill="#8a1ab8"/>
<polygon points="323.92,538.37 322.19,535.18 325.65,535.18" fill="#8a1ab8"/>
<polygon points="335.16,537.78 333.43,534.59 336.88,534.59" fill="#8a1ab8"/>
<polygon points="346.40,533.09 344.67,529.90 348.12,529.90" fill="#8a1ab8"/>
<polygon points="357.64,525.47 355.91,522.28 359.37,522.28" fill="#8a1ab8"/>
<line x1="234.50" y1="544.80" x2="234.50" y2="545.74" stroke="#f01818" stroke-width="0.70"/>
<line x1="232.60" y1="544.50" x2="235.40" y2="544.50" stroke="#f01818" stroke-width="0.70"/>
<line x1="232.60" y1="545.50" x2="235.40" y2="545.50" stroke="#f01818" stroke-width="0.70"/>
<line x1="250.50" y1="544.10" x2="250.50" y2="545.27" stroke="#f01818" stroke-width="0.70"/>
<line x1="249.46" y1="544.50" x2="252.26" y2="544.50" stroke="#f01818" stroke-width="0.70"/>
<line x1="249.46" y1="545.50" x2="252.26" y2="545.50" stroke="#f01818" stroke-width="0.70"/>
<line x1="267.50" y1="542.63" x2="267.50" y2="544.39" stroke="#f01818" stroke-width="0.70"/>
<line x1="266.32" y1="542.50" x2="269.12" y2="542.50" stroke="#f01818" stroke-width="0.70"/>
<line x1="266.32" y1="544.50" x2="269.12" y2="544.50" stroke="#f01818" stroke-width="0.70"/>
<line x1="278.50" y1="540.58" x2="278.50" y2="542.92" stroke="#f01818" stroke-width="0.70"/>
<line x1="277.56" y1="540.50" x2="280.36" y2="540.50" stroke="#f01818" stroke-width="0.70"/>
<line x1="277.56" y1="542.50" x2="280.36" y2="542.50" stroke="#f01818" stroke-width="0.70"/>
<line x1="295.50" y1="538.52" x2="295.50" y2="541.46" stroke="#f01818" stroke-width="0.70"/>
<line x1="294.42" y1="538.50" x2="297.22" y2="538.50" stroke="#f01818" stroke-width="0.70"/>
<line x1="294.42" y1="541.50" x2="297.22" y2="541.50" stroke="#f01818" stroke-width="0.70"/>
<line x1="312.50" y1="536.76" x2="312.50" y2="540.28" stroke="#f01818" stroke-width="0.70"/>
<line x1="311.28" y1="536.50" x2="314.08" y2="536.50" stroke="#f01818" stroke-width="0.70"/>
<line x1="311.28" y1="540.50" x2="314.08" y2="540.50" stroke="#f01818" stroke-width="0.70"/>
<line x1="323.50" y1="537.94" x2="323.50" y2="540.87" stroke="#f01818" stroke-width="0.70"/>
<line x1="322.52" y1="537.50" x2="325.32" y2="537.50" stroke="#f01818" stroke-width="0.70"/>
<line x1="322.52" y1="540.50" x2="325.32" y2="540.50" stroke="#f01818" stroke-width="0.70"/>
<line x1="335.50" y1="539.40" x2="335.50" y2="542.92" stroke="#f01818" stroke-width="0.70"/>
<line x1="333.76" y1="539.50" x2="336.56" y2="539.50" stroke="#f01818" stroke-width="0.70"/>
<line x1="333.76" y1="542.50" x2="336.56" y2="542.50" stroke="#f01818" stroke-width="0.70"/>
<line x1="346.50" y1="540.28" x2="346.50" y2="544.97" stroke="#f01818" stroke-width="0.70"/>
<line x1="345.00" y1="540.50" x2="347.80" y2="540.50" stroke="#f01818" stroke-width="0.70"/>
<line x1="345.00" y1="544.50" x2="347.80" y2="544.50" stroke="#f01818" stroke-width="0.70"/>
<line x1="357.50" y1="540.28" x2="357.50" y2="544.97" stroke="#f01818" stroke-width="0.70"/>
<line x1="356.24" y1="540.50" x2="359.04" y2="540.50" stroke="#f01818" stroke-width="0.70"/>
<line x1="356.24" y1="544.50" x2="359.04" y2="544.50" stroke="#f01818" stroke-width="0.70"/>
<polyline points="234.00,545.27 250.86,544.68 267.72,543.51 278.96,541.75 295.82,539.99 312.68,538.52 323.92,539.40 335.16,541.16 346.40,542.63 357.64,542.63" fill="none" stroke="#f01818" stroke-width="0.90"/>
<rect x="232.65" y="543.92" width="2.70" height="2.70" fill="#f01818"/>
<rect x="249.51" y="543.33" width="2.70" height="2.70" fill="#f01818"/>
<rect x="266.37" y="542.16" width="2.70" height="2.70" fill="#f01818"/>
<rect x="277.61" y="540.40" width="2.70" height="2.70" fill="#f01818"/>
<rect x="294.47" y="538.64" width="2.70" height="2.70" fill="#f01818"/>
<rect x="311.33" y="537.17" width="2.70" height="2.70" fill="#f01818"/>
<rect x="322.57" y="538.05" width="2.70" height="2.70" fill="#f01818"/>
<rect x="333.81" y="539.81" width="2.70" height="2.70" fill="#f01818"/>
<rect x="345.05" y="541.28" width="2.70" height="2.70" fill="#f01818"/>
<rect x="356.29" y="541.28" width="2.70" height="2.70" fill="#f01818"/>
<line x1="234.50" y1="544.39" x2="234.50" y2="545.56" stroke="#1a1aee" stroke-width="0.70"/>
<line x1="232.60" y1="544.50" x2="235.40" y2="544.50" stroke="#1a1aee" stroke-width="0.70"/>
<line x1="232.60" y1="545.50" x2="235.40" y2="545.50" stroke="#1a1aee" stroke-width="0.70"/>
<line x1="250.50" y1="543.22" x2="250.50" y2="544.97" stroke="#1a1aee" stroke-width="0.70"/>
<line x1="249.46" y1="543.50" x2="252.26" y2="543.50" stroke="#1a1aee" stroke-width="0.70"/>
<line x1="249.46" y1="544.50" x2="252.26" y2="544.50" stroke="#1a1aee" stroke-width="0.70"/>
<line x1="267.50" y1="540.87" x2="267.50" y2="543.22" stroke="#1a1aee" stroke-width="0.70"/>
<line x1="266.32" y1="540.50" x2="269.12" y2="540.50" stroke="#1a1aee" stroke-width="0.70"/>
<line x1="266.32" y1="543.50" x2="269.12" y2="543.50" stroke="#1a1aee" stroke-width="0.70"/>
<line x1="278.50" y1="537.64" x2="278.50" y2="542.34" stroke="#1a1aee" stroke-width="0.70"/>
<line x1="277.56" y1="537.50" x2="280.36" y2="537.50" stroke="#1a1aee" stroke-width="0.70"/>
<line x1="277.56" y1="542.50" x2="280.36" y2="542.50" stroke="#1a1aee" stroke-width="0.70"/>
<line x1="295.50" y1="531.78" x2="295.50" y2="538.82" stroke="#1a1aee" stroke-width="0.70"/>
<line x1="294.42" y1="531.50" x2="297.22" y2="531.50" stroke="#1a1aee" stroke-width="0.70"/>
<line x1="294.42" y1="538.50" x2="297.22" y2="538.50" stroke="#1a1aee" stroke-width="0.70"/>
<line x1="312.50" y1="526.50" x2="312.50" y2="535.88" stroke="#1a1aee" stroke-width="0.70"/>
<line x1="311.28" y1="526.50" x2="314.08" y2="526.50" stroke="#1a1aee" stroke-width="0.70"/>
<line x1="311.28" y1="535.50" x2="314.08" y2="535.50" stroke="#1a1aee" stroke-width="0.70"/>
<line x1="323.50" y1="520.05" x2="323.50" y2="535.30" stroke="#1a1aee" stroke-width="0.70"/>
<line x1="322.52" y1="520.50" x2="325.32" y2="520.50" stroke="#1a1aee" stroke-width="0.70"/>
<line x1="322.52" y1="535.50" x2="325.32" y2="535.50" stroke="#1a1aee" stroke-width="0.70"/>
<line x1="335.50" y1="513.60" x2="335.50" y2="531.19" stroke="#1a1aee" stroke-width="0.70"/>
<line x1="333.76" y1="513.50" x2="336.56" y2="513.50" stroke="#1a1aee" stroke-width="0.70"/>
<line x1="333.76" y1="531.50" x2="336.56" y2="531.50" stroke="#1a1aee" stroke-width="0.70"/>
<line x1="346.50" y1="491.90" x2="346.50" y2="515.36" stroke="#1a1aee" stroke-width="0.70"/>
<line x1="345.00" y1="491.50" x2="347.80" y2="491.50" stroke="#1a1aee" stroke-width="0.70"/>
<line x1="345.00" y1="515.50" x2="347.80" y2="515.50" stroke="#1a1aee" stroke-width="0.70"/>
<line x1="357.50" y1="476.66" x2="357.50" y2="507.15" stroke="#1a1aee" stroke-width="0.70"/>
<line x1="356.24" y1="476.50" x2="359.04" y2="476.50" stroke="#1a1aee" stroke-width="0.70"/>
<line x1="356.24" y1="507.50" x2="359.04" y2="507.50" stroke="#1a1aee" stroke-width="0.70"/>
<polyline points="234.00,544.97 250.86,544.10 267.72,542.04 278.96,539.99 295.82,535.30 312.68,531.19 323.92,527.68 335.16,522.40 346.40,503.63 357.64,491.90" fill="none" stroke="#1a1aee" stroke-width="1.10"/>
<polygon points="234.00,543.08 232.28,546.27 235.72,546.27" fill="#1a1aee"/>
<polygon points="250.86,542.20 249.14,545.39 252.59,545.39" fill="#1a1aee"/>
<polygon points="267.72,540.14 266.00,543.34 269.45,543.34" fill="#1a1aee"/>
<polygon points="278.96,538.09 277.23,541.28 280.69,541.28" fill="#1a1aee"/>
<polygon points="295.82,533.40 294.09,536.59 297.55,536.59" fill="#1a1aee"/>
<polygon points="312.68,529.30 310.95,532.49 314.41,532.49" fill="#1a1aee"/>
<polygon points="323.92,525.78 322.19,528.97 325.65,528.97" fill="#1a1aee"/>
<polygon points="335.16,520.50 333.43,523.69 336.88,523.69" fill="#1a1aee"/>
<polygon points="346.40,501.73 344.67,504.93 348.12,504.93" fill="#1a1aee"/>
<polygon points="357.64,490.01 355.91,493.20 359.37,493.20" fill="#1a1aee"/>
<line x1="234.50" y1="544.39" x2="234.50" y2="545.56" stroke="#111111" stroke-width="0.70"/>
<line x1="232.60" y1="544.50" x2="235.40" y2="544.50" stroke="#111111" stroke-width="0.70"/>
<line x1="232.60" y1="545.50" x2="235.40" y2="545.50" stroke="#111111" stroke-width="0.70"/>
<line x1="250.50" y1="543.22" x2="250.50" y2="544.97" stroke="#111111" stroke-width="0.70"/>
<line x1="249.46" y1="543.50" x2="252.26" y2="543.50" stroke="#111111" stroke-width="0.70"/>
<line x1="249.46" y1="544.50" x2="252.26" y2="544.50" stroke="#111111" stroke-width="0.70"/>
<line x1="267.50" y1="540.58" x2="267.50" y2="542.92" stroke="#111111" stroke-width="0.70"/>
<line x1="266.32" y1="540.50" x2="269.12" y2="540.50" stroke="#111111" stroke-width="0.70"/>
<line x1="266.32" y1="542.50" x2="269.12" y2="542.50" stroke="#111111" stroke-width="0.70"/>
<line x1="278.50" y1="535.88" x2="278.50" y2="542.92" stroke="#111111" stroke-width="0.70"/>
<line x1="277.56" y1="535.50" x2="280.36" y2="535.50" stroke="#111111" stroke-width="0.70"/>
<line x1="277.56" y1="542.50" x2="280.36" y2="542.50" stroke="#111111" stroke-width="0.70"/>
<line x1="295.50" y1="533.54" x2="295.50" y2="538.23" stroke="#111111" stroke-width="0.70"/>
<line x1="294.42" y1="533.50" x2="297.22" y2="533.50" stroke="#111111" stroke-width="0.70"/>
<line x1="294.42" y1="538.50" x2="297.22" y2="538.50" stroke="#111111" stroke-width="0.70"/>
<line x1="312.50" y1="528.85" x2="312.50" y2="534.71" stroke="#111111" stroke-width="0.70"/>
<line x1="311.28" y1="528.50" x2="314.08" y2="528.50" stroke="#111111" stroke-width="0.70"/>
<line x1="311.28" y1="534.50" x2="314.08" y2="534.50" stroke="#111111" stroke-width="0.70"/>
<line x1="323.50" y1="520.05" x2="323.50" y2="531.78" stroke="#111111" stroke-width="0.70"/>
<line x1="322.52" y1="520.50" x2="325.32" y2="520.50" stroke="#111111" stroke-width="0.70"/>
<line x1="322.52" y1="531.50" x2="325.32" y2="531.50" stroke="#111111" stroke-width="0.70"/>
<line x1="335.50" y1="513.01" x2="335.50" y2="530.61" stroke="#111111" stroke-width="0.70"/>
<line x1="333.76" y1="513.50" x2="336.56" y2="513.50" stroke="#111111" stroke-width="0.70"/>
<line x1="333.76" y1="530.50" x2="336.56" y2="530.50" stroke="#111111" stroke-width="0.70"/>
<line x1="346.50" y1="491.90" x2="346.50" y2="518.88" stroke="#111111" stroke-width="0.70"/>
<line x1="345.00" y1="491.50" x2="347.80" y2="491.50" stroke="#111111" stroke-width="0.70"/>
<line x1="345.00" y1="518.50" x2="347.80" y2="518.50" stroke="#111111" stroke-width="0.70"/>
<line x1="357.50" y1="476.66" x2="357.50" y2="508.32" stroke="#111111" stroke-width="0.70"/>
<line x1="356.24" y1="476.50" x2="359.04" y2="476.50" stroke="#111111" stroke-width="0.70"/>
<line x1="356.24" y1="508.50" x2="359.04" y2="508.50" stroke="#111111" stroke-width="0.70"/>
<polyline points="234.00,544.97 250.86,544.10 267.72,541.75 278.96,539.40 295.82,535.88 312.68,531.78 323.92,525.92 335.16,521.81 346.40,505.39 357.64,492.49" fill="none" stroke="#111111" stroke-width="1.10"/>
<circle cx="234.00" cy="544.97" r="1.50" fill="#111111"/>
<circle cx="250.86" cy="544.10" r="1.50" fill="#111111"/>
<circle cx="267.72" cy="541.75" r="1.50" fill="#111111"/>
<circle cx="278.96" cy="539.40" r="1.50" fill="#111111"/>
<circle cx="295.82" cy="535.88" r="1.50" fill="#111111"/>
<circle cx="312.68" cy="531.78" r="1.50" fill="#111111"/>
<circle cx="323.92" cy="525.92" r="1.50" fill="#111111"/>
<circle cx="335.16" cy="521.81" r="1.50" fill="#111111"/>
<circle cx="346.40" cy="505.39" r="1.50" fill="#111111"/>
<circle cx="357.64" cy="492.49" r="1.50" fill="#111111"/>
<line x1="239.50" y1="468.50" x2="247.00" y2="468.50" stroke="#111111" stroke-width="0.90"/>
<circle cx="243.25" cy="468.20" r="1.50" fill="#111111"/>
<text x="249.70" y="470.20" font-size="5.60" text-anchor="start" fill="#231f20">IgG control</text>
<line x1="239.50" y1="479.50" x2="247.00" y2="479.50" stroke="#f01818" stroke-width="0.90"/>
<rect x="241.75" y="477.50" width="3.00" height="3.00" fill="#f01818"/>
<text x="249.70" y="481.00" font-size="5.60" text-anchor="start" fill="#231f20">Anti-PD-1 + anti-CTLA4</text>
<line x1="239.50" y1="489.50" x2="247.00" y2="489.50" stroke="#1a1aee" stroke-width="0.90"/>
<polygon points="243.25,487.90 241.53,491.09 244.97,491.09" fill="#1a1aee"/>
<text x="249.70" y="491.80" font-size="5.60" text-anchor="start" fill="#231f20">L-NIL + IgG</text>
<line x1="239.50" y1="500.50" x2="247.00" y2="500.50" stroke="#8a1ab8" stroke-width="0.90"/>
<polygon points="243.25,502.70 241.53,499.51 244.97,499.51" fill="#8a1ab8"/>
<text x="249.70" y="502.80" font-size="5.60" text-anchor="start" fill="#231f20">L-NIL + anti-PD-1 + anti-CTLA4</text>
<line x1="406.50" y1="474.50" x2="406.50" y2="549.65" stroke="#231f20" stroke-width="0.85"/>
<line x1="406.00" y1="549.50" x2="519.50" y2="549.50" stroke="#231f20" stroke-width="0.85"/>
<line x1="403.30" y1="549.50" x2="406.30" y2="549.50" stroke="#231f20" stroke-width="0.85"/>
<text x="401.40" y="551.78" font-size="6.90" text-anchor="end" fill="#231f20">0</text>
<line x1="403.30" y1="538.50" x2="406.30" y2="538.50" stroke="#231f20" stroke-width="0.85"/>
<text x="401.40" y="541.14" font-size="6.90" text-anchor="end" fill="#231f20">200</text>
<line x1="403.30" y1="528.50" x2="406.30" y2="528.50" stroke="#231f20" stroke-width="0.85"/>
<text x="401.40" y="530.50" font-size="6.90" text-anchor="end" fill="#231f20">400</text>
<line x1="403.30" y1="517.50" x2="406.30" y2="517.50" stroke="#231f20" stroke-width="0.85"/>
<text x="401.40" y="519.86" font-size="6.90" text-anchor="end" fill="#231f20">600</text>
<line x1="403.30" y1="506.50" x2="406.30" y2="506.50" stroke="#231f20" stroke-width="0.85"/>
<text x="401.40" y="509.21" font-size="6.90" text-anchor="end" fill="#231f20">800</text>
<line x1="403.30" y1="496.50" x2="406.30" y2="496.50" stroke="#231f20" stroke-width="0.85"/>
<text x="401.40" y="498.57" font-size="6.90" text-anchor="end" fill="#231f20">1,000</text>
<line x1="403.30" y1="485.50" x2="406.30" y2="485.50" stroke="#231f20" stroke-width="0.85"/>
<text x="401.40" y="487.93" font-size="6.90" text-anchor="end" fill="#231f20">1,200</text>
<line x1="403.30" y1="474.50" x2="406.30" y2="474.50" stroke="#231f20" stroke-width="0.85"/>
<text x="401.40" y="477.28" font-size="6.90" text-anchor="end" fill="#231f20">1,400</text>
<line x1="406.50" y1="549.30" x2="406.50" y2="551.90" stroke="#231f20" stroke-width="0.85"/>
<text x="406.50" y="559.60" font-size="6.70" text-anchor="middle" fill="#231f20">0</text>
<line x1="415.50" y1="549.30" x2="415.50" y2="551.90" stroke="#231f20" stroke-width="0.85"/>
<text x="415.08" y="559.60" font-size="6.70" text-anchor="middle" fill="#231f20">2</text>
<line x1="423.50" y1="549.30" x2="423.50" y2="551.90" stroke="#231f20" stroke-width="0.85"/>
<text x="423.65" y="559.60" font-size="6.70" text-anchor="middle" fill="#231f20">4</text>
<line x1="432.50" y1="549.30" x2="432.50" y2="551.90" stroke="#231f20" stroke-width="0.85"/>
<text x="432.23" y="559.60" font-size="6.70" text-anchor="middle" fill="#231f20">6</text>
<line x1="440.50" y1="549.30" x2="440.50" y2="551.90" stroke="#231f20" stroke-width="0.85"/>
<text x="440.80" y="559.60" font-size="6.70" text-anchor="middle" fill="#231f20">8</text>
<line x1="449.50" y1="549.30" x2="449.50" y2="551.90" stroke="#231f20" stroke-width="0.85"/>
<text x="449.38" y="559.60" font-size="6.70" text-anchor="middle" fill="#231f20">10</text>
<line x1="457.50" y1="549.30" x2="457.50" y2="551.90" stroke="#231f20" stroke-width="0.85"/>
<text x="457.96" y="559.60" font-size="6.70" text-anchor="middle" fill="#231f20">12</text>
<line x1="466.50" y1="549.30" x2="466.50" y2="551.90" stroke="#231f20" stroke-width="0.85"/>
<text x="466.53" y="559.60" font-size="6.70" text-anchor="middle" fill="#231f20">14</text>
<line x1="475.50" y1="549.30" x2="475.50" y2="551.90" stroke="#231f20" stroke-width="0.85"/>
<text x="475.11" y="559.60" font-size="6.70" text-anchor="middle" fill="#231f20">16</text>
<line x1="483.50" y1="549.30" x2="483.50" y2="551.90" stroke="#231f20" stroke-width="0.85"/>
<text x="483.68" y="559.60" font-size="6.70" text-anchor="middle" fill="#231f20">18</text>
<line x1="492.50" y1="549.30" x2="492.50" y2="551.90" stroke="#231f20" stroke-width="0.85"/>
<text x="492.26" y="559.60" font-size="6.70" text-anchor="middle" fill="#231f20">20</text>
<line x1="500.50" y1="549.30" x2="500.50" y2="551.90" stroke="#231f20" stroke-width="0.85"/>
<text x="500.84" y="559.60" font-size="6.70" text-anchor="middle" fill="#231f20">22</text>
<line x1="509.50" y1="549.30" x2="509.50" y2="551.90" stroke="#231f20" stroke-width="0.85"/>
<text x="509.41" y="559.60" font-size="6.70" text-anchor="middle" fill="#231f20">24</text>
<line x1="517.50" y1="549.30" x2="517.50" y2="551.90" stroke="#231f20" stroke-width="0.85"/>
<text x="517.99" y="559.60" font-size="6.70" text-anchor="middle" fill="#231f20">26</text>
<text x="466.70" y="567.30" font-size="6.70" text-anchor="middle" fill="#231f20">Time (days after randomization)</text>
<text x="378.00" y="512.00" font-size="6.70" text-anchor="middle" fill="#231f20" transform="rotate(-90 378.00 512.00)">Tumour volume (mm<tspan font-size="4.69" dy="-2.21">3</tspan><tspan dy="2.21">)</tspan></text>
<polyline points="406.50,546.64 419.36,546.37 432.23,545.57 440.80,541.85 453.67,539.72 466.53,537.06 475.11,541.32 483.68,541.32 492.26,541.32 500.84,541.32 509.41,541.32 517.99,541.32" fill="none" stroke="#f01818" stroke-width="0.75"/>
<rect x="405.20" y="545.34" width="2.60" height="2.60" fill="#f01818"/>
<rect x="418.06" y="545.07" width="2.60" height="2.60" fill="#f01818"/>
<rect x="430.93" y="544.27" width="2.60" height="2.60" fill="#f01818"/>
<rect x="439.50" y="540.55" width="2.60" height="2.60" fill="#f01818"/>
<rect x="452.37" y="538.42" width="2.60" height="2.60" fill="#f01818"/>
<rect x="465.23" y="535.76" width="2.60" height="2.60" fill="#f01818"/>
<rect x="473.81" y="540.02" width="2.60" height="2.60" fill="#f01818"/>
<rect x="482.38" y="540.02" width="2.60" height="2.60" fill="#f01818"/>
<rect x="490.96" y="540.02" width="2.60" height="2.60" fill="#f01818"/>
<rect x="499.54" y="540.02" width="2.60" height="2.60" fill="#f01818"/>
<rect x="508.11" y="540.02" width="2.60" height="2.60" fill="#f01818"/>
<rect x="516.69" y="540.02" width="2.60" height="2.60" fill="#f01818"/>
<polyline points="406.50,546.64 419.36,546.37 432.23,545.57 440.80,542.91 453.67,540.79 466.53,538.66 475.11,540.79 483.68,542.91 492.26,542.38 500.84,541.85 509.41,540.79 517.99,540.79" fill="none" stroke="#f01818" stroke-width="0.75"/>
<rect x="405.20" y="545.34" width="2.60" height="2.60" fill="#f01818"/>
<rect x="418.06" y="545.07" width="2.60" height="2.60" fill="#f01818"/>
<rect x="430.93" y="544.27" width="2.60" height="2.60" fill="#f01818"/>
<rect x="439.50" y="541.61" width="2.60" height="2.60" fill="#f01818"/>
<rect x="452.37" y="539.49" width="2.60" height="2.60" fill="#f01818"/>
<rect x="465.23" y="537.36" width="2.60" height="2.60" fill="#f01818"/>
<rect x="473.81" y="539.49" width="2.60" height="2.60" fill="#f01818"/>
<rect x="482.38" y="541.61" width="2.60" height="2.60" fill="#f01818"/>
<rect x="490.96" y="541.08" width="2.60" height="2.60" fill="#f01818"/>
<rect x="499.54" y="540.55" width="2.60" height="2.60" fill="#f01818"/>
<rect x="508.11" y="539.49" width="2.60" height="2.60" fill="#f01818"/>
<rect x="516.69" y="539.49" width="2.60" height="2.60" fill="#f01818"/>
<polyline points="406.50,546.64 419.36,546.37 432.23,545.31 440.80,543.45 453.67,541.85 466.53,540.25 475.11,541.85 483.68,543.45 492.26,542.91 500.84,542.91 509.41,542.38 517.99,542.38" fill="none" stroke="#f01818" stroke-width="0.75"/>
<rect x="405.20" y="545.34" width="2.60" height="2.60" fill="#f01818"/>
<rect x="418.06" y="545.07" width="2.60" height="2.60" fill="#f01818"/>
<rect x="430.93" y="544.01" width="2.60" height="2.60" fill="#f01818"/>
<rect x="439.50" y="542.15" width="2.60" height="2.60" fill="#f01818"/>
<rect x="452.37" y="540.55" width="2.60" height="2.60" fill="#f01818"/>
<rect x="465.23" y="538.95" width="2.60" height="2.60" fill="#f01818"/>
<rect x="473.81" y="540.55" width="2.60" height="2.60" fill="#f01818"/>
<rect x="482.38" y="542.15" width="2.60" height="2.60" fill="#f01818"/>
<rect x="490.96" y="541.61" width="2.60" height="2.60" fill="#f01818"/>
<rect x="499.54" y="541.61" width="2.60" height="2.60" fill="#f01818"/>
<rect x="508.11" y="541.08" width="2.60" height="2.60" fill="#f01818"/>
<rect x="516.69" y="541.08" width="2.60" height="2.60" fill="#f01818"/>
<polyline points="406.50,546.64 419.36,546.37 432.23,545.57 440.80,543.98 453.67,542.91 466.53,541.32 475.11,541.85 483.68,543.98 492.26,545.57 500.84,546.11 509.41,547.17 517.99,547.70" fill="none" stroke="#f01818" stroke-width="0.75"/>
<rect x="405.20" y="545.34" width="2.60" height="2.60" fill="#f01818"/>
<rect x="418.06" y="545.07" width="2.60" height="2.60" fill="#f01818"/>
<rect x="430.93" y="544.27" width="2.60" height="2.60" fill="#f01818"/>
<rect x="439.50" y="542.68" width="2.60" height="2.60" fill="#f01818"/>
<rect x="452.37" y="541.61" width="2.60" height="2.60" fill="#f01818"/>
<rect x="465.23" y="540.02" width="2.60" height="2.60" fill="#f01818"/>
<rect x="473.81" y="540.55" width="2.60" height="2.60" fill="#f01818"/>
<rect x="482.38" y="542.68" width="2.60" height="2.60" fill="#f01818"/>
<rect x="490.96" y="544.27" width="2.60" height="2.60" fill="#f01818"/>
<rect x="499.54" y="544.81" width="2.60" height="2.60" fill="#f01818"/>
<rect x="508.11" y="545.87" width="2.60" height="2.60" fill="#f01818"/>
<rect x="516.69" y="546.40" width="2.60" height="2.60" fill="#f01818"/>
<polyline points="406.50,546.64 419.36,546.37 432.23,545.57 440.80,544.51 453.67,543.45 466.53,542.38 475.11,542.38 483.68,544.51 492.26,546.64 500.84,547.17 509.41,549.30 517.99,549.30" fill="none" stroke="#f01818" stroke-width="0.75"/>
<rect x="405.20" y="545.34" width="2.60" height="2.60" fill="#f01818"/>
<rect x="418.06" y="545.07" width="2.60" height="2.60" fill="#f01818"/>
<rect x="430.93" y="544.27" width="2.60" height="2.60" fill="#f01818"/>
<rect x="439.50" y="543.21" width="2.60" height="2.60" fill="#f01818"/>
<rect x="452.37" y="542.15" width="2.60" height="2.60" fill="#f01818"/>
<rect x="465.23" y="541.08" width="2.60" height="2.60" fill="#f01818"/>
<rect x="473.81" y="541.08" width="2.60" height="2.60" fill="#f01818"/>
<rect x="482.38" y="543.21" width="2.60" height="2.60" fill="#f01818"/>
<rect x="490.96" y="545.34" width="2.60" height="2.60" fill="#f01818"/>
<rect x="499.54" y="545.87" width="2.60" height="2.60" fill="#f01818"/>
<rect x="508.11" y="548.00" width="2.60" height="2.60" fill="#f01818"/>
<rect x="516.69" y="548.00" width="2.60" height="2.60" fill="#f01818"/>
<polyline points="406.50,546.64 419.36,546.37 432.23,545.57 440.80,544.24 453.67,543.98 466.53,542.91 475.11,542.38 483.68,545.04 492.26,547.17 500.84,547.70 509.41,549.30 517.99,549.30" fill="none" stroke="#f01818" stroke-width="0.75"/>
<rect x="405.20" y="545.34" width="2.60" height="2.60" fill="#f01818"/>
<rect x="418.06" y="545.07" width="2.60" height="2.60" fill="#f01818"/>
<rect x="430.93" y="544.27" width="2.60" height="2.60" fill="#f01818"/>
<rect x="439.50" y="542.94" width="2.60" height="2.60" fill="#f01818"/>
<rect x="452.37" y="542.68" width="2.60" height="2.60" fill="#f01818"/>
<rect x="465.23" y="541.61" width="2.60" height="2.60" fill="#f01818"/>
<rect x="473.81" y="541.08" width="2.60" height="2.60" fill="#f01818"/>
<rect x="482.38" y="543.74" width="2.60" height="2.60" fill="#f01818"/>
<rect x="490.96" y="545.87" width="2.60" height="2.60" fill="#f01818"/>
<rect x="499.54" y="546.40" width="2.60" height="2.60" fill="#f01818"/>
<rect x="508.11" y="548.00" width="2.60" height="2.60" fill="#f01818"/>
<rect x="516.69" y="548.00" width="2.60" height="2.60" fill="#f01818"/>
<polyline points="406.50,546.64 419.36,546.37 432.23,545.31 440.80,542.38 453.67,542.38 466.53,541.32 475.11,540.79 483.68,541.85 492.26,540.79 500.84,540.79 509.41,541.32 517.99,541.85" fill="none" stroke="#f01818" stroke-width="0.75"/>
<rect x="405.20" y="545.34" width="2.60" height="2.60" fill="#f01818"/>
<rect x="418.06" y="545.07" width="2.60" height="2.60" fill="#f01818"/>
<rect x="430.93" y="544.01" width="2.60" height="2.60" fill="#f01818"/>
<rect x="439.50" y="541.08" width="2.60" height="2.60" fill="#f01818"/>
<rect x="452.37" y="541.08" width="2.60" height="2.60" fill="#f01818"/>
<rect x="465.23" y="540.02" width="2.60" height="2.60" fill="#f01818"/>
<rect x="473.81" y="539.49" width="2.60" height="2.60" fill="#f01818"/>
<rect x="482.38" y="540.55" width="2.60" height="2.60" fill="#f01818"/>
<rect x="490.96" y="539.49" width="2.60" height="2.60" fill="#f01818"/>
<rect x="499.54" y="539.49" width="2.60" height="2.60" fill="#f01818"/>
<rect x="508.11" y="540.02" width="2.60" height="2.60" fill="#f01818"/>
<rect x="516.69" y="540.55" width="2.60" height="2.60" fill="#f01818"/>
<text x="466.00" y="469.20" font-size="6.70" text-anchor="middle" fill="#231f20">Anti-PD-1 + anti-CTLA4</text>
<text x="466.70" y="575.00" font-size="6.70" text-anchor="middle" fill="#231f20">7/7 without outgrowth</text>
<line x1="565.50" y1="472.70" x2="565.50" y2="549.65" stroke="#231f20" stroke-width="0.85"/>
<line x1="565.00" y1="549.50" x2="680.00" y2="549.50" stroke="#231f20" stroke-width="0.85"/>
<line x1="562.30" y1="549.50" x2="565.30" y2="549.50" stroke="#231f20" stroke-width="0.85"/>
<text x="560.40" y="551.78" font-size="6.90" text-anchor="end" fill="#231f20">0</text>
<line x1="562.30" y1="538.50" x2="565.30" y2="538.50" stroke="#231f20" stroke-width="0.85"/>
<text x="560.40" y="540.88" font-size="6.90" text-anchor="end" fill="#231f20">200</text>
<line x1="562.30" y1="527.50" x2="565.30" y2="527.50" stroke="#231f20" stroke-width="0.85"/>
<text x="560.40" y="529.98" font-size="6.90" text-anchor="end" fill="#231f20">400</text>
<line x1="562.30" y1="516.50" x2="565.30" y2="516.50" stroke="#231f20" stroke-width="0.85"/>
<text x="560.40" y="519.08" font-size="6.90" text-anchor="end" fill="#231f20">600</text>
<line x1="562.30" y1="505.50" x2="565.30" y2="505.50" stroke="#231f20" stroke-width="0.85"/>
<text x="560.40" y="508.18" font-size="6.90" text-anchor="end" fill="#231f20">800</text>
<line x1="562.30" y1="494.50" x2="565.30" y2="494.50" stroke="#231f20" stroke-width="0.85"/>
<text x="560.40" y="497.28" font-size="6.90" text-anchor="end" fill="#231f20">1,000</text>
<line x1="562.30" y1="483.50" x2="565.30" y2="483.50" stroke="#231f20" stroke-width="0.85"/>
<text x="560.40" y="486.38" font-size="6.90" text-anchor="end" fill="#231f20">1,200</text>
<line x1="562.30" y1="473.50" x2="565.30" y2="473.50" stroke="#231f20" stroke-width="0.85"/>
<text x="560.40" y="475.48" font-size="6.90" text-anchor="end" fill="#231f20">1,400</text>
<line x1="565.50" y1="549.30" x2="565.50" y2="551.90" stroke="#231f20" stroke-width="0.85"/>
<text x="565.30" y="559.60" font-size="6.70" text-anchor="middle" fill="#231f20">0</text>
<line x1="574.50" y1="549.30" x2="574.50" y2="551.90" stroke="#231f20" stroke-width="0.85"/>
<text x="574.05" y="559.60" font-size="6.70" text-anchor="middle" fill="#231f20">2</text>
<line x1="582.50" y1="549.30" x2="582.50" y2="551.90" stroke="#231f20" stroke-width="0.85"/>
<text x="582.79" y="559.60" font-size="6.70" text-anchor="middle" fill="#231f20">4</text>
<line x1="591.50" y1="549.30" x2="591.50" y2="551.90" stroke="#231f20" stroke-width="0.85"/>
<text x="591.54" y="559.60" font-size="6.70" text-anchor="middle" fill="#231f20">6</text>
<line x1="600.50" y1="549.30" x2="600.50" y2="551.90" stroke="#231f20" stroke-width="0.85"/>
<text x="600.28" y="559.60" font-size="6.70" text-anchor="middle" fill="#231f20">8</text>
<line x1="609.50" y1="549.30" x2="609.50" y2="551.90" stroke="#231f20" stroke-width="0.85"/>
<text x="609.03" y="559.60" font-size="6.70" text-anchor="middle" fill="#231f20">10</text>
<line x1="617.50" y1="549.30" x2="617.50" y2="551.90" stroke="#231f20" stroke-width="0.85"/>
<text x="617.78" y="559.60" font-size="6.70" text-anchor="middle" fill="#231f20">12</text>
<line x1="626.50" y1="549.30" x2="626.50" y2="551.90" stroke="#231f20" stroke-width="0.85"/>
<text x="626.52" y="559.60" font-size="6.70" text-anchor="middle" fill="#231f20">14</text>
<line x1="635.50" y1="549.30" x2="635.50" y2="551.90" stroke="#231f20" stroke-width="0.85"/>
<text x="635.27" y="559.60" font-size="6.70" text-anchor="middle" fill="#231f20">16</text>
<line x1="644.50" y1="549.30" x2="644.50" y2="551.90" stroke="#231f20" stroke-width="0.85"/>
<text x="644.01" y="559.60" font-size="6.70" text-anchor="middle" fill="#231f20">18</text>
<line x1="652.50" y1="549.30" x2="652.50" y2="551.90" stroke="#231f20" stroke-width="0.85"/>
<text x="652.76" y="559.60" font-size="6.70" text-anchor="middle" fill="#231f20">20</text>
<line x1="661.50" y1="549.30" x2="661.50" y2="551.90" stroke="#231f20" stroke-width="0.85"/>
<text x="661.51" y="559.60" font-size="6.70" text-anchor="middle" fill="#231f20">22</text>
<line x1="670.50" y1="549.30" x2="670.50" y2="551.90" stroke="#231f20" stroke-width="0.85"/>
<text x="670.25" y="559.60" font-size="6.70" text-anchor="middle" fill="#231f20">24</text>
<line x1="678.50" y1="549.30" x2="678.50" y2="551.90" stroke="#231f20" stroke-width="0.85"/>
<text x="679.00" y="559.60" font-size="6.70" text-anchor="middle" fill="#231f20">26</text>
<text x="623.00" y="567.30" font-size="6.70" text-anchor="middle" fill="#231f20">Time (days after randomization)</text>
<text x="537.00" y="512.00" font-size="6.70" text-anchor="middle" fill="#231f20" transform="rotate(-90 537.00 512.00)">Tumour volume (mm<tspan font-size="4.69" dy="-2.21">3</tspan><tspan dy="2.21">)</tspan></text>
<polyline points="565.30,546.03 578.42,546.03 591.54,544.39 600.28,542.21 613.40,539.49 626.52,536.76 635.27,536.76 644.01,533.50 652.76,523.68 661.51,500.25 670.25,485.53 679.00,481.18" fill="none" stroke="#8a1ab8" stroke-width="0.75"/>
<polygon points="565.30,547.67 563.80,544.91 566.79,544.91" fill="#8a1ab8"/>
<polygon points="578.42,547.67 576.92,544.91 579.91,544.91" fill="#8a1ab8"/>
<polygon points="591.54,546.04 590.04,543.27 593.03,543.27" fill="#8a1ab8"/>
<polygon points="600.28,543.86 598.79,541.09 601.78,541.09" fill="#8a1ab8"/>
<polygon points="613.40,541.13 611.91,538.37 614.90,538.37" fill="#8a1ab8"/>
<polygon points="626.52,538.41 625.03,535.64 628.02,535.64" fill="#8a1ab8"/>
<polygon points="635.27,538.41 633.77,535.64 636.76,535.64" fill="#8a1ab8"/>
<polygon points="644.01,535.14 642.52,532.37 645.51,532.37" fill="#8a1ab8"/>
<polygon points="652.76,525.33 651.26,522.56 654.25,522.56" fill="#8a1ab8"/>
<polygon points="661.51,501.89 660.01,499.13 663.00,499.13" fill="#8a1ab8"/>
<polygon points="670.25,487.18 668.76,484.41 671.75,484.41" fill="#8a1ab8"/>
<polygon points="679.00,482.82 677.50,480.05 680.49,480.05" fill="#8a1ab8"/>
<polyline points="565.30,546.03 578.42,546.03 591.54,544.39 600.28,542.76 613.40,538.40 626.52,537.31 635.27,537.86 644.01,535.67 652.76,524.77 661.51,511.15 670.25,495.89 679.00,474.09" fill="none" stroke="#8a1ab8" stroke-width="0.75"/>
<polygon points="565.30,547.67 563.80,544.91 566.79,544.91" fill="#8a1ab8"/>
<polygon points="578.42,547.67 576.92,544.91 579.91,544.91" fill="#8a1ab8"/>
<polygon points="591.54,546.04 590.04,543.27 593.03,543.27" fill="#8a1ab8"/>
<polygon points="600.28,544.40 598.79,541.64 601.78,541.64" fill="#8a1ab8"/>
<polygon points="613.40,540.04 611.91,537.28 614.90,537.28" fill="#8a1ab8"/>
<polygon points="626.52,538.95 625.03,536.19 628.02,536.19" fill="#8a1ab8"/>
<polygon points="635.27,539.50 633.77,536.73 636.76,536.73" fill="#8a1ab8"/>
<polygon points="644.01,537.32 642.52,534.55 645.51,534.55" fill="#8a1ab8"/>
<polygon points="652.76,526.42 651.26,523.65 654.25,523.65" fill="#8a1ab8"/>
<polygon points="661.51,512.79 660.01,510.03 663.00,510.03" fill="#8a1ab8"/>
<polygon points="670.25,497.53 668.76,494.77 671.75,494.77" fill="#8a1ab8"/>
<polygon points="679.00,475.73 677.50,472.97 680.49,472.97" fill="#8a1ab8"/>
<polyline points="565.30,546.03 578.42,546.03 591.54,544.94 600.28,543.30 613.40,540.03 626.52,538.40 635.27,538.40 644.01,536.76 652.76,525.87 661.51,518.24 670.25,494.80 679.00,489.35" fill="none" stroke="#8a1ab8" stroke-width="0.75"/>
<polygon points="565.30,547.67 563.80,544.91 566.79,544.91" fill="#8a1ab8"/>
<polygon points="578.42,547.67 576.92,544.91 579.91,544.91" fill="#8a1ab8"/>
<polygon points="591.54,546.58 590.04,543.82 593.03,543.82" fill="#8a1ab8"/>
<polygon points="600.28,544.95 598.79,542.18 601.78,542.18" fill="#8a1ab8"/>
<polygon points="613.40,541.68 611.91,538.91 614.90,538.91" fill="#8a1ab8"/>
<polygon points="626.52,540.04 625.03,537.28 628.02,537.28" fill="#8a1ab8"/>
<polygon points="635.27,540.04 633.77,537.28 636.76,537.28" fill="#8a1ab8"/>
<polygon points="644.01,538.41 642.52,535.64 645.51,535.64" fill="#8a1ab8"/>
<polygon points="652.76,527.51 651.26,524.74 654.25,524.74" fill="#8a1ab8"/>
<polygon points="661.51,519.88 660.01,517.11 663.00,517.11" fill="#8a1ab8"/>
<polygon points="670.25,496.44 668.76,493.68 671.75,493.68" fill="#8a1ab8"/>
<polygon points="679.00,490.99 677.50,488.23 680.49,488.23" fill="#8a1ab8"/>
<polyline points="565.30,546.03 578.42,546.03 591.54,544.67 600.28,542.76 613.40,540.58 626.52,538.94 635.27,538.40 644.01,536.76 652.76,535.67 661.51,529.13 670.25,517.14 679.00,512.24" fill="none" stroke="#8a1ab8" stroke-width="0.75"/>
<polygon points="565.30,547.67 563.80,544.91 566.79,544.91" fill="#8a1ab8"/>
<polygon points="578.42,547.67 576.92,544.91 579.91,544.91" fill="#8a1ab8"/>
<polygon points="591.54,546.31 590.04,543.55 593.03,543.55" fill="#8a1ab8"/>
<polygon points="600.28,544.40 598.79,541.64 601.78,541.64" fill="#8a1ab8"/>
<polygon points="613.40,542.22 611.91,539.46 614.90,539.46" fill="#8a1ab8"/>
<polygon points="626.52,540.59 625.03,537.82 628.02,537.82" fill="#8a1ab8"/>
<polygon points="635.27,540.04 633.77,537.28 636.76,537.28" fill="#8a1ab8"/>
<polygon points="644.01,538.41 642.52,535.64 645.51,535.64" fill="#8a1ab8"/>
<polygon points="652.76,537.32 651.26,534.55 654.25,534.55" fill="#8a1ab8"/>
<polygon points="661.51,530.78 660.01,528.01 663.00,528.01" fill="#8a1ab8"/>
<polygon points="670.25,518.79 668.76,516.02 671.75,516.02" fill="#8a1ab8"/>
<polygon points="679.00,513.88 677.50,511.12 680.49,511.12" fill="#8a1ab8"/>
<polyline points="565.30,546.03 578.42,546.03 591.54,544.94 600.28,543.85 613.40,541.12 626.52,539.49 635.27,540.03 644.01,541.12 652.76,541.67 661.51,542.21 670.25,537.31 679.00,531.86" fill="none" stroke="#8a1ab8" stroke-width="0.75"/>
<polygon points="565.30,547.67 563.80,544.91 566.79,544.91" fill="#8a1ab8"/>
<polygon points="578.42,547.67 576.92,544.91 579.91,544.91" fill="#8a1ab8"/>
<polygon points="591.54,546.58 590.04,543.82 593.03,543.82" fill="#8a1ab8"/>
<polygon points="600.28,545.49 598.79,542.73 601.78,542.73" fill="#8a1ab8"/>
<polygon points="613.40,542.77 611.91,540.00 614.90,540.00" fill="#8a1ab8"/>
<polygon points="626.52,541.13 625.03,538.37 628.02,538.37" fill="#8a1ab8"/>
<polygon points="635.27,541.68 633.77,538.91 636.76,538.91" fill="#8a1ab8"/>
<polygon points="644.01,542.77 642.52,540.00 645.51,540.00" fill="#8a1ab8"/>
<polygon points="652.76,543.31 651.26,540.55 654.25,540.55" fill="#8a1ab8"/>
<polygon points="661.51,543.86 660.01,541.09 663.00,541.09" fill="#8a1ab8"/>
<polygon points="670.25,538.95 668.76,536.19 671.75,536.19" fill="#8a1ab8"/>
<polygon points="679.00,533.50 677.50,530.74 680.49,530.74" fill="#8a1ab8"/>
<polyline points="565.30,546.03 578.42,546.03 591.54,544.94 600.28,543.85 613.40,541.67 626.52,538.94 635.27,538.94 644.01,542.76 652.76,542.76 661.51,543.30 670.25,543.30 679.00,543.30" fill="none" stroke="#8a1ab8" stroke-width="0.75"/>
<polygon points="565.30,547.67 563.80,544.91 566.79,544.91" fill="#8a1ab8"/>
<polygon points="578.42,547.67 576.92,544.91 579.91,544.91" fill="#8a1ab8"/>
<polygon points="591.54,546.58 590.04,543.82 593.03,543.82" fill="#8a1ab8"/>
<polygon points="600.28,545.49 598.79,542.73 601.78,542.73" fill="#8a1ab8"/>
<polygon points="613.40,543.31 611.91,540.55 614.90,540.55" fill="#8a1ab8"/>
<polygon points="626.52,540.59 625.03,537.82 628.02,537.82" fill="#8a1ab8"/>
<polygon points="635.27,540.59 633.77,537.82 636.76,537.82" fill="#8a1ab8"/>
<polygon points="644.01,544.40 642.52,541.64 645.51,541.64" fill="#8a1ab8"/>
<polygon points="652.76,544.40 651.26,541.64 654.25,541.64" fill="#8a1ab8"/>
<polygon points="661.51,544.95 660.01,542.18 663.00,542.18" fill="#8a1ab8"/>
<polygon points="670.25,544.95 668.76,542.18 671.75,542.18" fill="#8a1ab8"/>
<polygon points="679.00,544.95 677.50,542.18 680.49,542.18" fill="#8a1ab8"/>
<polyline points="565.30,546.03 578.42,546.03 591.54,544.67 600.28,541.67 613.40,536.76 626.52,536.76 635.27,537.31 644.01,543.30 652.76,543.85 661.51,543.85 670.25,543.85 679.00,543.85" fill="none" stroke="#8a1ab8" stroke-width="0.75"/>
<polygon points="565.30,547.67 563.80,544.91 566.79,544.91" fill="#8a1ab8"/>
<polygon points="578.42,547.67 576.92,544.91 579.91,544.91" fill="#8a1ab8"/>
<polygon points="591.54,546.31 590.04,543.55 593.03,543.55" fill="#8a1ab8"/>
<polygon points="600.28,543.31 598.79,540.55 601.78,540.55" fill="#8a1ab8"/>
<polygon points="613.40,538.41 611.91,535.64 614.90,535.64" fill="#8a1ab8"/>
<polygon points="626.52,538.41 625.03,535.64 628.02,535.64" fill="#8a1ab8"/>
<polygon points="635.27,538.95 633.77,536.19 636.76,536.19" fill="#8a1ab8"/>
<polygon points="644.01,544.95 642.52,542.18 645.51,542.18" fill="#8a1ab8"/>
<polygon points="652.76,545.49 651.26,542.73 654.25,542.73" fill="#8a1ab8"/>
<polygon points="661.51,545.49 660.01,542.73 663.00,542.73" fill="#8a1ab8"/>
<polygon points="670.25,545.49 668.76,542.73 671.75,542.73" fill="#8a1ab8"/>
<polygon points="679.00,545.49 677.50,542.73 680.49,542.73" fill="#8a1ab8"/>
<text x="621.70" y="468.70" font-size="6.70" text-anchor="middle" fill="#231f20">L-NIL + anti-PD-1 + anti-CTLA4</text>
<text x="623.00" y="575.00" font-size="6.70" text-anchor="middle" fill="#231f20">2/7 without outgrowth</text>
</svg></body></html>
